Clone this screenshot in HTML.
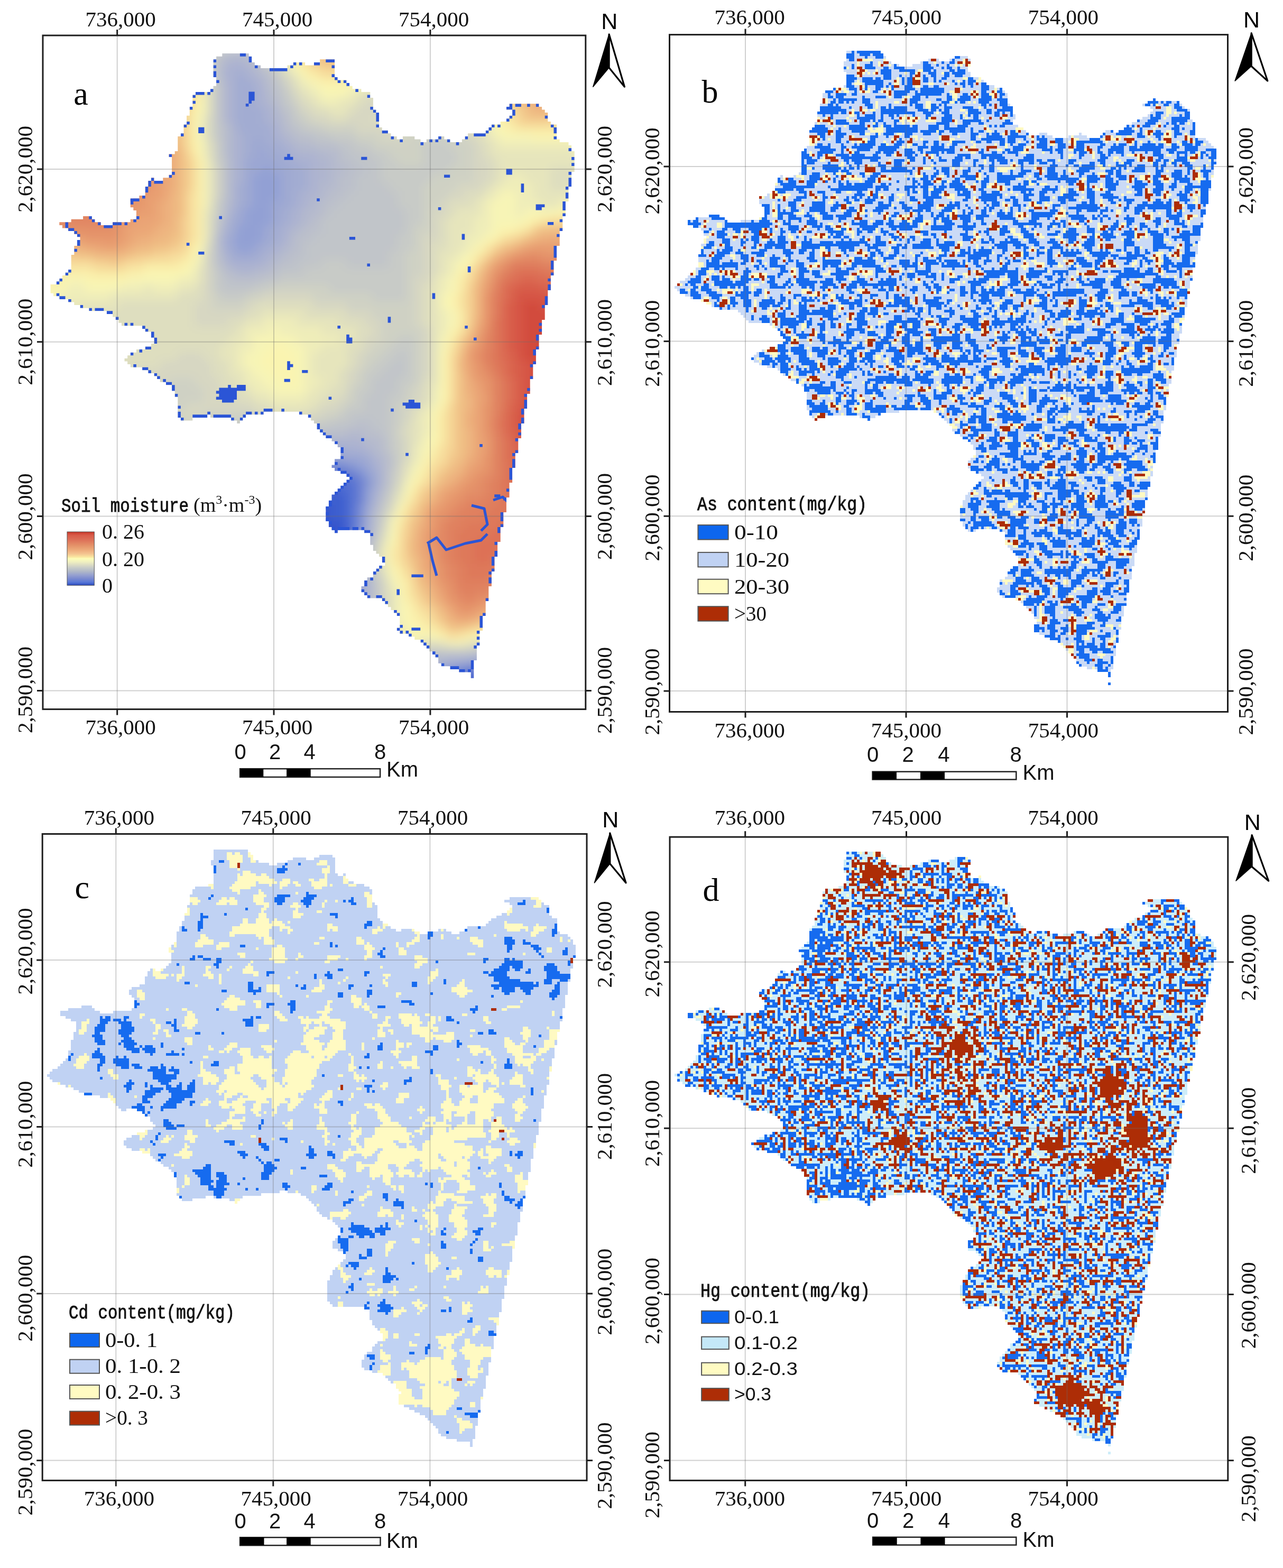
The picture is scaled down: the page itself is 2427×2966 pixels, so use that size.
<!DOCTYPE html>
<html><head><meta charset="utf-8"><title>Soil moisture and heavy metal content maps</title>
<style>
html,body{margin:0;padding:0;background:#fff;}
svg{display:block;}
.g{stroke:#6e6e6e;stroke-opacity:0.32;stroke-width:2;}
.f{fill:none;stroke:#1e1e1e;stroke-width:3;}
.t{stroke:#1e1e1e;stroke-width:3;}
.tl{font-family:'Liberation Serif','Times New Roman',serif;font-size:41px;text-anchor:middle;fill:#111;}
.n{font-family:'Liberation Sans',Arial,sans-serif;font-size:43px;text-anchor:middle;fill:#000;}
.pl{font-family:'Liberation Serif','Times New Roman',serif;font-size:62px;text-anchor:middle;fill:#000;}
.sl{font-family:'Liberation Sans',Arial,sans-serif;font-size:40px;text-anchor:middle;fill:#111;}
.km{font-family:'Liberation Sans',Arial,sans-serif;font-size:40px;fill:#111;}
.lt{font-family:'Liberation Mono','Courier New',monospace;fill:#111;stroke:#111;stroke-width:0.9;}
.ll{font-family:'Liberation Serif','Times New Roman',serif;fill:#111;}
.ls{font-family:'Liberation Sans',Arial,sans-serif;fill:#111;}
</style></head>
<body>
<svg xmlns="http://www.w3.org/2000/svg" width="2427" height="2966" viewBox="0 0 2427 2966">
<defs>
<clipPath id="clipA"><path d="M420.3 101.1h50.4v5.6h-50.4zM409.1 106.7h67.2v5.6h-67.2zM403.5 112.3h72.8v5.6h-72.8zM605.1 112.3h28.0v5.6h-28.0zM403.5 117.9h78.4v5.6h-78.4zM554.7 117.9h22.4v5.6h-22.4zM593.9 117.9h39.2v5.6h-39.2zM403.5 123.5h89.6v5.6h-89.6zM543.5 123.5h89.6v5.6h-89.6zM403.5 129.1h229.6v5.6h-229.6zM403.5 134.7h229.6v5.6h-229.6zM403.5 140.3h229.6v5.6h-229.6zM409.1 145.9h229.6v5.6h-229.6zM409.1 151.5h246.4v5.6h-246.4zM409.1 157.1h252.0v5.6h-252.0zM403.5 162.7h263.2v5.6h-263.2zM397.9 168.3h285.6v5.6h-285.6zM369.9 173.9h330.4v5.6h-330.4zM364.3 179.5h336.0v5.6h-336.0zM364.3 185.1h341.6v5.6h-341.6zM364.3 190.7h341.6v5.6h-341.6zM364.3 196.3h341.6v5.6h-341.6zM963.5 196.3h56.0v5.6h-56.0zM358.7 201.9h347.2v5.6h-347.2zM957.9 201.9h67.2v5.6h-67.2zM358.7 207.5h352.8v5.6h-352.8zM969.1 207.5h61.6v5.6h-61.6zM358.7 213.1h358.4v5.6h-358.4zM969.1 213.1h67.2v5.6h-67.2zM353.1 218.7h364.0v5.6h-364.0zM963.5 218.7h72.8v5.6h-72.8zM353.1 224.3h364.0v5.6h-364.0zM957.9 224.3h78.4v5.6h-78.4zM353.1 229.9h364.0v5.6h-364.0zM946.7 229.9h95.2v5.6h-95.2zM347.5 235.5h369.6v5.6h-369.6zM929.9 235.5h123.2v5.6h-123.2zM347.5 241.1h375.2v5.6h-375.2zM924.3 241.1h128.8v5.6h-128.8zM347.5 246.7h386.4v5.6h-386.4zM918.7 246.7h134.4v5.6h-134.4zM341.9 252.3h397.6v5.6h-397.6zM885.1 252.3h168.0v5.6h-168.0zM336.3 257.9h414.4v5.6h-414.4zM761.9 257.9h22.4v5.6h-22.4zM829.1 257.9h11.2v5.6h-11.2zM879.5 257.9h173.6v5.6h-173.6zM336.3 263.5h459.2v5.6h-459.2zM806.7 263.5h44.8v5.6h-44.8zM873.9 263.5h184.8v5.6h-184.8zM336.3 269.1h739.2v5.6h-739.2zM336.3 274.7h744.8v5.6h-744.8zM336.3 280.3h744.8v5.6h-744.8zM330.7 285.9h756.0v5.6h-756.0zM319.5 291.5h767.2v5.6h-767.2zM325.1 297.1h761.6v5.6h-761.6zM325.1 302.7h761.6v5.6h-761.6zM325.1 308.3h761.6v5.6h-761.6zM325.1 313.9h761.6v5.6h-761.6zM325.1 319.5h761.6v5.6h-761.6zM325.1 325.1h756.0v5.6h-756.0zM319.5 330.7h761.6v5.6h-761.6zM285.9 336.3h5.6v5.6h-5.6zM308.3 336.3h772.8v5.6h-772.8zM280.3 341.9h800.8v5.6h-800.8zM280.3 347.5h800.8v5.6h-800.8zM274.7 353.1h800.8v5.6h-800.8zM274.7 358.7h800.8v5.6h-800.8zM274.7 364.3h800.8v5.6h-800.8zM263.5 369.9h812.0v5.6h-812.0zM246.7 375.5h828.8v5.6h-828.8zM246.7 381.1h823.2v5.6h-823.2zM246.7 386.7h823.2v5.6h-823.2zM252.3 392.3h817.6v5.6h-817.6zM257.9 397.9h812.0v5.6h-812.0zM257.9 403.5h812.0v5.6h-812.0zM157.1 409.1h16.8v5.6h-16.8zM257.9 409.1h806.4v5.6h-806.4zM134.7 414.7h44.8v5.6h-44.8zM246.7 414.7h817.6v5.6h-817.6zM112.3 420.3h78.4v5.6h-78.4zM213.1 420.3h851.2v5.6h-851.2zM117.9 425.9h946.4v5.6h-946.4zM129.1 431.5h935.2v5.6h-935.2zM140.3 437.1h918.4v5.6h-918.4zM145.9 442.7h912.8v5.6h-912.8zM151.5 448.3h907.2v5.6h-907.2zM145.9 453.9h912.8v5.6h-912.8zM145.9 459.5h912.8v5.6h-912.8zM140.3 465.1h912.8v5.6h-912.8zM140.3 470.7h912.8v5.6h-912.8zM140.3 476.3h912.8v5.6h-912.8zM134.7 481.9h918.4v5.6h-918.4zM134.7 487.5h918.4v5.6h-918.4zM134.7 493.1h912.8v5.6h-912.8zM134.7 498.7h912.8v5.6h-912.8zM134.7 504.3h912.8v5.6h-912.8zM129.1 509.9h918.4v5.6h-918.4zM123.5 515.5h924.0v5.6h-924.0zM117.9 521.1h924.0v5.6h-924.0zM112.3 526.7h929.6v5.6h-929.6zM106.7 532.3h935.2v5.6h-935.2zM95.5 537.9h946.4v5.6h-946.4zM95.5 543.5h946.4v5.6h-946.4zM95.5 549.1h940.8v5.6h-940.8zM101.1 554.7h935.2v5.6h-935.2zM112.3 560.3h924.0v5.6h-924.0zM129.1 565.9h907.2v5.6h-907.2zM140.3 571.5h896.0v5.6h-896.0zM151.5 577.1h879.2v5.6h-879.2zM168.3 582.7h862.4v5.6h-862.4zM201.9 588.3h828.8v5.6h-828.8zM213.1 593.9h817.6v5.6h-817.6zM218.7 599.5h812.0v5.6h-812.0zM224.3 605.1h800.8v5.6h-800.8zM229.9 610.7h795.2v5.6h-795.2zM269.1 616.3h756.0v5.6h-756.0zM274.7 621.9h750.4v5.6h-750.4zM285.9 627.5h739.2v5.6h-739.2zM285.9 633.1h733.6v5.6h-733.6zM291.5 638.7h728.0v5.6h-728.0zM291.5 644.3h728.0v5.6h-728.0zM285.9 649.9h733.6v5.6h-733.6zM274.7 655.5h744.8v5.6h-744.8zM257.9 661.1h756.0v5.6h-756.0zM246.7 666.7h767.2v5.6h-767.2zM241.1 672.3h772.8v5.6h-772.8zM235.5 677.9h778.4v5.6h-778.4zM241.1 683.5h772.8v5.6h-772.8zM246.7 689.1h761.6v5.6h-761.6zM269.1 694.7h739.2v5.6h-739.2zM280.3 700.3h728.0v5.6h-728.0zM291.5 705.9h716.8v5.6h-716.8zM297.1 711.5h711.2v5.6h-711.2zM302.7 717.1h700.0v5.6h-700.0zM313.9 722.7h688.8v5.6h-688.8zM325.1 728.3h677.6v5.6h-677.6zM325.1 733.9h677.6v5.6h-677.6zM330.7 739.5h672.0v5.6h-672.0zM330.7 745.1h666.4v5.6h-666.4zM336.3 750.7h660.8v5.6h-660.8zM336.3 756.3h660.8v5.6h-660.8zM336.3 761.9h660.8v5.6h-660.8zM336.3 767.5h660.8v5.6h-660.8zM336.3 773.1h655.2v5.6h-655.2zM336.3 778.7h162.4v5.6h-162.4zM565.9 778.7h425.6v5.6h-425.6zM336.3 784.3h56.0v5.6h-56.0zM397.9 784.3h67.2v5.6h-67.2zM582.7 784.3h408.8v5.6h-408.8zM341.9 789.9h22.4v5.6h-22.4zM437.1 789.9h22.4v5.6h-22.4zM588.3 789.9h403.2v5.6h-403.2zM448.3 795.5h5.6v5.6h-5.6zM593.9 795.5h397.6v5.6h-397.6zM599.5 801.1h386.4v5.6h-386.4zM599.5 806.7h386.4v5.6h-386.4zM605.1 812.3h380.8v5.6h-380.8zM610.7 817.9h375.2v5.6h-375.2zM616.3 823.5h369.6v5.6h-369.6zM627.5 829.1h352.8v5.6h-352.8zM633.1 834.7h347.2v5.6h-347.2zM638.7 840.3h341.6v5.6h-341.6zM644.3 845.9h336.0v5.6h-336.0zM644.3 851.5h336.0v5.6h-336.0zM644.3 857.1h330.4v5.6h-330.4zM644.3 862.7h330.4v5.6h-330.4zM633.1 868.3h341.6v5.6h-341.6zM633.1 873.9h341.6v5.6h-341.6zM627.5 879.5h347.2v5.6h-347.2zM633.1 885.1h336.0v5.6h-336.0zM644.3 890.7h324.8v5.6h-324.8zM655.5 896.3h313.6v5.6h-313.6zM661.1 901.9h308.0v5.6h-308.0zM655.5 907.5h313.6v5.6h-313.6zM649.9 913.1h313.6v5.6h-313.6zM644.3 918.7h319.2v5.6h-319.2zM638.7 924.3h324.8v5.6h-324.8zM633.1 929.9h330.4v5.6h-330.4zM627.5 935.5h336.0v5.6h-336.0zM627.5 941.1h330.4v5.6h-330.4zM621.9 946.7h336.0v5.6h-336.0zM621.9 952.3h336.0v5.6h-336.0zM616.3 957.9h341.6v5.6h-341.6zM616.3 963.5h341.6v5.6h-341.6zM616.3 969.1h336.0v5.6h-336.0zM616.3 974.7h336.0v5.6h-336.0zM616.3 980.3h336.0v5.6h-336.0zM621.9 985.9h330.4v5.6h-330.4zM621.9 991.5h330.4v5.6h-330.4zM627.5 997.1h319.2v5.6h-319.2zM633.1 1002.7h5.6v5.6h-5.6zM689.1 1002.7h257.6v5.6h-257.6zM700.3 1008.3h246.4v5.6h-246.4zM700.3 1013.9h246.4v5.6h-246.4zM700.3 1019.5h246.4v5.6h-246.4zM700.3 1025.1h240.8v5.6h-240.8zM705.9 1030.7h235.2v5.6h-235.2zM705.9 1036.3h235.2v5.6h-235.2zM711.5 1041.9h229.6v5.6h-229.6zM717.1 1047.5h224.0v5.6h-224.0zM722.7 1053.1h212.8v5.6h-212.8zM722.7 1058.7h212.8v5.6h-212.8zM728.3 1064.3h207.2v5.6h-207.2zM717.1 1069.9h218.4v5.6h-218.4zM711.5 1075.5h224.0v5.6h-224.0zM705.9 1081.1h224.0v5.6h-224.0zM705.9 1086.7h224.0v5.6h-224.0zM694.7 1092.3h235.2v5.6h-235.2zM689.1 1097.9h240.8v5.6h-240.8zM689.1 1103.5h240.8v5.6h-240.8zM683.5 1109.1h240.8v5.6h-240.8zM683.5 1114.7h240.8v5.6h-240.8zM689.1 1120.3h235.2v5.6h-235.2zM694.7 1125.9h229.6v5.6h-229.6zM722.7 1131.5h201.6v5.6h-201.6zM728.3 1137.1h190.4v5.6h-190.4zM733.9 1142.7h184.8v5.6h-184.8zM739.5 1148.3h179.2v5.6h-179.2zM745.1 1153.9h173.6v5.6h-173.6zM750.7 1159.5h168.0v5.6h-168.0zM756.3 1165.1h156.8v5.6h-156.8zM756.3 1170.7h156.8v5.6h-156.8zM756.3 1176.3h156.8v5.6h-156.8zM756.3 1181.9h156.8v5.6h-156.8zM750.7 1187.5h162.4v5.6h-162.4zM756.3 1193.1h151.2v5.6h-151.2zM773.1 1198.7h134.4v5.6h-134.4zM784.3 1204.3h123.2v5.6h-123.2zM795.5 1209.9h112.0v5.6h-112.0zM801.1 1215.5h106.4v5.6h-106.4zM806.7 1221.1h95.2v5.6h-95.2zM812.3 1226.7h89.6v5.6h-89.6zM817.9 1232.3h84.0v5.6h-84.0zM823.5 1237.9h78.4v5.6h-78.4zM829.1 1243.5h72.8v5.6h-72.8zM829.1 1249.1h67.2v5.6h-67.2zM834.7 1254.7h61.6v5.6h-61.6zM851.5 1260.3h44.8v5.6h-44.8zM868.3 1265.9h28.0v5.6h-28.0zM890.7 1271.5h5.6v5.6h-5.6zM890.7 1277.1h5.6v5.6h-5.6z"/></clipPath>
<filter id="blurA" filterUnits="userSpaceOnUse" x="60" y="70" width="1070" height="1280"><feGaussianBlur stdDeviation="9"/></filter>
<clipPath id="clipB"><path d="M1601.0 96.0h65.0v5h-65.0zM1601.0 101.0h70.0v5h-70.0zM1601.0 106.0h75.0v5h-75.0zM1806.0 106.0h25.0v5h-25.0zM1601.0 111.0h75.0v5h-75.0zM1756.0 111.0h20.0v5h-20.0zM1796.0 111.0h40.0v5h-40.0zM1596.0 116.0h90.0v5h-90.0zM1741.0 116.0h95.0v5h-95.0zM1596.0 121.0h105.0v5h-105.0zM1726.0 121.0h110.0v5h-110.0zM1596.0 126.0h235.0v5h-235.0zM1596.0 131.0h235.0v5h-235.0zM1601.0 136.0h235.0v5h-235.0zM1601.0 141.0h235.0v5h-235.0zM1601.0 146.0h255.0v5h-255.0zM1601.0 151.0h260.0v5h-260.0zM1601.0 156.0h265.0v5h-265.0zM1596.0 161.0h285.0v5h-285.0zM1576.0 166.0h320.0v5h-320.0zM1561.0 171.0h340.0v5h-340.0zM1556.0 176.0h350.0v5h-350.0zM1556.0 181.0h350.0v5h-350.0zM1556.0 186.0h350.0v5h-350.0zM2181.0 186.0h5.0v5h-5.0zM1556.0 191.0h350.0v5h-350.0zM2171.0 191.0h60.0v5h-60.0zM1551.0 196.0h360.0v5h-360.0zM2161.0 196.0h75.0v5h-75.0zM1551.0 201.0h365.0v5h-365.0zM2176.0 201.0h65.0v5h-65.0zM1551.0 206.0h365.0v5h-365.0zM2181.0 206.0h70.0v5h-70.0zM1546.0 211.0h370.0v5h-370.0zM2176.0 211.0h75.0v5h-75.0zM1546.0 216.0h375.0v5h-375.0zM2171.0 216.0h80.0v5h-80.0zM1546.0 221.0h375.0v5h-375.0zM2161.0 221.0h90.0v5h-90.0zM1546.0 226.0h370.0v5h-370.0zM2151.0 226.0h105.0v5h-105.0zM1541.0 231.0h375.0v5h-375.0zM2141.0 231.0h120.0v5h-120.0zM1541.0 236.0h385.0v5h-385.0zM2131.0 236.0h130.0v5h-130.0zM1536.0 241.0h400.0v5h-400.0zM2126.0 241.0h135.0v5h-135.0zM1531.0 246.0h410.0v5h-410.0zM2091.0 246.0h15.0v5h-15.0zM2116.0 246.0h145.0v5h-145.0zM1531.0 251.0h415.0v5h-415.0zM1966.0 251.0h15.0v5h-15.0zM2041.0 251.0h5.0v5h-5.0zM2086.0 251.0h175.0v5h-175.0zM1531.0 256.0h460.0v5h-460.0zM2021.0 256.0h35.0v5h-35.0zM2081.0 256.0h180.0v5h-180.0zM1531.0 261.0h750.0v5h-750.0zM1531.0 266.0h755.0v5h-755.0zM1531.0 271.0h760.0v5h-760.0zM1526.0 276.0h770.0v5h-770.0zM1521.0 281.0h780.0v5h-780.0zM1516.0 286.0h785.0v5h-785.0zM1516.0 291.0h785.0v5h-785.0zM1516.0 296.0h785.0v5h-785.0zM1516.0 301.0h785.0v5h-785.0zM1516.0 306.0h785.0v5h-785.0zM1516.0 311.0h780.0v5h-780.0zM1516.0 316.0h780.0v5h-780.0zM1516.0 321.0h780.0v5h-780.0zM1511.0 326.0h785.0v5h-785.0zM1476.0 331.0h5.0v5h-5.0zM1501.0 331.0h795.0v5h-795.0zM1471.0 336.0h820.0v5h-820.0zM1471.0 341.0h820.0v5h-820.0zM1466.0 346.0h825.0v5h-825.0zM1466.0 351.0h825.0v5h-825.0zM1466.0 356.0h825.0v5h-825.0zM1461.0 361.0h825.0v5h-825.0zM1451.0 366.0h835.0v5h-835.0zM1436.0 371.0h850.0v5h-850.0zM1436.0 376.0h850.0v5h-850.0zM1436.0 381.0h850.0v5h-850.0zM1441.0 386.0h840.0v5h-840.0zM1446.0 391.0h835.0v5h-835.0zM1446.0 396.0h835.0v5h-835.0zM1446.0 401.0h835.0v5h-835.0zM1341.0 406.0h20.0v5h-20.0zM1446.0 406.0h830.0v5h-830.0zM1316.0 411.0h55.0v5h-55.0zM1436.0 411.0h840.0v5h-840.0zM1301.0 416.0h75.0v5h-75.0zM1401.0 416.0h875.0v5h-875.0zM1301.0 421.0h975.0v5h-975.0zM1311.0 426.0h965.0v5h-965.0zM1326.0 431.0h945.0v5h-945.0zM1331.0 436.0h940.0v5h-940.0zM1331.0 441.0h940.0v5h-940.0zM1336.0 446.0h935.0v5h-935.0zM1331.0 451.0h940.0v5h-940.0zM1331.0 456.0h935.0v5h-935.0zM1326.0 461.0h940.0v5h-940.0zM1326.0 466.0h940.0v5h-940.0zM1326.0 471.0h940.0v5h-940.0zM1326.0 476.0h940.0v5h-940.0zM1321.0 481.0h940.0v5h-940.0zM1321.0 486.0h940.0v5h-940.0zM1321.0 491.0h940.0v5h-940.0zM1321.0 496.0h940.0v5h-940.0zM1321.0 501.0h940.0v5h-940.0zM1316.0 506.0h940.0v5h-940.0zM1311.0 511.0h945.0v5h-945.0zM1306.0 516.0h950.0v5h-950.0zM1301.0 521.0h955.0v5h-955.0zM1296.0 526.0h960.0v5h-960.0zM1286.0 531.0h965.0v5h-965.0zM1281.0 536.0h970.0v5h-970.0zM1276.0 541.0h975.0v5h-975.0zM1281.0 546.0h970.0v5h-970.0zM1286.0 551.0h965.0v5h-965.0zM1296.0 556.0h950.0v5h-950.0zM1306.0 561.0h940.0v5h-940.0zM1326.0 566.0h920.0v5h-920.0zM1336.0 571.0h910.0v5h-910.0zM1346.0 576.0h900.0v5h-900.0zM1361.0 581.0h880.0v5h-880.0zM1396.0 586.0h845.0v5h-845.0zM1401.0 591.0h840.0v5h-840.0zM1406.0 596.0h835.0v5h-835.0zM1411.0 601.0h830.0v5h-830.0zM1416.0 606.0h820.0v5h-820.0zM1456.0 611.0h780.0v5h-780.0zM1461.0 616.0h775.0v5h-775.0zM1471.0 621.0h765.0v5h-765.0zM1476.0 626.0h760.0v5h-760.0zM1476.0 631.0h755.0v5h-755.0zM1481.0 636.0h750.0v5h-750.0zM1486.0 641.0h745.0v5h-745.0zM1481.0 646.0h750.0v5h-750.0zM1471.0 651.0h755.0v5h-755.0zM1456.0 656.0h770.0v5h-770.0zM1441.0 661.0h785.0v5h-785.0zM1431.0 666.0h795.0v5h-795.0zM1426.0 671.0h800.0v5h-800.0zM1421.0 676.0h800.0v5h-800.0zM1426.0 681.0h795.0v5h-795.0zM1436.0 686.0h785.0v5h-785.0zM1451.0 691.0h770.0v5h-770.0zM1471.0 696.0h750.0v5h-750.0zM1476.0 701.0h740.0v5h-740.0zM1481.0 706.0h735.0v5h-735.0zM1491.0 711.0h725.0v5h-725.0zM1496.0 716.0h720.0v5h-720.0zM1506.0 721.0h710.0v5h-710.0zM1516.0 726.0h695.0v5h-695.0zM1521.0 731.0h690.0v5h-690.0zM1521.0 736.0h690.0v5h-690.0zM1526.0 741.0h685.0v5h-685.0zM1526.0 746.0h685.0v5h-685.0zM1526.0 751.0h680.0v5h-680.0zM1526.0 756.0h680.0v5h-680.0zM1526.0 761.0h680.0v5h-680.0zM1526.0 766.0h680.0v5h-680.0zM1526.0 771.0h680.0v5h-680.0zM1531.0 776.0h170.0v5h-170.0zM1766.0 776.0h435.0v5h-435.0zM1531.0 781.0h135.0v5h-135.0zM1776.0 781.0h425.0v5h-425.0zM1536.0 786.0h25.0v5h-25.0zM1626.0 786.0h30.0v5h-30.0zM1781.0 786.0h420.0v5h-420.0zM1541.0 791.0h5.0v5h-5.0zM1641.0 791.0h5.0v5h-5.0zM1786.0 791.0h415.0v5h-415.0zM1791.0 796.0h410.0v5h-410.0zM1796.0 801.0h400.0v5h-400.0zM1801.0 806.0h395.0v5h-395.0zM1801.0 811.0h395.0v5h-395.0zM1806.0 816.0h390.0v5h-390.0zM1816.0 821.0h380.0v5h-380.0zM1821.0 826.0h370.0v5h-370.0zM1831.0 831.0h360.0v5h-360.0zM1836.0 836.0h355.0v5h-355.0zM1841.0 841.0h350.0v5h-350.0zM1841.0 846.0h350.0v5h-350.0zM1846.0 851.0h340.0v5h-340.0zM1846.0 856.0h340.0v5h-340.0zM1841.0 861.0h345.0v5h-345.0zM1836.0 866.0h350.0v5h-350.0zM1831.0 871.0h355.0v5h-355.0zM1831.0 876.0h350.0v5h-350.0zM1831.0 881.0h350.0v5h-350.0zM1836.0 886.0h345.0v5h-345.0zM1846.0 891.0h335.0v5h-335.0zM1856.0 896.0h325.0v5h-325.0zM1861.0 901.0h315.0v5h-315.0zM1856.0 906.0h320.0v5h-320.0zM1851.0 911.0h325.0v5h-325.0zM1846.0 916.0h330.0v5h-330.0zM1841.0 921.0h330.0v5h-330.0zM1836.0 926.0h335.0v5h-335.0zM1831.0 931.0h340.0v5h-340.0zM1826.0 936.0h345.0v5h-345.0zM1826.0 941.0h345.0v5h-345.0zM1821.0 946.0h345.0v5h-345.0zM1821.0 951.0h345.0v5h-345.0zM1816.0 956.0h350.0v5h-350.0zM1816.0 961.0h350.0v5h-350.0zM1816.0 966.0h350.0v5h-350.0zM1816.0 971.0h345.0v5h-345.0zM1816.0 976.0h345.0v5h-345.0zM1816.0 981.0h345.0v5h-345.0zM1821.0 986.0h340.0v5h-340.0zM1821.0 991.0h340.0v5h-340.0zM1826.0 996.0h330.0v5h-330.0zM1831.0 1001.0h15.0v5h-15.0zM1891.0 1001.0h265.0v5h-265.0zM1901.0 1006.0h255.0v5h-255.0zM1901.0 1011.0h255.0v5h-255.0zM1901.0 1016.0h255.0v5h-255.0zM1901.0 1021.0h250.0v5h-250.0zM1901.0 1026.0h250.0v5h-250.0zM1906.0 1031.0h245.0v5h-245.0zM1911.0 1036.0h240.0v5h-240.0zM1916.0 1041.0h235.0v5h-235.0zM1921.0 1046.0h225.0v5h-225.0zM1926.0 1051.0h220.0v5h-220.0zM1926.0 1056.0h220.0v5h-220.0zM1926.0 1061.0h220.0v5h-220.0zM1926.0 1066.0h220.0v5h-220.0zM1916.0 1071.0h225.0v5h-225.0zM1911.0 1076.0h230.0v5h-230.0zM1906.0 1081.0h235.0v5h-235.0zM1906.0 1086.0h235.0v5h-235.0zM1901.0 1091.0h240.0v5h-240.0zM1891.0 1096.0h245.0v5h-245.0zM1891.0 1101.0h245.0v5h-245.0zM1891.0 1106.0h245.0v5h-245.0zM1886.0 1111.0h250.0v5h-250.0zM1886.0 1116.0h250.0v5h-250.0zM1891.0 1121.0h240.0v5h-240.0zM1896.0 1126.0h235.0v5h-235.0zM1921.0 1131.0h210.0v5h-210.0zM1931.0 1136.0h200.0v5h-200.0zM1936.0 1141.0h195.0v5h-195.0zM1941.0 1146.0h185.0v5h-185.0zM1946.0 1151.0h180.0v5h-180.0zM1951.0 1156.0h175.0v5h-175.0zM1956.0 1161.0h170.0v5h-170.0zM1956.0 1166.0h165.0v5h-165.0zM1961.0 1171.0h160.0v5h-160.0zM1961.0 1176.0h160.0v5h-160.0zM1956.0 1181.0h165.0v5h-165.0zM1956.0 1186.0h165.0v5h-165.0zM1956.0 1191.0h160.0v5h-160.0zM1966.0 1196.0h150.0v5h-150.0zM1976.0 1201.0h140.0v5h-140.0zM1986.0 1206.0h130.0v5h-130.0zM2001.0 1211.0h115.0v5h-115.0zM2006.0 1216.0h105.0v5h-105.0zM2011.0 1221.0h100.0v5h-100.0zM2016.0 1226.0h95.0v5h-95.0zM2021.0 1231.0h90.0v5h-90.0zM2026.0 1236.0h85.0v5h-85.0zM2031.0 1241.0h75.0v5h-75.0zM2036.0 1246.0h70.0v5h-70.0zM2036.0 1251.0h70.0v5h-70.0zM2041.0 1256.0h65.0v5h-65.0zM2056.0 1261.0h50.0v5h-50.0zM2076.0 1266.0h25.0v5h-25.0zM2096.0 1271.0h5.0v5h-5.0zM2096.0 1276.0h5.0v5h-5.0zM2096.0 1291.0h5.0v5h-5.0z"/></clipPath>
<filter id="texB" filterUnits="userSpaceOnUse" primitiveUnits="userSpaceOnUse" x="1268" y="88" width="1042" height="1230" color-interpolation-filters="sRGB">
<feTurbulence type="fractalNoise" baseFrequency="0.055" numOctaves="3" seed="11" result="t"/>
<feColorMatrix in="t" type="matrix" values="1 0 0 0 0 1 0 0 0 0 1 0 0 0 0 0 0 0 0 1" result="n"/>
<feFlood x="1268" y="88" width="1" height="1" flood-color="#fff" result="d"/>
<feComposite in="d" in2="d" operator="over" x="1268" y="88" width="5" height="5" result="d2"/>
<feTile in="d2" result="dots"/>
<feComposite in="n" in2="dots" operator="in" result="smp"/>
<feMorphology in="smp" operator="dilate" radius="2 2" result="blk"/>
<feComponentTransfer in="blk">
<feFuncR type="discrete" tableValues="0.09 0.09 0.09 0.09 0.09 0.09 0.09 0.09 0.09 0.09 0.09 0.09 0.09 0.09 0.09 0.09 0.09 0.09 0.09 0.09 0.09 0.09 0.09 0.09 0.09 0.09 0.09 0.09 0.09 0.09 0.09 0.09 0.09 0.09 0.09 0.09 0.09 0.09 0.09 0.09 0.09 0.09 0.09 0.09 0.09 0.09 0.09 0.09 0.09 0.09 0.09 0.09 0.09 0.09 0.09 0.09 0.09 0.09 0.09 0.09 0.09 0.09 0.09 0.09 0.09 0.09 0.09 0.09 0.09 0.09 0.09 0.09 0.09 0.09 0.09 0.09 0.09 0.09 0.09 0.09 0.09 0.09 0.09 0.09 0.09 0.09 0.09 0.09 0.09 0.09 0.09 0.09 0.09 0.09 0.09 0.09 0.09 0.09 0.09 0.09 0.09 0.09 0.09 0.09 0.09 0.09 0.09 0.09 0.09 0.09 0.09 0.09 0.09 0.09 0.09 0.09 0.09 0.09 0.09 0.09 0.796 0.796 0.796 0.796 0.796 0.796 0.796 0.796 0.796 0.796 0.796 0.796 0.796 0.796 0.796 0.796 0.796 0.796 0.796 0.796 0.796 0.796 0.796 0.796 0.796 0.796 0.796 0.796 0.796 0.796 0.796 0.796 0.796 0.796 0.796 0.796 0.796 0.796 0.796 0.796 0.796 0.796 1 1 1 1 1 1 1 1 1 1 1 1 1 1 1 1 1 1 1 0.678 0.678 0.678 0.678 0.678 0.678 0.678 0.678 0.678 0.678 0.678 0.678 0.678 0.678 0.678 0.678 0.678 0.678 0.678 0.678 0.678 0.678 0.678 0.678 0.678 0.678 0.678 0.678 0.678 0.678 0.678 0.678 0.678 0.678 0.678 0.678 0.678 0.678 0.678 0.678 0.678 0.678 0.678 0.678 0.678 0.678 0.678 0.678 0.678 0.678 0.678 0.678 0.678 0.678 0.678 0.678 0.678 0.678 0.678 0.678 0.678 0.678 0.678 0.678 0.678 0.678 0.678 0.678 0.678 0.678 0.678 0.678 0.678 0.678 0.678"/>
<feFuncG type="discrete" tableValues="0.42 0.42 0.42 0.42 0.42 0.42 0.42 0.42 0.42 0.42 0.42 0.42 0.42 0.42 0.42 0.42 0.42 0.42 0.42 0.42 0.42 0.42 0.42 0.42 0.42 0.42 0.42 0.42 0.42 0.42 0.42 0.42 0.42 0.42 0.42 0.42 0.42 0.42 0.42 0.42 0.42 0.42 0.42 0.42 0.42 0.42 0.42 0.42 0.42 0.42 0.42 0.42 0.42 0.42 0.42 0.42 0.42 0.42 0.42 0.42 0.42 0.42 0.42 0.42 0.42 0.42 0.42 0.42 0.42 0.42 0.42 0.42 0.42 0.42 0.42 0.42 0.42 0.42 0.42 0.42 0.42 0.42 0.42 0.42 0.42 0.42 0.42 0.42 0.42 0.42 0.42 0.42 0.42 0.42 0.42 0.42 0.42 0.42 0.42 0.42 0.42 0.42 0.42 0.42 0.42 0.42 0.42 0.42 0.42 0.42 0.42 0.42 0.42 0.42 0.42 0.42 0.42 0.42 0.42 0.42 0.855 0.855 0.855 0.855 0.855 0.855 0.855 0.855 0.855 0.855 0.855 0.855 0.855 0.855 0.855 0.855 0.855 0.855 0.855 0.855 0.855 0.855 0.855 0.855 0.855 0.855 0.855 0.855 0.855 0.855 0.855 0.855 0.855 0.855 0.855 0.855 0.855 0.855 0.855 0.855 0.855 0.855 0.984 0.984 0.984 0.984 0.984 0.984 0.984 0.984 0.984 0.984 0.984 0.984 0.984 0.984 0.984 0.984 0.984 0.984 0.984 0.176 0.176 0.176 0.176 0.176 0.176 0.176 0.176 0.176 0.176 0.176 0.176 0.176 0.176 0.176 0.176 0.176 0.176 0.176 0.176 0.176 0.176 0.176 0.176 0.176 0.176 0.176 0.176 0.176 0.176 0.176 0.176 0.176 0.176 0.176 0.176 0.176 0.176 0.176 0.176 0.176 0.176 0.176 0.176 0.176 0.176 0.176 0.176 0.176 0.176 0.176 0.176 0.176 0.176 0.176 0.176 0.176 0.176 0.176 0.176 0.176 0.176 0.176 0.176 0.176 0.176 0.176 0.176 0.176 0.176 0.176 0.176 0.176 0.176 0.176"/>
<feFuncB type="discrete" tableValues="0.941 0.941 0.941 0.941 0.941 0.941 0.941 0.941 0.941 0.941 0.941 0.941 0.941 0.941 0.941 0.941 0.941 0.941 0.941 0.941 0.941 0.941 0.941 0.941 0.941 0.941 0.941 0.941 0.941 0.941 0.941 0.941 0.941 0.941 0.941 0.941 0.941 0.941 0.941 0.941 0.941 0.941 0.941 0.941 0.941 0.941 0.941 0.941 0.941 0.941 0.941 0.941 0.941 0.941 0.941 0.941 0.941 0.941 0.941 0.941 0.941 0.941 0.941 0.941 0.941 0.941 0.941 0.941 0.941 0.941 0.941 0.941 0.941 0.941 0.941 0.941 0.941 0.941 0.941 0.941 0.941 0.941 0.941 0.941 0.941 0.941 0.941 0.941 0.941 0.941 0.941 0.941 0.941 0.941 0.941 0.941 0.941 0.941 0.941 0.941 0.941 0.941 0.941 0.941 0.941 0.941 0.941 0.941 0.941 0.941 0.941 0.941 0.941 0.941 0.941 0.941 0.941 0.941 0.941 0.941 0.965 0.965 0.965 0.965 0.965 0.965 0.965 0.965 0.965 0.965 0.965 0.965 0.965 0.965 0.965 0.965 0.965 0.965 0.965 0.965 0.965 0.965 0.965 0.965 0.965 0.965 0.965 0.965 0.965 0.965 0.965 0.965 0.965 0.965 0.965 0.965 0.965 0.965 0.965 0.965 0.965 0.965 0.761 0.761 0.761 0.761 0.761 0.761 0.761 0.761 0.761 0.761 0.761 0.761 0.761 0.761 0.761 0.761 0.761 0.761 0.761 0.024 0.024 0.024 0.024 0.024 0.024 0.024 0.024 0.024 0.024 0.024 0.024 0.024 0.024 0.024 0.024 0.024 0.024 0.024 0.024 0.024 0.024 0.024 0.024 0.024 0.024 0.024 0.024 0.024 0.024 0.024 0.024 0.024 0.024 0.024 0.024 0.024 0.024 0.024 0.024 0.024 0.024 0.024 0.024 0.024 0.024 0.024 0.024 0.024 0.024 0.024 0.024 0.024 0.024 0.024 0.024 0.024 0.024 0.024 0.024 0.024 0.024 0.024 0.024 0.024 0.024 0.024 0.024 0.024 0.024 0.024 0.024 0.024 0.024 0.024"/>
<feFuncA type="linear" slope="0" intercept="1"/>
</feComponentTransfer>
</filter>
<clipPath id="clipC"><path d="M404.0 1607.0h65.0v5h-65.0zM404.0 1612.0h70.0v5h-70.0zM404.0 1617.0h75.0v5h-75.0zM604.0 1617.0h25.0v5h-25.0zM404.0 1622.0h75.0v5h-75.0zM554.0 1622.0h25.0v5h-25.0zM594.0 1622.0h40.0v5h-40.0zM399.0 1627.0h90.0v5h-90.0zM544.0 1627.0h90.0v5h-90.0zM399.0 1632.0h110.0v5h-110.0zM524.0 1632.0h110.0v5h-110.0zM404.0 1637.0h230.0v5h-230.0zM404.0 1642.0h230.0v5h-230.0zM404.0 1647.0h230.0v5h-230.0zM404.0 1652.0h235.0v5h-235.0zM649.0 1652.0h5.0v5h-5.0zM404.0 1657.0h250.0v5h-250.0zM404.0 1662.0h255.0v5h-255.0zM404.0 1667.0h265.0v5h-265.0zM394.0 1672.0h295.0v5h-295.0zM369.0 1677.0h330.0v5h-330.0zM364.0 1682.0h340.0v5h-340.0zM364.0 1687.0h340.0v5h-340.0zM359.0 1692.0h345.0v5h-345.0zM359.0 1697.0h345.0v5h-345.0zM964.0 1697.0h55.0v5h-55.0zM359.0 1702.0h345.0v5h-345.0zM954.0 1702.0h70.0v5h-70.0zM359.0 1707.0h350.0v5h-350.0zM964.0 1707.0h65.0v5h-65.0zM354.0 1712.0h360.0v5h-360.0zM969.0 1712.0h70.0v5h-70.0zM354.0 1717.0h360.0v5h-360.0zM964.0 1717.0h75.0v5h-75.0zM354.0 1722.0h360.0v5h-360.0zM959.0 1722.0h80.0v5h-80.0zM349.0 1727.0h365.0v5h-365.0zM949.0 1727.0h90.0v5h-90.0zM349.0 1732.0h365.0v5h-365.0zM939.0 1732.0h105.0v5h-105.0zM349.0 1737.0h370.0v5h-370.0zM929.0 1737.0h125.0v5h-125.0zM344.0 1742.0h380.0v5h-380.0zM924.0 1742.0h130.0v5h-130.0zM344.0 1747.0h390.0v5h-390.0zM919.0 1747.0h135.0v5h-135.0zM339.0 1752.0h400.0v5h-400.0zM884.0 1752.0h170.0v5h-170.0zM339.0 1757.0h410.0v5h-410.0zM759.0 1757.0h25.0v5h-25.0zM829.0 1757.0h15.0v5h-15.0zM879.0 1757.0h175.0v5h-175.0zM334.0 1762.0h460.0v5h-460.0zM809.0 1762.0h45.0v5h-45.0zM869.0 1762.0h190.0v5h-190.0zM334.0 1767.0h740.0v5h-740.0zM334.0 1772.0h745.0v5h-745.0zM334.0 1777.0h750.0v5h-750.0zM329.0 1782.0h755.0v5h-755.0zM324.0 1787.0h765.0v5h-765.0zM319.0 1792.0h770.0v5h-770.0zM319.0 1797.0h770.0v5h-770.0zM324.0 1802.0h765.0v5h-765.0zM324.0 1807.0h765.0v5h-765.0zM324.0 1812.0h760.0v5h-760.0zM324.0 1817.0h760.0v5h-760.0zM319.0 1822.0h765.0v5h-765.0zM314.0 1827.0h770.0v5h-770.0zM284.0 1832.0h10.0v5h-10.0zM304.0 1832.0h775.0v5h-775.0zM279.0 1837.0h800.0v5h-800.0zM279.0 1842.0h800.0v5h-800.0zM274.0 1847.0h805.0v5h-805.0zM274.0 1852.0h805.0v5h-805.0zM274.0 1857.0h800.0v5h-800.0zM264.0 1862.0h810.0v5h-810.0zM249.0 1867.0h825.0v5h-825.0zM244.0 1872.0h830.0v5h-830.0zM244.0 1877.0h830.0v5h-830.0zM249.0 1882.0h820.0v5h-820.0zM254.0 1887.0h815.0v5h-815.0zM254.0 1892.0h815.0v5h-815.0zM254.0 1897.0h815.0v5h-815.0zM154.0 1902.0h20.0v5h-20.0zM254.0 1902.0h815.0v5h-815.0zM129.0 1907.0h50.0v5h-50.0zM249.0 1907.0h815.0v5h-815.0zM114.0 1912.0h75.0v5h-75.0zM214.0 1912.0h850.0v5h-850.0zM114.0 1917.0h950.0v5h-950.0zM124.0 1922.0h940.0v5h-940.0zM134.0 1927.0h930.0v5h-930.0zM144.0 1932.0h915.0v5h-915.0zM144.0 1937.0h915.0v5h-915.0zM144.0 1942.0h915.0v5h-915.0zM144.0 1947.0h915.0v5h-915.0zM139.0 1952.0h915.0v5h-915.0zM139.0 1957.0h915.0v5h-915.0zM139.0 1962.0h915.0v5h-915.0zM134.0 1967.0h920.0v5h-920.0zM134.0 1972.0h920.0v5h-920.0zM134.0 1977.0h915.0v5h-915.0zM134.0 1982.0h915.0v5h-915.0zM129.0 1987.0h920.0v5h-920.0zM129.0 1992.0h920.0v5h-920.0zM129.0 1997.0h920.0v5h-920.0zM124.0 2002.0h920.0v5h-920.0zM119.0 2007.0h925.0v5h-925.0zM114.0 2012.0h930.0v5h-930.0zM109.0 2017.0h935.0v5h-935.0zM99.0 2022.0h945.0v5h-945.0zM94.0 2027.0h945.0v5h-945.0zM89.0 2032.0h950.0v5h-950.0zM94.0 2037.0h945.0v5h-945.0zM99.0 2042.0h940.0v5h-940.0zM109.0 2047.0h930.0v5h-930.0zM124.0 2052.0h910.0v5h-910.0zM139.0 2057.0h895.0v5h-895.0zM149.0 2062.0h885.0v5h-885.0zM159.0 2067.0h875.0v5h-875.0zM189.0 2072.0h840.0v5h-840.0zM209.0 2077.0h820.0v5h-820.0zM214.0 2082.0h815.0v5h-815.0zM219.0 2087.0h810.0v5h-810.0zM224.0 2092.0h805.0v5h-805.0zM229.0 2097.0h10.0v5h-10.0zM259.0 2097.0h765.0v5h-765.0zM269.0 2102.0h755.0v5h-755.0zM274.0 2107.0h750.0v5h-750.0zM284.0 2112.0h740.0v5h-740.0zM284.0 2117.0h740.0v5h-740.0zM289.0 2122.0h730.0v5h-730.0zM294.0 2127.0h725.0v5h-725.0zM289.0 2132.0h730.0v5h-730.0zM274.0 2137.0h745.0v5h-745.0zM259.0 2142.0h760.0v5h-760.0zM249.0 2147.0h765.0v5h-765.0zM239.0 2152.0h775.0v5h-775.0zM234.0 2157.0h780.0v5h-780.0zM234.0 2162.0h780.0v5h-780.0zM239.0 2167.0h775.0v5h-775.0zM249.0 2172.0h760.0v5h-760.0zM269.0 2177.0h740.0v5h-740.0zM284.0 2182.0h725.0v5h-725.0zM289.0 2187.0h720.0v5h-720.0zM294.0 2192.0h710.0v5h-710.0zM304.0 2197.0h700.0v5h-700.0zM309.0 2202.0h695.0v5h-695.0zM319.0 2207.0h685.0v5h-685.0zM324.0 2212.0h680.0v5h-680.0zM329.0 2217.0h670.0v5h-670.0zM329.0 2222.0h670.0v5h-670.0zM334.0 2227.0h665.0v5h-665.0zM334.0 2232.0h665.0v5h-665.0zM334.0 2237.0h665.0v5h-665.0zM334.0 2242.0h660.0v5h-660.0zM334.0 2247.0h660.0v5h-660.0zM334.0 2252.0h195.0v5h-195.0zM544.0 2252.0h450.0v5h-450.0zM334.0 2257.0h160.0v5h-160.0zM569.0 2257.0h425.0v5h-425.0zM339.0 2262.0h50.0v5h-50.0zM404.0 2262.0h55.0v5h-55.0zM579.0 2262.0h415.0v5h-415.0zM344.0 2267.0h20.0v5h-20.0zM434.0 2267.0h20.0v5h-20.0zM584.0 2267.0h405.0v5h-405.0zM444.0 2272.0h5.0v5h-5.0zM589.0 2272.0h400.0v5h-400.0zM594.0 2277.0h395.0v5h-395.0zM599.0 2282.0h390.0v5h-390.0zM599.0 2287.0h390.0v5h-390.0zM604.0 2292.0h380.0v5h-380.0zM609.0 2297.0h375.0v5h-375.0zM619.0 2302.0h365.0v5h-365.0zM629.0 2307.0h355.0v5h-355.0zM634.0 2312.0h345.0v5h-345.0zM639.0 2317.0h340.0v5h-340.0zM644.0 2322.0h335.0v5h-335.0zM644.0 2327.0h335.0v5h-335.0zM644.0 2332.0h335.0v5h-335.0zM639.0 2337.0h335.0v5h-335.0zM634.0 2342.0h340.0v5h-340.0zM629.0 2347.0h345.0v5h-345.0zM629.0 2352.0h345.0v5h-345.0zM629.0 2357.0h345.0v5h-345.0zM639.0 2362.0h330.0v5h-330.0zM649.0 2367.0h320.0v5h-320.0zM654.0 2372.0h315.0v5h-315.0zM654.0 2377.0h315.0v5h-315.0zM649.0 2382.0h320.0v5h-320.0zM644.0 2387.0h320.0v5h-320.0zM639.0 2392.0h325.0v5h-325.0zM634.0 2397.0h330.0v5h-330.0zM629.0 2402.0h335.0v5h-335.0zM629.0 2407.0h335.0v5h-335.0zM624.0 2412.0h335.0v5h-335.0zM624.0 2417.0h335.0v5h-335.0zM619.0 2422.0h340.0v5h-340.0zM619.0 2427.0h340.0v5h-340.0zM619.0 2432.0h335.0v5h-335.0zM619.0 2437.0h335.0v5h-335.0zM619.0 2442.0h335.0v5h-335.0zM619.0 2447.0h335.0v5h-335.0zM619.0 2452.0h335.0v5h-335.0zM619.0 2457.0h330.0v5h-330.0zM624.0 2462.0h325.0v5h-325.0zM629.0 2467.0h320.0v5h-320.0zM689.0 2472.0h260.0v5h-260.0zM699.0 2477.0h250.0v5h-250.0zM699.0 2482.0h245.0v5h-245.0zM699.0 2487.0h245.0v5h-245.0zM699.0 2492.0h245.0v5h-245.0zM704.0 2497.0h240.0v5h-240.0zM704.0 2502.0h240.0v5h-240.0zM709.0 2507.0h230.0v5h-230.0zM714.0 2512.0h225.0v5h-225.0zM719.0 2517.0h220.0v5h-220.0zM724.0 2522.0h215.0v5h-215.0zM724.0 2527.0h210.0v5h-210.0zM724.0 2532.0h210.0v5h-210.0zM714.0 2537.0h220.0v5h-220.0zM709.0 2542.0h225.0v5h-225.0zM704.0 2547.0h230.0v5h-230.0zM704.0 2552.0h225.0v5h-225.0zM694.0 2557.0h235.0v5h-235.0zM689.0 2562.0h240.0v5h-240.0zM689.0 2567.0h240.0v5h-240.0zM684.0 2572.0h245.0v5h-245.0zM684.0 2577.0h240.0v5h-240.0zM684.0 2582.0h240.0v5h-240.0zM689.0 2587.0h235.0v5h-235.0zM704.0 2592.0h220.0v5h-220.0zM724.0 2597.0h200.0v5h-200.0zM729.0 2602.0h190.0v5h-190.0zM734.0 2607.0h185.0v5h-185.0zM739.0 2612.0h180.0v5h-180.0zM749.0 2617.0h170.0v5h-170.0zM749.0 2622.0h170.0v5h-170.0zM754.0 2627.0h160.0v5h-160.0zM759.0 2632.0h155.0v5h-155.0zM754.0 2637.0h160.0v5h-160.0zM754.0 2642.0h160.0v5h-160.0zM754.0 2647.0h155.0v5h-155.0zM754.0 2652.0h155.0v5h-155.0zM764.0 2657.0h145.0v5h-145.0zM774.0 2662.0h135.0v5h-135.0zM784.0 2667.0h125.0v5h-125.0zM794.0 2672.0h110.0v5h-110.0zM804.0 2677.0h100.0v5h-100.0zM809.0 2682.0h95.0v5h-95.0zM814.0 2687.0h90.0v5h-90.0zM819.0 2692.0h85.0v5h-85.0zM824.0 2697.0h75.0v5h-75.0zM829.0 2702.0h70.0v5h-70.0zM829.0 2707.0h70.0v5h-70.0zM834.0 2712.0h65.0v5h-65.0zM844.0 2717.0h55.0v5h-55.0zM864.0 2722.0h30.0v5h-30.0zM889.0 2727.0h5.0v5h-5.0zM889.0 2732.0h5.0v5h-5.0z"/></clipPath>
<filter id="texC" filterUnits="userSpaceOnUse" primitiveUnits="userSpaceOnUse" x="81" y="1599" width="1017" height="1175" color-interpolation-filters="sRGB">
<feTurbulence type="fractalNoise" baseFrequency="0.035" numOctaves="3" seed="5" result="t"/>
<feColorMatrix in="t" type="matrix" values="1 0 0 0 0 1 0 0 0 0 1 0 0 0 0 0 0 0 0 1" result="n"/>
<feGaussianBlur in="SourceGraphic" stdDeviation="18" result="bb"/>
<feComposite in="n" in2="bb" operator="arithmetic" k1="0" k2="1" k3="0.8" k4="-0.4" result="n2"/>
<feFlood x="81" y="1599" width="1" height="1" flood-color="#fff" result="d"/>
<feComposite in="d" in2="d" operator="over" x="81" y="1599" width="5" height="5" result="d2"/>
<feTile in="d2" result="dots"/>
<feComposite in="n2" in2="dots" operator="in" result="smp"/>
<feMorphology in="smp" operator="dilate" radius="2 2" result="blk"/>
<feComponentTransfer in="blk">
<feFuncR type="discrete" tableValues="0.09 0.09 0.09 0.09 0.09 0.09 0.09 0.09 0.09 0.09 0.09 0.09 0.09 0.09 0.09 0.09 0.09 0.09 0.09 0.09 0.09 0.09 0.09 0.09 0.09 0.09 0.09 0.09 0.09 0.09 0.09 0.09 0.09 0.09 0.09 0.09 0.09 0.09 0.09 0.09 0.09 0.09 0.09 0.09 0.09 0.09 0.09 0.09 0.09 0.09 0.09 0.09 0.09 0.09 0.09 0.09 0.09 0.09 0.09 0.09 0.09 0.09 0.09 0.09 0.09 0.09 0.09 0.09 0.09 0.09 0.09 0.09 0.09 0.09 0.753 0.753 0.753 0.753 0.753 0.753 0.753 0.753 0.753 0.753 0.753 0.753 0.753 0.753 0.753 0.753 0.753 0.753 0.753 0.753 0.753 0.753 0.753 0.753 0.753 0.753 0.753 0.753 0.753 0.753 0.753 0.753 0.753 0.753 0.753 0.753 0.753 0.753 0.753 0.753 0.753 0.753 0.753 0.753 0.753 0.753 0.753 0.753 0.753 0.753 0.753 0.753 0.753 0.753 0.753 0.753 0.753 0.753 0.753 0.753 0.753 0.753 0.753 0.753 0.753 0.753 0.753 0.753 0.753 0.753 0.753 0.753 0.753 0.753 0.753 0.753 0.753 0.753 0.753 0.753 0.753 0.753 0.753 0.753 0.753 0.753 0.753 0.753 0.753 0.753 0.753 0.753 0.753 0.753 1 1 1 1 1 1 1 1 1 1 1 1 1 1 1 1 1 1 1 1 1 1 1 1 1 1 1 1 1 1 1 1 1 1 1 1 1 1 1 1 1 1 1 1 1 1 1 1 1 1 1 1 1 1 1 1 1 1 1 1 1 1 1 1 1 1 1 1 1 1 1 1 1 1 1 1 1 1 1 1 1 1 1 1 1 1 1 1"/>
<feFuncG type="discrete" tableValues="0.42 0.42 0.42 0.42 0.42 0.42 0.42 0.42 0.42 0.42 0.42 0.42 0.42 0.42 0.42 0.42 0.42 0.42 0.42 0.42 0.42 0.42 0.42 0.42 0.42 0.42 0.42 0.42 0.42 0.42 0.42 0.42 0.42 0.42 0.42 0.42 0.42 0.42 0.42 0.42 0.42 0.42 0.42 0.42 0.42 0.42 0.42 0.42 0.42 0.42 0.42 0.42 0.42 0.42 0.42 0.42 0.42 0.42 0.42 0.42 0.42 0.42 0.42 0.42 0.42 0.42 0.42 0.42 0.42 0.42 0.42 0.42 0.42 0.42 0.824 0.824 0.824 0.824 0.824 0.824 0.824 0.824 0.824 0.824 0.824 0.824 0.824 0.824 0.824 0.824 0.824 0.824 0.824 0.824 0.824 0.824 0.824 0.824 0.824 0.824 0.824 0.824 0.824 0.824 0.824 0.824 0.824 0.824 0.824 0.824 0.824 0.824 0.824 0.824 0.824 0.824 0.824 0.824 0.824 0.824 0.824 0.824 0.824 0.824 0.824 0.824 0.824 0.824 0.824 0.824 0.824 0.824 0.824 0.824 0.824 0.824 0.824 0.824 0.824 0.824 0.824 0.824 0.824 0.824 0.824 0.824 0.824 0.824 0.824 0.824 0.824 0.824 0.824 0.824 0.824 0.824 0.824 0.824 0.824 0.824 0.824 0.824 0.824 0.824 0.824 0.824 0.824 0.824 0.984 0.984 0.984 0.984 0.984 0.984 0.984 0.984 0.984 0.984 0.984 0.984 0.984 0.984 0.984 0.984 0.984 0.984 0.984 0.984 0.984 0.984 0.984 0.984 0.984 0.984 0.984 0.984 0.984 0.984 0.984 0.984 0.984 0.984 0.984 0.984 0.984 0.984 0.984 0.984 0.984 0.984 0.984 0.984 0.984 0.984 0.984 0.984 0.984 0.984 0.984 0.984 0.984 0.984 0.984 0.984 0.984 0.984 0.984 0.984 0.984 0.984 0.984 0.984 0.984 0.984 0.984 0.984 0.984 0.984 0.984 0.984 0.984 0.984 0.984 0.984 0.984 0.984 0.984 0.984 0.984 0.984 0.984 0.984 0.984 0.984 0.984 0.984"/>
<feFuncB type="discrete" tableValues="0.941 0.941 0.941 0.941 0.941 0.941 0.941 0.941 0.941 0.941 0.941 0.941 0.941 0.941 0.941 0.941 0.941 0.941 0.941 0.941 0.941 0.941 0.941 0.941 0.941 0.941 0.941 0.941 0.941 0.941 0.941 0.941 0.941 0.941 0.941 0.941 0.941 0.941 0.941 0.941 0.941 0.941 0.941 0.941 0.941 0.941 0.941 0.941 0.941 0.941 0.941 0.941 0.941 0.941 0.941 0.941 0.941 0.941 0.941 0.941 0.941 0.941 0.941 0.941 0.941 0.941 0.941 0.941 0.941 0.941 0.941 0.941 0.941 0.941 0.953 0.953 0.953 0.953 0.953 0.953 0.953 0.953 0.953 0.953 0.953 0.953 0.953 0.953 0.953 0.953 0.953 0.953 0.953 0.953 0.953 0.953 0.953 0.953 0.953 0.953 0.953 0.953 0.953 0.953 0.953 0.953 0.953 0.953 0.953 0.953 0.953 0.953 0.953 0.953 0.953 0.953 0.953 0.953 0.953 0.953 0.953 0.953 0.953 0.953 0.953 0.953 0.953 0.953 0.953 0.953 0.953 0.953 0.953 0.953 0.953 0.953 0.953 0.953 0.953 0.953 0.953 0.953 0.953 0.953 0.953 0.953 0.953 0.953 0.953 0.953 0.953 0.953 0.953 0.953 0.953 0.953 0.953 0.953 0.953 0.953 0.953 0.953 0.953 0.953 0.953 0.953 0.953 0.953 0.761 0.761 0.761 0.761 0.761 0.761 0.761 0.761 0.761 0.761 0.761 0.761 0.761 0.761 0.761 0.761 0.761 0.761 0.761 0.761 0.761 0.761 0.761 0.761 0.761 0.761 0.761 0.761 0.761 0.761 0.761 0.761 0.761 0.761 0.761 0.761 0.761 0.761 0.761 0.761 0.761 0.761 0.761 0.761 0.761 0.761 0.761 0.761 0.761 0.761 0.761 0.761 0.761 0.761 0.761 0.761 0.761 0.761 0.761 0.761 0.761 0.761 0.761 0.761 0.761 0.761 0.761 0.761 0.761 0.761 0.761 0.761 0.761 0.761 0.761 0.761 0.761 0.761 0.761 0.761 0.761 0.761 0.761 0.761 0.761 0.761 0.761 0.761"/>
<feFuncA type="linear" slope="0" intercept="1"/>
</feComponentTransfer>
</filter>
<clipPath id="clipD"><path d="M1601.0 1611.0h65.0v5h-65.0zM1601.0 1616.0h70.0v5h-70.0zM1601.0 1621.0h75.0v5h-75.0zM1806.0 1621.0h25.0v5h-25.0zM1596.0 1626.0h80.0v5h-80.0zM1756.0 1626.0h20.0v5h-20.0zM1796.0 1626.0h40.0v5h-40.0zM1596.0 1631.0h90.0v5h-90.0zM1741.0 1631.0h95.0v5h-95.0zM1596.0 1636.0h110.0v5h-110.0zM1721.0 1636.0h110.0v5h-110.0zM1596.0 1641.0h235.0v5h-235.0zM1596.0 1646.0h235.0v5h-235.0zM1601.0 1651.0h235.0v5h-235.0zM1601.0 1656.0h235.0v5h-235.0zM1851.0 1656.0h5.0v5h-5.0zM1601.0 1661.0h255.0v5h-255.0zM1601.0 1666.0h260.0v5h-260.0zM1596.0 1671.0h275.0v5h-275.0zM1586.0 1676.0h305.0v5h-305.0zM1561.0 1681.0h340.0v5h-340.0zM1556.0 1686.0h350.0v5h-350.0zM1556.0 1691.0h350.0v5h-350.0zM1556.0 1696.0h350.0v5h-350.0zM1556.0 1701.0h350.0v5h-350.0zM2171.0 1701.0h60.0v5h-60.0zM1551.0 1706.0h360.0v5h-360.0zM2161.0 1706.0h75.0v5h-75.0zM1551.0 1711.0h360.0v5h-360.0zM2171.0 1711.0h70.0v5h-70.0zM1551.0 1716.0h365.0v5h-365.0zM2181.0 1716.0h65.0v5h-65.0zM1546.0 1721.0h370.0v5h-370.0zM2176.0 1721.0h75.0v5h-75.0zM1546.0 1726.0h375.0v5h-375.0zM2166.0 1726.0h85.0v5h-85.0zM1546.0 1731.0h375.0v5h-375.0zM2161.0 1731.0h90.0v5h-90.0zM1541.0 1736.0h375.0v5h-375.0zM2146.0 1736.0h110.0v5h-110.0zM1541.0 1741.0h380.0v5h-380.0zM2136.0 1741.0h125.0v5h-125.0zM1541.0 1746.0h390.0v5h-390.0zM2131.0 1746.0h130.0v5h-130.0zM1536.0 1751.0h400.0v5h-400.0zM2126.0 1751.0h135.0v5h-135.0zM1531.0 1756.0h410.0v5h-410.0zM2091.0 1756.0h170.0v5h-170.0zM1531.0 1761.0h420.0v5h-420.0zM1961.0 1761.0h25.0v5h-25.0zM2031.0 1761.0h20.0v5h-20.0zM2086.0 1761.0h175.0v5h-175.0zM1531.0 1766.0h470.0v5h-470.0zM2011.0 1766.0h50.0v5h-50.0zM2076.0 1766.0h195.0v5h-195.0zM1531.0 1771.0h755.0v5h-755.0zM1531.0 1776.0h760.0v5h-760.0zM1526.0 1781.0h770.0v5h-770.0zM1521.0 1786.0h775.0v5h-775.0zM1516.0 1791.0h785.0v5h-785.0zM1511.0 1796.0h790.0v5h-790.0zM1516.0 1801.0h785.0v5h-785.0zM1516.0 1806.0h785.0v5h-785.0zM1516.0 1811.0h785.0v5h-785.0zM1516.0 1816.0h780.0v5h-780.0zM1516.0 1821.0h780.0v5h-780.0zM1511.0 1826.0h785.0v5h-785.0zM1506.0 1831.0h790.0v5h-790.0zM1476.0 1836.0h10.0v5h-10.0zM1496.0 1836.0h795.0v5h-795.0zM1471.0 1841.0h820.0v5h-820.0zM1471.0 1846.0h820.0v5h-820.0zM1466.0 1851.0h825.0v5h-825.0zM1466.0 1856.0h825.0v5h-825.0zM1461.0 1861.0h825.0v5h-825.0zM1456.0 1866.0h830.0v5h-830.0zM1441.0 1871.0h845.0v5h-845.0zM1436.0 1876.0h850.0v5h-850.0zM1436.0 1881.0h850.0v5h-850.0zM1441.0 1886.0h840.0v5h-840.0zM1446.0 1891.0h835.0v5h-835.0zM1446.0 1896.0h835.0v5h-835.0zM1446.0 1901.0h835.0v5h-835.0zM1341.0 1906.0h20.0v5h-20.0zM1446.0 1906.0h830.0v5h-830.0zM1316.0 1911.0h55.0v5h-55.0zM1436.0 1911.0h840.0v5h-840.0zM1301.0 1916.0h75.0v5h-75.0zM1401.0 1916.0h875.0v5h-875.0zM1301.0 1921.0h975.0v5h-975.0zM1316.0 1926.0h960.0v5h-960.0zM1326.0 1931.0h945.0v5h-945.0zM1331.0 1936.0h940.0v5h-940.0zM1336.0 1941.0h935.0v5h-935.0zM1331.0 1946.0h940.0v5h-940.0zM1331.0 1951.0h940.0v5h-940.0zM1326.0 1956.0h940.0v5h-940.0zM1326.0 1961.0h940.0v5h-940.0zM1326.0 1966.0h940.0v5h-940.0zM1326.0 1971.0h940.0v5h-940.0zM1321.0 1976.0h940.0v5h-940.0zM1321.0 1981.0h940.0v5h-940.0zM1321.0 1986.0h940.0v5h-940.0zM1321.0 1991.0h940.0v5h-940.0zM1316.0 1996.0h945.0v5h-945.0zM1316.0 2001.0h940.0v5h-940.0zM1311.0 2006.0h945.0v5h-945.0zM1306.0 2011.0h950.0v5h-950.0zM1301.0 2016.0h955.0v5h-955.0zM1296.0 2021.0h960.0v5h-960.0zM1286.0 2026.0h965.0v5h-965.0zM1276.0 2031.0h975.0v5h-975.0zM1281.0 2036.0h970.0v5h-970.0zM1281.0 2041.0h970.0v5h-970.0zM1291.0 2046.0h955.0v5h-955.0zM1296.0 2051.0h950.0v5h-950.0zM1316.0 2056.0h930.0v5h-930.0zM1331.0 2061.0h915.0v5h-915.0zM1341.0 2066.0h905.0v5h-905.0zM1356.0 2071.0h885.0v5h-885.0zM1386.0 2076.0h855.0v5h-855.0zM1401.0 2081.0h840.0v5h-840.0zM1406.0 2086.0h835.0v5h-835.0zM1411.0 2091.0h825.0v5h-825.0zM1416.0 2096.0h820.0v5h-820.0zM1451.0 2101.0h785.0v5h-785.0zM1461.0 2106.0h775.0v5h-775.0zM1471.0 2111.0h765.0v5h-765.0zM1476.0 2116.0h755.0v5h-755.0zM1481.0 2121.0h750.0v5h-750.0zM1481.0 2126.0h750.0v5h-750.0zM1481.0 2131.0h750.0v5h-750.0zM1476.0 2136.0h755.0v5h-755.0zM1461.0 2141.0h765.0v5h-765.0zM1446.0 2146.0h780.0v5h-780.0zM1436.0 2151.0h790.0v5h-790.0zM1431.0 2156.0h795.0v5h-795.0zM1421.0 2161.0h800.0v5h-800.0zM1426.0 2166.0h795.0v5h-795.0zM1431.0 2171.0h790.0v5h-790.0zM1451.0 2176.0h770.0v5h-770.0zM1471.0 2181.0h750.0v5h-750.0zM1476.0 2186.0h740.0v5h-740.0zM1481.0 2191.0h735.0v5h-735.0zM1491.0 2196.0h725.0v5h-725.0zM1496.0 2201.0h720.0v5h-720.0zM1506.0 2206.0h710.0v5h-710.0zM1516.0 2211.0h695.0v5h-695.0zM1521.0 2216.0h690.0v5h-690.0zM1521.0 2221.0h690.0v5h-690.0zM1526.0 2226.0h685.0v5h-685.0zM1526.0 2231.0h680.0v5h-680.0zM1526.0 2236.0h680.0v5h-680.0zM1526.0 2241.0h680.0v5h-680.0zM1526.0 2246.0h680.0v5h-680.0zM1526.0 2251.0h680.0v5h-680.0zM1526.0 2256.0h185.0v5h-185.0zM1761.0 2256.0h440.0v5h-440.0zM1531.0 2261.0h145.0v5h-145.0zM1771.0 2261.0h430.0v5h-430.0zM1531.0 2266.0h40.0v5h-40.0zM1621.0 2266.0h35.0v5h-35.0zM1781.0 2266.0h420.0v5h-420.0zM1536.0 2271.0h15.0v5h-15.0zM1636.0 2271.0h15.0v5h-15.0zM1786.0 2271.0h415.0v5h-415.0zM1641.0 2276.0h5.0v5h-5.0zM1791.0 2276.0h410.0v5h-410.0zM1796.0 2281.0h400.0v5h-400.0zM1801.0 2286.0h395.0v5h-395.0zM1801.0 2291.0h395.0v5h-395.0zM1806.0 2296.0h390.0v5h-390.0zM1816.0 2301.0h375.0v5h-375.0zM1826.0 2306.0h365.0v5h-365.0zM1831.0 2311.0h360.0v5h-360.0zM1836.0 2316.0h355.0v5h-355.0zM1841.0 2321.0h350.0v5h-350.0zM1841.0 2326.0h345.0v5h-345.0zM1846.0 2331.0h340.0v5h-340.0zM1846.0 2336.0h340.0v5h-340.0zM1841.0 2341.0h345.0v5h-345.0zM1831.0 2346.0h355.0v5h-355.0zM1831.0 2351.0h350.0v5h-350.0zM1831.0 2356.0h350.0v5h-350.0zM1831.0 2361.0h350.0v5h-350.0zM1846.0 2366.0h335.0v5h-335.0zM1851.0 2371.0h325.0v5h-325.0zM1861.0 2376.0h315.0v5h-315.0zM1856.0 2381.0h320.0v5h-320.0zM1851.0 2386.0h325.0v5h-325.0zM1846.0 2391.0h330.0v5h-330.0zM1836.0 2396.0h335.0v5h-335.0zM1831.0 2401.0h340.0v5h-340.0zM1831.0 2406.0h340.0v5h-340.0zM1826.0 2411.0h345.0v5h-345.0zM1826.0 2416.0h345.0v5h-345.0zM1821.0 2421.0h345.0v5h-345.0zM1821.0 2426.0h345.0v5h-345.0zM1816.0 2431.0h350.0v5h-350.0zM1816.0 2436.0h350.0v5h-350.0zM1816.0 2441.0h345.0v5h-345.0zM1816.0 2446.0h345.0v5h-345.0zM1816.0 2451.0h345.0v5h-345.0zM1821.0 2456.0h340.0v5h-340.0zM1821.0 2461.0h340.0v5h-340.0zM1826.0 2466.0h330.0v5h-330.0zM1831.0 2471.0h25.0v5h-25.0zM1891.0 2471.0h265.0v5h-265.0zM1896.0 2476.0h260.0v5h-260.0zM1901.0 2481.0h255.0v5h-255.0zM1901.0 2486.0h255.0v5h-255.0zM1901.0 2491.0h250.0v5h-250.0zM1901.0 2496.0h250.0v5h-250.0zM1906.0 2501.0h245.0v5h-245.0zM1911.0 2506.0h240.0v5h-240.0zM1916.0 2511.0h230.0v5h-230.0zM1921.0 2516.0h225.0v5h-225.0zM1926.0 2521.0h220.0v5h-220.0zM1926.0 2526.0h220.0v5h-220.0zM1926.0 2531.0h220.0v5h-220.0zM1921.0 2536.0h220.0v5h-220.0zM1911.0 2541.0h230.0v5h-230.0zM1911.0 2546.0h230.0v5h-230.0zM1906.0 2551.0h235.0v5h-235.0zM1901.0 2556.0h240.0v5h-240.0zM1896.0 2561.0h240.0v5h-240.0zM1891.0 2566.0h245.0v5h-245.0zM1891.0 2571.0h245.0v5h-245.0zM1886.0 2576.0h250.0v5h-250.0zM1886.0 2581.0h245.0v5h-245.0zM1891.0 2586.0h240.0v5h-240.0zM1896.0 2591.0h235.0v5h-235.0zM1926.0 2596.0h205.0v5h-205.0zM1931.0 2601.0h200.0v5h-200.0zM1936.0 2606.0h190.0v5h-190.0zM1941.0 2611.0h185.0v5h-185.0zM1946.0 2616.0h180.0v5h-180.0zM1951.0 2621.0h175.0v5h-175.0zM1956.0 2626.0h170.0v5h-170.0zM1961.0 2631.0h160.0v5h-160.0zM1961.0 2636.0h160.0v5h-160.0zM1961.0 2641.0h160.0v5h-160.0zM1956.0 2646.0h165.0v5h-165.0zM1956.0 2651.0h160.0v5h-160.0zM1966.0 2656.0h150.0v5h-150.0zM1976.0 2661.0h140.0v5h-140.0zM1986.0 2666.0h130.0v5h-130.0zM1996.0 2671.0h120.0v5h-120.0zM2006.0 2676.0h105.0v5h-105.0zM2011.0 2681.0h100.0v5h-100.0zM2016.0 2686.0h95.0v5h-95.0zM2021.0 2691.0h90.0v5h-90.0zM2026.0 2696.0h85.0v5h-85.0zM2031.0 2701.0h75.0v5h-75.0zM2036.0 2706.0h70.0v5h-70.0zM2036.0 2711.0h70.0v5h-70.0zM2046.0 2716.0h60.0v5h-60.0zM2066.0 2721.0h35.0v5h-35.0zM2091.0 2726.0h10.0v5h-10.0zM2096.0 2731.0h5.0v5h-5.0zM2096.0 2746.0h5.0v5h-5.0z"/></clipPath>
<filter id="texD" filterUnits="userSpaceOnUse" primitiveUnits="userSpaceOnUse" x="1268" y="1603" width="1042" height="1171" color-interpolation-filters="sRGB">
<feTurbulence type="fractalNoise" baseFrequency="0.1" numOctaves="2" seed="23" result="t"/>
<feColorMatrix in="t" type="matrix" values="1 0 0 0 0 1 0 0 0 0 1 0 0 0 0 0 0 0 0 1" result="n"/>
<feGaussianBlur in="SourceGraphic" stdDeviation="18" result="bb"/>
<feComposite in="n" in2="bb" operator="arithmetic" k1="0" k2="1" k3="0.6" k4="-0.3" result="n2"/>
<feFlood x="1268" y="1603" width="1" height="1" flood-color="#fff" result="d"/>
<feComposite in="d" in2="d" operator="over" x="1268" y="1603" width="5" height="5" result="d2"/>
<feTile in="d2" result="dots"/>
<feComposite in="n2" in2="dots" operator="in" result="smp"/>
<feMorphology in="smp" operator="dilate" radius="2 2" result="blk"/>
<feComponentTransfer in="blk">
<feFuncR type="discrete" tableValues="0.09 0.09 0.09 0.09 0.09 0.09 0.09 0.09 0.09 0.09 0.09 0.09 0.09 0.09 0.09 0.09 0.09 0.09 0.09 0.09 0.09 0.09 0.09 0.09 0.09 0.09 0.09 0.09 0.09 0.09 0.09 0.09 0.09 0.09 0.09 0.09 0.09 0.09 0.09 0.09 0.09 0.09 0.09 0.09 0.09 0.09 0.09 0.09 0.09 0.09 0.09 0.09 0.09 0.09 0.09 0.09 0.09 0.09 0.09 0.09 0.09 0.09 0.09 0.09 0.09 0.09 0.09 0.09 0.09 0.09 0.09 0.09 0.09 0.09 0.09 0.09 0.09 0.09 0.09 0.09 0.09 0.09 0.09 0.09 0.09 0.09 0.09 0.09 0.09 0.09 0.09 0.09 0.09 0.09 0.09 0.09 0.09 0.09 0.09 0.09 0.09 0.09 0.09 0.09 0.09 0.09 0.09 0.09 0.09 0.09 0.09 0.09 0.09 0.09 0.09 0.804 0.804 0.804 0.804 0.804 0.804 0.804 0.804 0.804 0.804 0.804 0.804 0.804 0.804 0.804 0.804 0.804 0.804 0.804 0.804 0.804 0.804 0.804 0.804 0.804 0.804 0.804 0.804 0.804 0.804 0.804 0.804 0.804 0.804 0.804 1 1 1 1 1 1 0.678 0.678 0.678 0.678 0.678 0.678 0.678 0.678 0.678 0.678 0.678 0.678 0.678 0.678 0.678 0.678 0.678 0.678 0.678 0.678 0.678 0.678 0.678 0.678 0.678 0.678 0.678 0.678 0.678 0.678 0.678 0.678 0.678 0.678 0.678 0.678 0.678 0.678 0.678 0.678 0.678 0.678 0.678 0.678 0.678 0.678 0.678 0.678 0.678 0.678 0.678 0.678 0.678 0.678 0.678 0.678 0.678 0.678 0.678 0.678 0.678 0.678 0.678 0.678 0.678 0.678 0.678 0.678 0.678 0.678 0.678 0.678 0.678 0.678 0.678 0.678 0.678 0.678 0.678 0.678 0.678 0.678 0.678 0.678 0.678 0.678 0.678 0.678 0.678 0.678 0.678 0.678 0.678 0.678 0.678 0.678 0.678 0.678 0.678 0.678"/>
<feFuncG type="discrete" tableValues="0.42 0.42 0.42 0.42 0.42 0.42 0.42 0.42 0.42 0.42 0.42 0.42 0.42 0.42 0.42 0.42 0.42 0.42 0.42 0.42 0.42 0.42 0.42 0.42 0.42 0.42 0.42 0.42 0.42 0.42 0.42 0.42 0.42 0.42 0.42 0.42 0.42 0.42 0.42 0.42 0.42 0.42 0.42 0.42 0.42 0.42 0.42 0.42 0.42 0.42 0.42 0.42 0.42 0.42 0.42 0.42 0.42 0.42 0.42 0.42 0.42 0.42 0.42 0.42 0.42 0.42 0.42 0.42 0.42 0.42 0.42 0.42 0.42 0.42 0.42 0.42 0.42 0.42 0.42 0.42 0.42 0.42 0.42 0.42 0.42 0.42 0.42 0.42 0.42 0.42 0.42 0.42 0.42 0.42 0.42 0.42 0.42 0.42 0.42 0.42 0.42 0.42 0.42 0.42 0.42 0.42 0.42 0.42 0.42 0.42 0.42 0.42 0.42 0.42 0.42 0.933 0.933 0.933 0.933 0.933 0.933 0.933 0.933 0.933 0.933 0.933 0.933 0.933 0.933 0.933 0.933 0.933 0.933 0.933 0.933 0.933 0.933 0.933 0.933 0.933 0.933 0.933 0.933 0.933 0.933 0.933 0.933 0.933 0.933 0.933 0.984 0.984 0.984 0.984 0.984 0.984 0.176 0.176 0.176 0.176 0.176 0.176 0.176 0.176 0.176 0.176 0.176 0.176 0.176 0.176 0.176 0.176 0.176 0.176 0.176 0.176 0.176 0.176 0.176 0.176 0.176 0.176 0.176 0.176 0.176 0.176 0.176 0.176 0.176 0.176 0.176 0.176 0.176 0.176 0.176 0.176 0.176 0.176 0.176 0.176 0.176 0.176 0.176 0.176 0.176 0.176 0.176 0.176 0.176 0.176 0.176 0.176 0.176 0.176 0.176 0.176 0.176 0.176 0.176 0.176 0.176 0.176 0.176 0.176 0.176 0.176 0.176 0.176 0.176 0.176 0.176 0.176 0.176 0.176 0.176 0.176 0.176 0.176 0.176 0.176 0.176 0.176 0.176 0.176 0.176 0.176 0.176 0.176 0.176 0.176 0.176 0.176 0.176 0.176 0.176 0.176"/>
<feFuncB type="discrete" tableValues="0.941 0.941 0.941 0.941 0.941 0.941 0.941 0.941 0.941 0.941 0.941 0.941 0.941 0.941 0.941 0.941 0.941 0.941 0.941 0.941 0.941 0.941 0.941 0.941 0.941 0.941 0.941 0.941 0.941 0.941 0.941 0.941 0.941 0.941 0.941 0.941 0.941 0.941 0.941 0.941 0.941 0.941 0.941 0.941 0.941 0.941 0.941 0.941 0.941 0.941 0.941 0.941 0.941 0.941 0.941 0.941 0.941 0.941 0.941 0.941 0.941 0.941 0.941 0.941 0.941 0.941 0.941 0.941 0.941 0.941 0.941 0.941 0.941 0.941 0.941 0.941 0.941 0.941 0.941 0.941 0.941 0.941 0.941 0.941 0.941 0.941 0.941 0.941 0.941 0.941 0.941 0.941 0.941 0.941 0.941 0.941 0.941 0.941 0.941 0.941 0.941 0.941 0.941 0.941 0.941 0.941 0.941 0.941 0.941 0.941 0.941 0.941 0.941 0.941 0.941 0.98 0.98 0.98 0.98 0.98 0.98 0.98 0.98 0.98 0.98 0.98 0.98 0.98 0.98 0.98 0.98 0.98 0.98 0.98 0.98 0.98 0.98 0.98 0.98 0.98 0.98 0.98 0.98 0.98 0.98 0.98 0.98 0.98 0.98 0.98 0.761 0.761 0.761 0.761 0.761 0.761 0.024 0.024 0.024 0.024 0.024 0.024 0.024 0.024 0.024 0.024 0.024 0.024 0.024 0.024 0.024 0.024 0.024 0.024 0.024 0.024 0.024 0.024 0.024 0.024 0.024 0.024 0.024 0.024 0.024 0.024 0.024 0.024 0.024 0.024 0.024 0.024 0.024 0.024 0.024 0.024 0.024 0.024 0.024 0.024 0.024 0.024 0.024 0.024 0.024 0.024 0.024 0.024 0.024 0.024 0.024 0.024 0.024 0.024 0.024 0.024 0.024 0.024 0.024 0.024 0.024 0.024 0.024 0.024 0.024 0.024 0.024 0.024 0.024 0.024 0.024 0.024 0.024 0.024 0.024 0.024 0.024 0.024 0.024 0.024 0.024 0.024 0.024 0.024 0.024 0.024 0.024 0.024 0.024 0.024 0.024 0.024 0.024 0.024 0.024 0.024"/>
<feFuncA type="linear" slope="0" intercept="1"/>
</feComponentTransfer>
</filter>
<linearGradient id="lgA" x1="0" y1="0" x2="0" y2="1">
<stop offset="0" stop-color="#c83224"/><stop offset="0.06" stop-color="#d85a48"/><stop offset="0.15" stop-color="#dd7058"/>
<stop offset="0.25" stop-color="#e49068"/><stop offset="0.33" stop-color="#eca878"/><stop offset="0.41" stop-color="#f4c490"/>
<stop offset="0.47" stop-color="#fae6a0"/><stop offset="0.50" stop-color="#fdfdb8"/><stop offset="0.56" stop-color="#f0f0c0"/>
<stop offset="0.62" stop-color="#dcdcc4"/><stop offset="0.67" stop-color="#c8ccc8"/><stop offset="0.74" stop-color="#b0b8c8"/>
<stop offset="0.81" stop-color="#95a0d0"/><stop offset="0.88" stop-color="#7888d0"/><stop offset="0.94" stop-color="#5878d8"/>
<stop offset="1" stop-color="#2848c0"/></linearGradient>
</defs>
<rect width="2427" height="2966" fill="#fff"/>
<g clip-path="url(#clipA)"><g filter="url(#blurA)"><path fill="#2a4cc8" d="M528 986h80v16h-80zM496 1002h128v16h-128zM464 1018h160v16h-160zM416 1034h208v16h-208zM368 1050h240v16h-240zM304 1066h304v16h-304zM80 1082h528v16h-528zM80 1098h512v16h-512zM80 1114h512v16h-512zM80 1130h512v16h-512zM80 1146h512v16h-512zM80 1162h512v16h-512zM80 1178h512v16h-512zM80 1194h512v16h-512zM80 1210h512v16h-512zM80 1226h512v16h-512zM80 1242h528v16h-528zM80 1258h528v16h-528zM80 1274h544v16h-544zM80 1290h560v16h-560zM80 1306h576v16h-576zM880 1306h176v16h-176z"/>
<path fill="#3455cc" d="M576 954h48v16h-48zM528 970h96v16h-96zM496 986h32v16h-32zM608 986h48v16h-48zM464 1002h32v16h-32zM624 1002h16v16h-16zM416 1018h48v16h-48zM624 1018h16v16h-16zM368 1034h48v16h-48zM304 1050h64v16h-64zM608 1050h16v16h-16zM80 1066h224v16h-224zM608 1066h16v16h-16zM592 1098h16v16h-16zM592 1114h16v16h-16zM592 1130h16v16h-16zM592 1146h16v16h-16zM592 1210h16v16h-16zM592 1226h16v16h-16zM608 1258h16v16h-16zM624 1274h16v16h-16zM640 1290h16v16h-16zM896 1290h80v16h-80zM656 1306h16v16h-16zM848 1306h32v16h-32zM1056 1306h48v16h-48z"/>
<path fill="#3e5ecf" d="M608 922h32v16h-32zM560 938h96v16h-96zM528 954h48v16h-48zM624 954h32v16h-32zM496 970h32v16h-32zM624 970h32v16h-32zM464 986h32v16h-32zM416 1002h48v16h-48zM640 1002h16v16h-16zM368 1018h48v16h-48zM304 1034h64v16h-64zM624 1034h16v16h-16zM80 1050h224v16h-224zM624 1050h16v16h-16zM608 1082h16v16h-16zM608 1098h16v16h-16zM608 1114h16v16h-16zM592 1162h16v16h-16zM592 1178h16v16h-16zM592 1194h16v16h-16zM608 1226h16v16h-16zM608 1242h16v16h-16zM624 1258h16v16h-16zM656 1290h16v16h-16zM880 1290h16v16h-16zM976 1290h48v16h-48zM672 1306h16v16h-16zM832 1306h16v16h-16z"/>
<path fill="#4867d2" d="M624 906h16v16h-16zM576 922h32v16h-32zM640 922h16v16h-16zM528 938h32v16h-32zM496 954h32v16h-32zM464 970h32v16h-32zM416 986h48v16h-48zM368 1002h48v16h-48zM304 1018h64v16h-64zM640 1018h16v16h-16zM80 1034h224v16h-224zM640 1034h16v16h-16zM624 1066h16v16h-16zM624 1082h16v16h-16zM624 1098h16v16h-16zM608 1130h16v16h-16zM608 1146h16v16h-16zM608 1162h16v16h-16zM608 1178h16v16h-16zM608 1194h16v16h-16zM608 1210h16v16h-16zM624 1242h16v16h-16zM640 1274h16v16h-16zM880 1274h64v16h-64zM672 1290h16v16h-16zM848 1290h32v16h-32zM1024 1290h80v16h-80zM688 1306h32v16h-32zM800 1306h32v16h-32z"/>
<path fill="#536fd2" d="M576 906h48v16h-48zM640 906h32v16h-32zM544 922h32v16h-32zM656 922h16v16h-16zM496 938h32v16h-32zM656 938h16v16h-16zM464 954h32v16h-32zM656 954h16v16h-16zM432 970h32v16h-32zM656 970h16v16h-16zM384 986h32v16h-32zM656 986h16v16h-16zM320 1002h48v16h-48zM656 1002h16v16h-16zM80 1018h224v16h-224zM640 1050h16v16h-16zM624 1114h16v16h-16zM624 1130h16v16h-16zM624 1226h16v16h-16zM640 1258h16v16h-16zM656 1274h16v16h-16zM944 1274h48v16h-48zM688 1290h16v16h-16zM832 1290h16v16h-16zM720 1306h80v16h-80z"/>
<path fill="#5e77d2" d="M608 890h48v16h-48zM560 906h16v16h-16zM512 922h32v16h-32zM480 938h16v16h-16zM432 954h32v16h-32zM384 970h48v16h-48zM320 986h64v16h-64zM80 1002h240v16h-240zM656 1018h16v16h-16zM640 1066h16v16h-16zM640 1082h16v16h-16zM640 1098h16v16h-16zM624 1146h16v16h-16zM624 1162h16v16h-16zM624 1178h16v16h-16zM624 1194h16v16h-16zM624 1210h16v16h-16zM640 1242h16v16h-16zM656 1258h16v16h-16zM672 1274h16v16h-16zM864 1274h16v16h-16zM992 1274h80v16h-80zM704 1290h16v16h-16zM800 1290h32v16h-32z"/>
<path fill="#697fd2" d="M576 890h32v16h-32zM656 890h16v16h-16zM528 906h32v16h-32zM672 906h16v16h-16zM480 922h32v16h-32zM672 922h16v16h-16zM448 938h32v16h-32zM672 938h16v16h-16zM400 954h32v16h-32zM336 970h48v16h-48zM80 986h240v16h-240zM656 1034h16v16h-16zM640 1114h16v16h-16zM640 1130h16v16h-16zM640 1210h16v16h-16zM640 1226h16v16h-16zM656 1242h16v16h-16zM880 1258h64v16h-64zM688 1274h16v16h-16zM832 1274h32v16h-32zM1072 1274h32v16h-32zM720 1290h32v16h-32zM768 1290h32v16h-32z"/>
<path fill="#768ad3" d="M592 874h64v16h-64zM544 890h32v16h-32zM672 890h16v16h-16zM496 906h32v16h-32zM448 922h32v16h-32zM400 938h48v16h-48zM352 954h48v16h-48zM672 954h16v16h-16zM80 970h256v16h-256zM672 970h16v16h-16zM672 986h16v16h-16zM656 1050h16v16h-16zM656 1066h16v16h-16zM656 1082h16v16h-16zM640 1146h16v16h-16zM640 1162h16v16h-16zM640 1178h16v16h-16zM640 1194h16v16h-16zM656 1226h16v16h-16zM672 1258h16v16h-16zM864 1258h16v16h-16zM944 1258h80v16h-80zM704 1274h16v16h-16zM816 1274h16v16h-16zM752 1290h16v16h-16z"/>
<path fill="#8495d3" d="M560 874h32v16h-32zM656 874h16v16h-16zM512 890h32v16h-32zM464 906h32v16h-32zM688 906h16v16h-16zM416 922h32v16h-32zM352 938h48v16h-48zM80 954h272v16h-272zM672 1002h16v16h-16zM656 1098h16v16h-16zM656 1114h16v16h-16zM656 1130h16v16h-16zM656 1210h16v16h-16zM672 1242h16v16h-16zM688 1258h16v16h-16zM848 1258h16v16h-16zM1024 1258h80v16h-80zM720 1274h16v16h-16zM800 1274h16v16h-16z"/>
<path fill="#92a0d4" d="M496 314h16v16h-16zM480 330h48v16h-48zM480 346h48v16h-48zM480 362h48v16h-48zM480 378h32v16h-32zM464 394h48v16h-48zM464 410h48v16h-48zM448 426h48v16h-48zM448 442h48v16h-48zM448 458h32v16h-32zM608 858h32v16h-32zM528 874h32v16h-32zM672 874h16v16h-16zM480 890h32v16h-32zM688 890h16v16h-16zM432 906h32v16h-32zM80 922h32v16h-32zM368 922h48v16h-48zM688 922h16v16h-16zM80 938h272v16h-272zM688 938h16v16h-16zM672 1018h16v16h-16zM656 1146h16v16h-16zM656 1162h16v16h-16zM656 1178h16v16h-16zM656 1194h16v16h-16zM672 1226h16v16h-16zM704 1258h16v16h-16zM832 1258h16v16h-16zM736 1274h64v16h-64z"/>
<path fill="#9ca7d3" d="M480 266h16v16h-16zM480 282h32v16h-32zM464 298h64v16h-64zM464 314h32v16h-32zM512 314h32v16h-32zM464 330h16v16h-16zM528 330h16v16h-16zM464 346h16v16h-16zM528 346h16v16h-16zM464 362h16v16h-16zM528 362h16v16h-16zM464 378h16v16h-16zM512 378h32v16h-32zM448 394h16v16h-16zM512 394h16v16h-16zM448 410h16v16h-16zM512 410h16v16h-16zM496 426h16v16h-16zM432 442h16v16h-16zM496 442h16v16h-16zM432 458h16v16h-16zM480 458h16v16h-16zM448 474h32v16h-32zM560 858h48v16h-48zM640 858h48v16h-48zM496 874h32v16h-32zM688 874h16v16h-16zM448 890h32v16h-32zM80 906h48v16h-48zM384 906h48v16h-48zM112 922h256v16h-256zM688 954h16v16h-16zM672 1034h16v16h-16zM672 1050h16v16h-16zM672 1066h16v16h-16zM672 1082h16v16h-16zM672 1098h16v16h-16zM672 1114h16v16h-16zM672 1210h16v16h-16zM688 1242h16v16h-16zM896 1242h208v16h-208zM720 1258h16v16h-16zM816 1258h16v16h-16z"/>
<path fill="#a2acd2" d="M448 138h16v16h-16zM448 154h32v16h-32zM448 170h32v16h-32zM448 186h32v16h-32zM448 202h48v16h-48zM448 218h48v16h-48zM448 234h64v16h-64zM464 250h48v16h-48zM464 266h16v16h-16zM496 266h32v16h-32zM464 282h16v16h-16zM512 282h32v16h-32zM528 298h32v16h-32zM544 314h32v16h-32zM544 330h32v16h-32zM448 346h16v16h-16zM544 346h32v16h-32zM448 362h16v16h-16zM544 362h16v16h-16zM448 378h16v16h-16zM544 378h16v16h-16zM528 394h16v16h-16zM432 410h16v16h-16zM528 410h16v16h-16zM432 426h16v16h-16zM512 426h16v16h-16zM512 442h16v16h-16zM496 458h16v16h-16zM432 474h16v16h-16zM480 474h16v16h-16zM608 842h48v16h-48zM512 858h48v16h-48zM688 858h16v16h-16zM448 874h48v16h-48zM80 890h64v16h-64zM400 890h48v16h-48zM704 890h16v16h-16zM128 906h256v16h-256zM704 906h16v16h-16zM688 970h16v16h-16zM688 986h16v16h-16zM672 1130h16v16h-16zM672 1146h16v16h-16zM672 1162h16v16h-16zM672 1178h16v16h-16zM672 1194h16v16h-16zM688 1226h16v16h-16zM704 1242h16v16h-16zM880 1242h16v16h-16zM736 1258h16v16h-16zM784 1258h32v16h-32z"/>
<path fill="#a9b0d1" d="M432 122h32v16h-32zM432 138h16v16h-16zM464 138h16v16h-16zM432 154h16v16h-16zM480 154h16v16h-16zM432 170h16v16h-16zM480 170h16v16h-16zM432 186h16v16h-16zM480 186h16v16h-16zM432 202h16v16h-16zM496 202h16v16h-16zM432 218h16v16h-16zM496 218h16v16h-16zM512 234h16v16h-16zM448 250h16v16h-16zM512 250h16v16h-16zM448 266h16v16h-16zM528 266h16v16h-16zM448 282h16v16h-16zM544 282h16v16h-16zM448 298h16v16h-16zM560 298h32v16h-32zM448 314h16v16h-16zM576 314h16v16h-16zM448 330h16v16h-16zM576 330h16v16h-16zM576 346h16v16h-16zM560 362h16v16h-16zM560 378h16v16h-16zM432 394h16v16h-16zM544 394h16v16h-16zM544 410h16v16h-16zM528 426h16v16h-16zM416 442h16v16h-16zM528 442h16v16h-16zM416 458h16v16h-16zM512 458h16v16h-16zM496 474h16v16h-16zM432 490h64v16h-64zM560 842h48v16h-48zM656 842h32v16h-32zM464 858h48v16h-48zM80 874h80v16h-80zM416 874h32v16h-32zM704 874h16v16h-16zM144 890h128v16h-128zM336 890h64v16h-64zM704 922h16v16h-16zM688 1002h16v16h-16zM688 1210h16v16h-16zM848 1242h32v16h-32zM752 1258h32v16h-32z"/>
<path fill="#afb5cf" d="M432 106h32v16h-32zM416 122h16v16h-16zM464 122h16v16h-16zM416 138h16v16h-16zM480 138h16v16h-16zM496 170h16v16h-16zM496 186h16v16h-16zM512 202h16v16h-16zM512 218h16v16h-16zM432 234h16v16h-16zM432 250h16v16h-16zM528 250h16v16h-16zM432 266h16v16h-16zM544 266h16v16h-16zM432 282h16v16h-16zM560 282h48v16h-48zM432 298h16v16h-16zM592 298h32v16h-32zM432 314h16v16h-16zM592 314h32v16h-32zM432 330h16v16h-16zM592 330h32v16h-32zM432 346h16v16h-16zM592 346h16v16h-16zM432 362h16v16h-16zM576 362h32v16h-32zM432 378h16v16h-16zM576 378h16v16h-16zM560 394h16v16h-16zM560 410h16v16h-16zM416 426h16v16h-16zM544 426h16v16h-16zM528 458h16v16h-16zM416 474h16v16h-16zM512 474h16v16h-16zM496 490h16v16h-16zM448 506h32v16h-32zM608 826h80v16h-80zM80 842h32v16h-32zM496 842h64v16h-64zM688 842h16v16h-16zM80 858h96v16h-96zM432 858h32v16h-32zM704 858h16v16h-16zM160 874h112v16h-112zM352 874h64v16h-64zM272 890h64v16h-64zM704 938h16v16h-16zM688 1018h16v16h-16zM688 1082h16v16h-16zM688 1098h16v16h-16zM688 1114h16v16h-16zM688 1130h16v16h-16zM688 1194h16v16h-16zM704 1226h16v16h-16zM976 1226h128v16h-128zM720 1242h16v16h-16zM816 1242h32v16h-32z"/>
<path fill="#b5bacd" d="M416 106h16v16h-16zM464 106h16v16h-16zM480 122h16v16h-16zM496 138h16v16h-16zM416 154h16v16h-16zM496 154h16v16h-16zM416 170h16v16h-16zM416 186h16v16h-16zM512 186h16v16h-16zM416 202h16v16h-16zM416 218h16v16h-16zM528 218h16v16h-16zM528 234h16v16h-16zM544 250h16v16h-16zM560 266h32v16h-32zM608 282h32v16h-32zM624 298h16v16h-16zM624 314h32v16h-32zM624 330h16v16h-16zM608 346h32v16h-32zM608 362h16v16h-16zM592 378h16v16h-16zM576 394h32v16h-32zM416 410h16v16h-16zM576 410h16v16h-16zM560 426h16v16h-16zM544 442h16v16h-16zM544 458h16v16h-16zM528 474h16v16h-16zM416 490h16v16h-16zM512 490h16v16h-16zM432 506h16v16h-16zM480 506h32v16h-32zM656 810h32v16h-32zM80 826h64v16h-64zM544 826h64v16h-64zM688 826h32v16h-32zM112 842h96v16h-96zM432 842h64v16h-64zM704 842h16v16h-16zM176 858h112v16h-112zM368 858h64v16h-64zM720 858h16v16h-16zM272 874h80v16h-80zM720 874h16v16h-16zM720 890h16v16h-16zM720 906h16v16h-16zM704 954h16v16h-16zM688 1034h16v16h-16zM688 1050h16v16h-16zM688 1066h16v16h-16zM688 1146h16v16h-16zM688 1162h16v16h-16zM688 1178h16v16h-16zM704 1210h16v16h-16zM912 1226h64v16h-64zM736 1242h32v16h-32zM784 1242h32v16h-32z"/>
<path fill="#bbc0cb" d="M432 90h48v16h-48zM480 106h16v16h-16zM512 154h16v16h-16zM512 170h16v16h-16zM528 202h16v16h-16zM416 234h16v16h-16zM544 234h16v16h-16zM416 250h16v16h-16zM560 250h32v16h-32zM416 266h16v16h-16zM592 266h48v16h-48zM416 282h16v16h-16zM640 282h16v16h-16zM640 298h32v16h-32zM656 314h32v16h-32zM640 330h32v16h-32zM640 346h32v16h-32zM624 362h32v16h-32zM416 378h16v16h-16zM608 378h32v16h-32zM416 394h16v16h-16zM608 394h16v16h-16zM592 410h16v16h-16zM576 426h32v16h-32zM560 442h32v16h-32zM560 458h16v16h-16zM544 474h32v16h-32zM528 490h32v16h-32zM416 506h16v16h-16zM512 506h16v16h-16zM432 522h64v16h-64zM80 794h48v16h-48zM672 794h32v16h-32zM80 810h96v16h-96zM592 810h64v16h-64zM688 810h32v16h-32zM144 826h80v16h-80zM448 826h96v16h-96zM720 826h16v16h-16zM208 842h80v16h-80zM384 842h48v16h-48zM720 842h16v16h-16zM288 858h80v16h-80zM720 922h16v16h-16zM704 970h16v16h-16zM704 986h16v16h-16zM704 1194h16v16h-16zM1072 1210h32v16h-32zM720 1226h16v16h-16zM896 1226h16v16h-16zM768 1242h16v16h-16z"/>
<path fill="#c1c5c9" d="M416 90h16v16h-16zM400 106h16v16h-16zM400 122h16v16h-16zM496 122h16v16h-16zM400 138h16v16h-16zM512 138h16v16h-16zM528 170h16v16h-16zM528 186h16v16h-16zM544 202h16v16h-16zM544 218h16v16h-16zM560 234h16v16h-16zM592 250h32v16h-32zM640 266h32v16h-32zM656 282h48v16h-48zM416 298h16v16h-16zM672 298h48v16h-48zM416 314h16v16h-16zM688 314h32v16h-32zM416 330h16v16h-16zM672 330h48v16h-48zM416 346h16v16h-16zM672 346h64v16h-64zM416 362h16v16h-16zM656 362h96v16h-96zM640 378h112v16h-112zM624 394h144v16h-144zM608 410h160v16h-160zM608 426h160v16h-160zM400 442h16v16h-16zM592 442h160v16h-160zM400 458h16v16h-16zM576 458h176v16h-176zM400 474h16v16h-16zM576 474h160v16h-160zM400 490h16v16h-16zM560 490h48v16h-48zM656 490h80v16h-80zM528 506h48v16h-48zM416 522h16v16h-16zM496 522h32v16h-32zM416 538h64v16h-64zM752 666h16v16h-16zM736 682h32v16h-32zM720 698h48v16h-48zM704 714h48v16h-48zM704 730h48v16h-48zM688 746h48v16h-48zM80 762h32v16h-32zM688 762h48v16h-48zM80 778h80v16h-80zM656 778h80v16h-80zM128 794h80v16h-80zM624 794h48v16h-48zM704 794h32v16h-32zM176 810h80v16h-80zM448 810h64v16h-64zM528 810h64v16h-64zM720 810h16v16h-16zM224 826h80v16h-80zM384 826h64v16h-64zM288 842h96v16h-96zM736 858h16v16h-16zM736 874h16v16h-16zM720 938h16v16h-16zM704 1002h16v16h-16zM704 1098h16v16h-16zM704 1114h16v16h-16zM704 1130h16v16h-16zM704 1146h16v16h-16zM704 1162h16v16h-16zM704 1178h16v16h-16zM720 1210h16v16h-16zM992 1210h80v16h-80zM736 1226h16v16h-16zM816 1226h80v16h-80z"/>
<path fill="#c8cbc7" d="M400 90h16v16h-16zM480 90h16v16h-16zM496 106h16v16h-16zM512 122h16v16h-16zM400 154h16v16h-16zM528 154h16v16h-16zM400 170h16v16h-16zM400 186h16v16h-16zM544 186h16v16h-16zM400 202h16v16h-16zM400 218h16v16h-16zM560 218h16v16h-16zM400 234h16v16h-16zM576 234h32v16h-32zM400 250h16v16h-16zM624 250h48v16h-48zM672 266h32v16h-32zM800 266h48v16h-48zM704 282h32v16h-32zM800 282h64v16h-64zM720 298h32v16h-32zM800 298h64v16h-64zM720 314h128v16h-128zM720 330h96v16h-96zM736 346h64v16h-64zM752 362h48v16h-48zM752 378h48v16h-48zM768 394h32v16h-32zM400 410h16v16h-16zM768 410h32v16h-32zM400 426h16v16h-16zM768 426h16v16h-16zM752 442h32v16h-32zM752 458h32v16h-32zM736 474h32v16h-32zM608 490h48v16h-48zM736 490h32v16h-32zM400 506h16v16h-16zM576 506h192v16h-192zM400 522h16v16h-16zM528 522h240v16h-240zM400 538h16v16h-16zM480 538h32v16h-32zM624 538h144v16h-144zM416 554h48v16h-48zM704 554h64v16h-64zM752 634h32v16h-32zM736 650h48v16h-48zM720 666h32v16h-32zM768 666h16v16h-16zM704 682h32v16h-32zM768 682h16v16h-16zM688 698h32v16h-32zM768 698h16v16h-16zM688 714h16v16h-16zM752 714h32v16h-32zM80 730h32v16h-32zM672 730h32v16h-32zM752 730h16v16h-16zM80 746h80v16h-80zM672 746h16v16h-16zM736 746h32v16h-32zM112 762h96v16h-96zM656 762h32v16h-32zM736 762h16v16h-16zM160 778h80v16h-80zM640 778h16v16h-16zM736 778h16v16h-16zM208 794h80v16h-80zM432 794h32v16h-32zM592 794h32v16h-32zM736 794h16v16h-16zM256 810h80v16h-80zM384 810h64v16h-64zM512 810h16v16h-16zM736 810h16v16h-16zM304 826h80v16h-80zM736 826h16v16h-16zM736 842h16v16h-16zM736 890h16v16h-16zM736 906h16v16h-16zM720 954h16v16h-16zM704 1018h16v16h-16zM704 1082h16v16h-16zM944 1210h48v16h-48zM752 1226h16v16h-16zM800 1226h16v16h-16z"/>
<path fill="#cfd1c4" d="M496 90h16v16h-16zM528 138h16v16h-16zM544 170h16v16h-16zM560 202h16v16h-16zM576 218h16v16h-16zM608 234h64v16h-64zM784 234h64v16h-64zM672 250h48v16h-48zM768 250h112v16h-112zM400 266h16v16h-16zM704 266h96v16h-96zM848 266h48v16h-48zM400 282h16v16h-16zM736 282h64v16h-64zM864 282h32v16h-32zM400 298h16v16h-16zM752 298h48v16h-48zM864 298h32v16h-32zM848 314h48v16h-48zM816 330h80v16h-80zM800 346h64v16h-64zM800 362h48v16h-48zM400 378h16v16h-16zM800 378h32v16h-32zM400 394h16v16h-16zM800 394h16v16h-16zM800 410h16v16h-16zM784 426h32v16h-32zM784 442h16v16h-16zM784 458h16v16h-16zM768 474h32v16h-32zM768 490h32v16h-32zM768 506h32v16h-32zM768 522h16v16h-16zM512 538h112v16h-112zM768 538h16v16h-16zM400 554h16v16h-16zM464 554h32v16h-32zM592 554h112v16h-112zM768 554h16v16h-16zM400 570h64v16h-64zM656 570h128v16h-128zM704 586h80v16h-80zM720 602h64v16h-64zM720 618h80v16h-80zM720 634h32v16h-32zM784 634h16v16h-16zM704 650h32v16h-32zM784 650h16v16h-16zM688 666h32v16h-32zM784 666h16v16h-16zM688 682h16v16h-16zM784 682h16v16h-16zM80 698h80v16h-80zM672 698h16v16h-16zM784 698h16v16h-16zM80 714h112v16h-112zM320 714h48v16h-48zM672 714h16v16h-16zM784 714h16v16h-16zM112 730h112v16h-112zM304 730h80v16h-80zM656 730h16v16h-16zM768 730h16v16h-16zM160 746h224v16h-224zM656 746h16v16h-16zM768 746h16v16h-16zM208 762h144v16h-144zM640 762h16v16h-16zM752 762h16v16h-16zM240 778h96v16h-96zM384 778h96v16h-96zM608 778h32v16h-32zM752 778h16v16h-16zM288 794h144v16h-144zM464 794h128v16h-128zM752 794h16v16h-16zM336 810h48v16h-48zM752 826h16v16h-16zM752 842h16v16h-16zM752 858h16v16h-16zM736 922h16v16h-16zM720 970h16v16h-16zM704 1034h16v16h-16zM704 1050h16v16h-16zM704 1066h16v16h-16zM720 1178h16v16h-16zM720 1194h16v16h-16zM1040 1194h64v16h-64zM736 1210h16v16h-16zM928 1210h16v16h-16zM768 1226h32v16h-32z"/>
<path fill="#d7d7c2" d="M384 106h16v16h-16zM512 106h16v16h-16zM384 122h16v16h-16zM384 138h16v16h-16zM544 154h16v16h-16zM560 186h16v16h-16zM688 186h32v16h-32zM576 202h16v16h-16zM672 202h64v16h-64zM592 218h32v16h-32zM656 218h48v16h-48zM736 218h128v16h-128zM672 234h112v16h-112zM848 234h32v16h-32zM720 250h48v16h-48zM880 250h16v16h-16zM896 266h16v16h-16zM896 282h16v16h-16zM896 298h32v16h-32zM400 314h16v16h-16zM896 314h32v16h-32zM400 330h16v16h-16zM896 330h32v16h-32zM400 346h16v16h-16zM864 346h48v16h-48zM400 362h16v16h-16zM848 362h32v16h-32zM832 378h16v16h-16zM816 394h32v16h-32zM816 410h16v16h-16zM816 426h16v16h-16zM800 442h32v16h-32zM800 458h16v16h-16zM384 474h16v16h-16zM800 474h16v16h-16zM384 490h16v16h-16zM800 490h16v16h-16zM384 506h16v16h-16zM800 506h16v16h-16zM384 522h16v16h-16zM784 522h32v16h-32zM384 538h16v16h-16zM784 538h16v16h-16zM384 554h16v16h-16zM496 554h96v16h-96zM784 554h16v16h-16zM368 570h32v16h-32zM464 570h16v16h-16zM592 570h64v16h-64zM784 570h16v16h-16zM368 586h96v16h-96zM656 586h48v16h-48zM784 586h16v16h-16zM368 602h64v16h-64zM688 602h32v16h-32zM784 602h16v16h-16zM704 618h16v16h-16zM800 618h16v16h-16zM160 634h16v16h-16zM688 634h32v16h-32zM800 634h16v16h-16zM96 650h112v16h-112zM688 650h16v16h-16zM800 650h16v16h-16zM80 666h144v16h-144zM336 666h48v16h-48zM672 666h16v16h-16zM800 666h16v16h-16zM80 682h144v16h-144zM304 682h96v16h-96zM672 682h16v16h-16zM800 682h16v16h-16zM160 698h240v16h-240zM656 698h16v16h-16zM800 698h16v16h-16zM192 714h128v16h-128zM368 714h48v16h-48zM656 714h16v16h-16zM224 730h80v16h-80zM384 730h32v16h-32zM784 730h16v16h-16zM384 746h64v16h-64zM640 746h16v16h-16zM784 746h16v16h-16zM352 762h128v16h-128zM608 762h32v16h-32zM768 762h16v16h-16zM336 778h48v16h-48zM480 778h48v16h-48zM576 778h32v16h-32zM768 778h16v16h-16zM752 810h16v16h-16zM752 874h16v16h-16zM752 890h16v16h-16zM736 938h16v16h-16zM720 986h16v16h-16zM720 1098h16v16h-16zM720 1114h16v16h-16zM720 1130h16v16h-16zM720 1146h16v16h-16zM720 1162h16v16h-16zM992 1194h48v16h-48zM912 1210h16v16h-16z"/>
<path fill="#dedebf" d="M384 90h16v16h-16zM512 90h16v16h-16zM528 122h16v16h-16zM544 138h16v16h-16zM384 154h16v16h-16zM560 170h16v16h-16zM688 170h48v16h-48zM576 186h16v16h-16zM672 186h16v16h-16zM720 186h80v16h-80zM592 202h32v16h-32zM656 202h16v16h-16zM736 202h128v16h-128zM384 218h16v16h-16zM624 218h32v16h-32zM704 218h32v16h-32zM864 218h16v16h-16zM384 234h16v16h-16zM880 234h32v16h-32zM384 250h16v16h-16zM896 250h16v16h-16zM912 266h16v16h-16zM912 282h16v16h-16zM928 298h16v16h-16zM928 314h16v16h-16zM1040 314h48v16h-48zM928 330h16v16h-16zM1040 330h48v16h-48zM912 346h16v16h-16zM1040 346h32v16h-32zM880 362h32v16h-32zM848 378h48v16h-48zM848 394h16v16h-16zM832 410h16v16h-16zM832 426h16v16h-16zM832 442h16v16h-16zM384 458h16v16h-16zM816 458h32v16h-32zM816 474h16v16h-16zM816 490h16v16h-16zM816 506h16v16h-16zM368 538h16v16h-16zM800 538h16v16h-16zM336 554h48v16h-48zM800 554h16v16h-16zM224 570h144v16h-144zM480 570h112v16h-112zM800 570h16v16h-16zM160 586h208v16h-208zM464 586h32v16h-32zM576 586h80v16h-80zM800 586h16v16h-16zM128 602h240v16h-240zM432 602h32v16h-32zM640 602h48v16h-48zM800 602h16v16h-16zM96 618h352v16h-352zM672 618h32v16h-32zM80 634h80v16h-80zM176 634h256v16h-256zM672 634h16v16h-16zM80 650h16v16h-16zM208 650h208v16h-208zM656 650h32v16h-32zM224 666h112v16h-112zM384 666h32v16h-32zM656 666h16v16h-16zM224 682h80v16h-80zM400 682h32v16h-32zM656 682h16v16h-16zM400 698h32v16h-32zM640 698h16v16h-16zM416 714h32v16h-32zM640 714h16v16h-16zM800 714h16v16h-16zM416 730h48v16h-48zM624 730h32v16h-32zM800 730h16v16h-16zM448 746h32v16h-32zM608 746h32v16h-32zM800 746h16v16h-16zM480 762h32v16h-32zM592 762h16v16h-16zM784 762h16v16h-16zM528 778h48v16h-48zM768 794h16v16h-16zM768 810h16v16h-16zM768 826h16v16h-16zM768 842h16v16h-16zM768 858h16v16h-16zM752 906h16v16h-16zM736 954h16v16h-16zM720 1002h16v16h-16zM720 1082h16v16h-16zM1072 1178h32v16h-32zM736 1194h16v16h-16zM976 1194h16v16h-16zM752 1210h16v16h-16zM800 1210h32v16h-32zM896 1210h16v16h-16z"/>
<path fill="#e6e5bc" d="M528 106h16v16h-16zM560 154h16v16h-16zM384 170h16v16h-16zM576 170h16v16h-16zM672 170h16v16h-16zM736 170h64v16h-64zM384 186h16v16h-16zM592 186h16v16h-16zM640 186h32v16h-32zM800 186h48v16h-48zM384 202h16v16h-16zM624 202h32v16h-32zM864 202h16v16h-16zM880 218h32v16h-32zM912 234h16v16h-16zM912 250h16v16h-16zM384 266h16v16h-16zM928 266h16v16h-16zM384 282h16v16h-16zM928 282h160v16h-160zM944 298h160v16h-160zM944 314h96v16h-96zM1088 314h16v16h-16zM944 330h16v16h-16zM992 330h48v16h-48zM1088 330h16v16h-16zM928 346h16v16h-16zM1008 346h32v16h-32zM1072 346h32v16h-32zM912 362h16v16h-16zM1008 362h80v16h-80zM896 378h16v16h-16zM1024 378h32v16h-32zM384 394h16v16h-16zM864 394h48v16h-48zM384 410h16v16h-16zM848 410h48v16h-48zM384 426h16v16h-16zM848 426h48v16h-48zM384 442h16v16h-16zM848 442h32v16h-32zM848 458h32v16h-32zM832 474h32v16h-32zM832 490h16v16h-16zM368 506h16v16h-16zM832 506h16v16h-16zM368 522h16v16h-16zM816 522h16v16h-16zM272 538h16v16h-16zM336 538h32v16h-32zM816 538h16v16h-16zM208 554h128v16h-128zM816 554h16v16h-16zM128 570h96v16h-96zM816 570h16v16h-16zM96 586h64v16h-64zM496 586h80v16h-80zM816 586h16v16h-16zM80 602h48v16h-48zM464 602h32v16h-32zM560 602h80v16h-80zM816 602h16v16h-16zM80 618h16v16h-16zM448 618h16v16h-16zM608 618h64v16h-64zM816 618h16v16h-16zM432 634h32v16h-32zM640 634h32v16h-32zM816 634h16v16h-16zM416 650h32v16h-32zM608 650h48v16h-48zM816 650h16v16h-16zM416 666h32v16h-32zM592 666h64v16h-64zM816 666h16v16h-16zM432 682h16v16h-16zM592 682h64v16h-64zM816 682h16v16h-16zM432 698h32v16h-32zM592 698h48v16h-48zM816 698h16v16h-16zM448 714h16v16h-16zM608 714h32v16h-32zM816 714h16v16h-16zM464 730h16v16h-16zM592 730h32v16h-32zM480 746h32v16h-32zM576 746h32v16h-32zM512 762h80v16h-80zM800 762h16v16h-16zM784 778h16v16h-16zM784 794h16v16h-16zM784 810h16v16h-16zM784 826h16v16h-16zM768 874h16v16h-16zM752 922h16v16h-16zM720 1018h16v16h-16zM720 1066h16v16h-16zM736 1114h16v16h-16zM736 1130h16v16h-16zM736 1146h16v16h-16zM736 1162h16v16h-16zM736 1178h16v16h-16zM1024 1178h48v16h-48zM752 1194h16v16h-16zM944 1194h32v16h-32zM768 1210h32v16h-32zM832 1210h16v16h-16zM880 1210h16v16h-16z"/>
<path fill="#efedb9" d="M368 90h16v16h-16zM528 90h16v16h-16zM368 106h16v16h-16zM368 122h16v16h-16zM544 122h16v16h-16zM560 138h16v16h-16zM576 154h16v16h-16zM688 154h112v16h-112zM592 170h16v16h-16zM656 170h16v16h-16zM800 170h48v16h-48zM608 186h32v16h-32zM848 186h32v16h-32zM880 202h32v16h-32zM912 218h16v16h-16zM928 250h16v16h-16zM944 266h144v16h-144zM1088 282h16v16h-16zM384 298h16v16h-16zM384 314h16v16h-16zM384 330h16v16h-16zM960 330h32v16h-32zM384 346h16v16h-16zM944 346h64v16h-64zM384 362h16v16h-16zM928 362h16v16h-16zM976 362h32v16h-32zM1088 362h16v16h-16zM384 378h16v16h-16zM912 378h16v16h-16zM976 378h48v16h-48zM1056 378h16v16h-16zM912 394h16v16h-16zM976 394h16v16h-16zM896 410h32v16h-32zM896 426h32v16h-32zM880 442h32v16h-32zM880 458h16v16h-16zM864 474h16v16h-16zM368 490h16v16h-16zM848 490h16v16h-16zM848 506h16v16h-16zM336 522h32v16h-32zM832 522h16v16h-16zM128 538h32v16h-32zM224 538h48v16h-48zM288 538h48v16h-48zM832 538h16v16h-16zM112 554h96v16h-96zM80 570h48v16h-48zM80 586h16v16h-16zM832 586h16v16h-16zM496 602h64v16h-64zM832 602h16v16h-16zM464 618h48v16h-48zM528 618h80v16h-80zM832 618h16v16h-16zM464 634h16v16h-16zM560 634h80v16h-80zM448 650h32v16h-32zM576 650h32v16h-32zM448 666h16v16h-16zM576 666h16v16h-16zM448 682h16v16h-16zM576 682h16v16h-16zM464 698h16v16h-16zM576 698h16v16h-16zM464 714h32v16h-32zM576 714h32v16h-32zM480 730h32v16h-32zM576 730h16v16h-16zM816 730h16v16h-16zM512 746h64v16h-64zM816 746h16v16h-16zM800 778h16v16h-16zM800 794h16v16h-16zM800 810h16v16h-16zM784 842h16v16h-16zM784 858h16v16h-16zM768 890h16v16h-16zM752 938h16v16h-16zM736 970h16v16h-16zM720 1034h16v16h-16zM720 1050h16v16h-16zM736 1098h16v16h-16zM1088 1162h16v16h-16zM752 1178h16v16h-16zM992 1178h32v16h-32zM928 1194h16v16h-16zM848 1210h32v16h-32z"/>
<path fill="#f7f4b6" d="M544 106h16v16h-16zM368 138h16v16h-16zM704 138h64v16h-64zM592 154h16v16h-16zM656 154h32v16h-32zM800 154h32v16h-32zM608 170h48v16h-48zM848 170h32v16h-32zM880 186h16v16h-16zM912 202h16v16h-16zM368 218h16v16h-16zM368 234h16v16h-16zM928 234h16v16h-16zM368 250h16v16h-16zM944 250h64v16h-64zM1088 266h16v16h-16zM944 362h32v16h-32zM928 378h48v16h-48zM1072 378h32v16h-32zM928 394h48v16h-48zM992 394h64v16h-64zM928 410h64v16h-64zM928 426h16v16h-16zM912 442h16v16h-16zM896 458h16v16h-16zM368 474h16v16h-16zM880 474h16v16h-16zM864 490h16v16h-16zM352 506h16v16h-16zM128 522h32v16h-32zM240 522h96v16h-96zM848 522h16v16h-16zM112 538h16v16h-16zM160 538h64v16h-64zM848 538h16v16h-16zM80 554h32v16h-32zM832 554h16v16h-16zM832 570h16v16h-16zM848 586h16v16h-16zM848 602h16v16h-16zM512 618h16v16h-16zM480 634h80v16h-80zM832 634h16v16h-16zM480 650h32v16h-32zM544 650h32v16h-32zM832 650h16v16h-16zM464 666h32v16h-32zM560 666h16v16h-16zM464 682h32v16h-32zM560 682h16v16h-16zM480 698h32v16h-32zM560 698h16v16h-16zM496 714h32v16h-32zM560 714h16v16h-16zM512 730h64v16h-64zM816 762h16v16h-16zM800 826h16v16h-16zM800 842h16v16h-16zM784 874h16v16h-16zM768 906h16v16h-16zM736 986h16v16h-16zM736 1002h16v16h-16zM736 1082h16v16h-16zM752 1130h16v16h-16zM752 1146h16v16h-16zM752 1162h16v16h-16zM1040 1162h48v16h-48zM976 1178h16v16h-16zM768 1194h16v16h-16zM800 1194h16v16h-16zM912 1194h16v16h-16z"/>
<path fill="#faf4b0" d="M352 90h16v16h-16zM352 106h16v16h-16zM560 122h16v16h-16zM576 138h16v16h-16zM672 138h32v16h-32zM768 138h64v16h-64zM368 154h16v16h-16zM608 154h48v16h-48zM832 154h32v16h-32zM880 170h16v16h-16zM368 186h16v16h-16zM896 186h16v16h-16zM368 202h16v16h-16zM928 218h16v16h-16zM944 234h16v16h-16zM1008 250h96v16h-96zM368 266h16v16h-16zM368 282h16v16h-16zM1056 394h32v16h-32zM992 410h16v16h-16zM944 426h32v16h-32zM928 442h16v16h-16zM368 458h16v16h-16zM352 490h16v16h-16zM880 490h16v16h-16zM272 506h80v16h-80zM864 506h16v16h-16zM112 522h16v16h-16zM160 522h80v16h-80zM80 538h32v16h-32zM848 554h16v16h-16zM848 570h16v16h-16zM848 618h16v16h-16zM512 650h32v16h-32zM496 666h64v16h-64zM832 666h16v16h-16zM496 682h64v16h-64zM832 682h16v16h-16zM512 698h48v16h-48zM832 698h16v16h-16zM528 714h32v16h-32zM832 714h16v16h-16zM832 730h16v16h-16zM832 746h16v16h-16zM816 778h16v16h-16zM816 794h16v16h-16zM816 810h16v16h-16zM816 826h16v16h-16zM800 858h16v16h-16zM784 890h16v16h-16zM768 922h16v16h-16zM752 954h16v16h-16zM736 1018h16v16h-16zM736 1066h16v16h-16zM752 1098h16v16h-16zM752 1114h16v16h-16zM768 1146h16v16h-16zM1088 1146h16v16h-16zM768 1162h16v16h-16zM1024 1162h16v16h-16zM768 1178h32v16h-32zM960 1178h16v16h-16zM784 1194h16v16h-16zM816 1194h16v16h-16zM896 1194h16v16h-16z"/>
<path fill="#f9eca9" d="M544 90h16v16h-16zM560 106h16v16h-16zM352 122h16v16h-16zM704 122h112v16h-112zM592 138h16v16h-16zM656 138h16v16h-16zM832 138h32v16h-32zM864 154h32v16h-32zM368 170h16v16h-16zM896 170h16v16h-16zM912 186h16v16h-16zM928 202h16v16h-16zM944 218h16v16h-16zM960 234h16v16h-16zM368 298h16v16h-16zM368 314h16v16h-16zM368 330h16v16h-16zM368 346h16v16h-16zM368 362h16v16h-16zM368 378h16v16h-16zM368 394h16v16h-16zM1088 394h16v16h-16zM368 410h16v16h-16zM1008 410h16v16h-16zM368 426h16v16h-16zM976 426h16v16h-16zM368 442h16v16h-16zM912 458h16v16h-16zM352 474h16v16h-16zM896 474h16v16h-16zM336 490h16v16h-16zM112 506h64v16h-64zM240 506h32v16h-32zM80 522h32v16h-32zM864 522h16v16h-16zM864 538h16v16h-16zM864 586h16v16h-16zM864 602h16v16h-16zM848 634h16v16h-16zM832 762h16v16h-16zM816 842h16v16h-16zM800 874h16v16h-16zM784 906h16v16h-16zM768 938h16v16h-16zM752 970h16v16h-16zM736 1034h16v16h-16zM736 1050h16v16h-16zM752 1082h16v16h-16zM768 1130h16v16h-16zM1056 1146h32v16h-32zM784 1162h16v16h-16zM992 1162h32v16h-32zM800 1178h16v16h-16zM944 1178h16v16h-16zM832 1194h16v16h-16zM880 1194h16v16h-16z"/>
<path fill="#f8e4a2" d="M736 106h32v16h-32zM576 122h16v16h-16zM672 122h32v16h-32zM816 122h32v16h-32zM352 138h16v16h-16zM608 138h48v16h-48zM864 138h16v16h-16zM352 154h16v16h-16zM896 154h16v16h-16zM912 170h16v16h-16zM928 186h16v16h-16zM352 202h16v16h-16zM944 202h16v16h-16zM352 218h16v16h-16zM960 218h16v16h-16zM352 234h16v16h-16zM976 234h128v16h-128zM352 250h16v16h-16zM352 266h16v16h-16zM1024 410h16v16h-16zM992 426h16v16h-16zM944 442h16v16h-16zM352 458h16v16h-16zM272 490h64v16h-64zM96 506h16v16h-16zM176 506h64v16h-64zM880 506h16v16h-16zM864 554h16v16h-16zM864 570h16v16h-16zM864 618h16v16h-16zM848 650h16v16h-16zM832 778h16v16h-16zM832 794h16v16h-16zM832 810h16v16h-16zM832 826h16v16h-16zM816 858h16v16h-16zM800 890h16v16h-16zM752 986h16v16h-16zM752 1066h16v16h-16zM768 1098h16v16h-16zM768 1114h16v16h-16zM1088 1130h16v16h-16zM784 1146h16v16h-16zM1024 1146h32v16h-32zM800 1162h16v16h-16zM976 1162h16v16h-16zM816 1178h16v16h-16zM928 1178h16v16h-16zM864 1194h16v16h-16z"/>
<path fill="#f7db9b" d="M336 90h16v16h-16zM560 90h16v16h-16zM336 106h16v16h-16zM576 106h16v16h-16zM688 106h48v16h-48zM768 106h64v16h-64zM336 122h16v16h-16zM592 122h16v16h-16zM656 122h16v16h-16zM848 122h16v16h-16zM880 138h16v16h-16zM912 154h16v16h-16zM352 170h16v16h-16zM928 170h16v16h-16zM352 186h16v16h-16zM944 186h16v16h-16zM960 202h16v16h-16zM352 282h16v16h-16zM352 362h16v16h-16zM352 378h16v16h-16zM352 394h16v16h-16zM352 410h16v16h-16zM1040 410h64v16h-64zM352 426h16v16h-16zM352 442h16v16h-16zM960 442h16v16h-16zM928 458h16v16h-16zM320 474h32v16h-32zM912 474h16v16h-16zM112 490h64v16h-64zM240 490h32v16h-32zM896 490h16v16h-16zM80 506h16v16h-16zM880 522h16v16h-16zM848 666h16v16h-16zM848 682h16v16h-16zM848 698h16v16h-16zM848 714h16v16h-16zM848 730h16v16h-16zM848 746h16v16h-16zM832 842h16v16h-16zM832 858h16v16h-16zM816 874h16v16h-16zM800 906h16v16h-16zM784 922h16v16h-16zM768 954h16v16h-16zM752 1002h16v16h-16zM752 1018h16v16h-16zM752 1034h16v16h-16zM752 1050h16v16h-16zM768 1082h16v16h-16zM784 1130h16v16h-16zM1056 1130h32v16h-32zM800 1146h16v16h-16zM1008 1146h16v16h-16zM960 1162h16v16h-16zM912 1178h16v16h-16zM848 1194h16v16h-16z"/>
<path fill="#f4d193" d="M720 90h80v16h-80zM672 106h16v16h-16zM832 106h32v16h-32zM608 122h48v16h-48zM864 122h32v16h-32zM336 138h16v16h-16zM896 138h16v16h-16zM928 154h16v16h-16zM944 170h16v16h-16zM960 186h16v16h-16zM976 202h16v16h-16zM976 218h16v16h-16zM1040 218h64v16h-64zM336 234h16v16h-16zM352 298h16v16h-16zM352 314h16v16h-16zM352 330h16v16h-16zM352 346h16v16h-16zM976 442h16v16h-16zM336 458h16v16h-16zM288 474h32v16h-32zM80 490h32v16h-32zM176 490h32v16h-32zM224 490h16v16h-16zM880 538h16v16h-16zM880 554h16v16h-16zM880 570h16v16h-16zM880 586h16v16h-16zM880 602h16v16h-16zM864 634h16v16h-16zM848 762h16v16h-16zM848 778h16v16h-16zM848 794h16v16h-16zM848 810h16v16h-16zM848 826h16v16h-16zM848 842h16v16h-16zM832 874h16v16h-16zM816 890h16v16h-16zM784 938h16v16h-16zM768 970h16v16h-16zM768 1066h16v16h-16zM784 1114h16v16h-16zM1088 1114h16v16h-16zM1040 1130h16v16h-16zM992 1146h16v16h-16zM816 1162h16v16h-16zM944 1162h16v16h-16zM832 1178h16v16h-16zM896 1178h16v16h-16z"/>
<path fill="#f2c78b" d="M320 90h16v16h-16zM576 90h16v16h-16zM688 90h32v16h-32zM800 90h48v16h-48zM320 106h16v16h-16zM592 106h16v16h-16zM640 106h32v16h-32zM864 106h16v16h-16zM320 122h16v16h-16zM896 122h16v16h-16zM912 138h16v16h-16zM336 154h16v16h-16zM336 170h16v16h-16zM960 170h16v16h-16zM336 186h16v16h-16zM336 202h16v16h-16zM336 218h16v16h-16zM992 218h48v16h-48zM336 250h16v16h-16zM336 266h16v16h-16zM336 410h16v16h-16zM336 426h16v16h-16zM1008 426h16v16h-16zM1072 426h32v16h-32zM336 442h16v16h-16zM320 458h16v16h-16zM944 458h16v16h-16zM112 474h32v16h-32zM256 474h32v16h-32zM208 490h16v16h-16zM896 506h16v16h-16zM880 618h16v16h-16zM864 650h16v16h-16zM848 858h16v16h-16zM816 906h16v16h-16zM800 922h16v16h-16zM784 954h16v16h-16zM768 986h16v16h-16zM768 1002h16v16h-16zM768 1050h16v16h-16zM784 1098h16v16h-16zM1056 1114h32v16h-32zM800 1130h16v16h-16zM1008 1130h32v16h-32zM816 1146h16v16h-16zM976 1146h16v16h-16zM928 1162h16v16h-16zM880 1178h16v16h-16z"/>
<path fill="#f0bf85" d="M592 90h16v16h-16zM656 90h32v16h-32zM848 90h32v16h-32zM608 106h32v16h-32zM880 106h32v16h-32zM912 122h16v16h-16zM320 138h16v16h-16zM928 138h16v16h-16zM320 154h16v16h-16zM944 154h16v16h-16zM976 186h16v16h-16zM992 202h16v16h-16zM1056 202h48v16h-48zM336 282h16v16h-16zM336 298h16v16h-16zM336 314h16v16h-16zM336 330h16v16h-16zM336 346h16v16h-16zM336 362h16v16h-16zM336 378h16v16h-16zM336 394h16v16h-16zM1024 426h48v16h-48zM320 442h16v16h-16zM992 442h16v16h-16zM288 458h32v16h-32zM960 458h16v16h-16zM80 474h32v16h-32zM144 474h32v16h-32zM240 474h16v16h-16zM928 474h16v16h-16zM912 490h16v16h-16zM896 522h16v16h-16zM864 666h16v16h-16zM864 698h16v16h-16zM864 714h16v16h-16zM864 730h16v16h-16zM864 746h16v16h-16zM864 762h16v16h-16zM864 778h16v16h-16zM864 794h16v16h-16zM864 810h16v16h-16zM864 826h16v16h-16zM864 842h16v16h-16zM864 858h16v16h-16zM848 874h16v16h-16zM832 890h16v16h-16zM800 938h16v16h-16zM784 970h16v16h-16zM768 1018h16v16h-16zM768 1034h16v16h-16zM784 1082h16v16h-16zM1088 1098h16v16h-16zM800 1114h16v16h-16zM1040 1114h16v16h-16zM992 1130h16v16h-16zM960 1146h16v16h-16zM832 1162h16v16h-16zM912 1162h16v16h-16zM848 1178h32v16h-32z"/>
<path fill="#eeb680" d="M304 90h16v16h-16zM608 90h48v16h-48zM880 90h16v16h-16zM304 106h16v16h-16zM912 106h16v16h-16zM304 122h16v16h-16zM928 122h16v16h-16zM944 138h16v16h-16zM960 154h16v16h-16zM320 170h16v16h-16zM976 170h16v16h-16zM320 186h16v16h-16zM992 186h16v16h-16zM1088 186h16v16h-16zM320 202h16v16h-16zM1008 202h48v16h-48zM320 218h16v16h-16zM320 234h16v16h-16zM320 250h16v16h-16zM320 266h16v16h-16zM320 362h16v16h-16zM320 378h16v16h-16zM320 394h16v16h-16zM320 410h16v16h-16zM304 426h32v16h-32zM288 442h32v16h-32zM1008 442h16v16h-16zM1088 442h16v16h-16zM96 458h32v16h-32zM256 458h32v16h-32zM176 474h64v16h-64zM896 538h16v16h-16zM896 554h16v16h-16zM896 570h16v16h-16zM896 586h16v16h-16zM880 634h16v16h-16zM864 682h16v16h-16zM880 746h16v16h-16zM880 762h16v16h-16zM880 810h16v16h-16zM880 826h16v16h-16zM880 842h16v16h-16zM864 874h16v16h-16zM848 890h16v16h-16zM832 906h16v16h-16zM816 922h16v16h-16zM784 986h16v16h-16zM784 1050h16v16h-16zM784 1066h16v16h-16zM800 1098h16v16h-16zM1056 1098h32v16h-32zM1008 1114h32v16h-32zM816 1130h16v16h-16zM976 1130h16v16h-16zM832 1146h16v16h-16zM944 1146h16v16h-16z"/>
<path fill="#ecae7b" d="M288 90h16v16h-16zM896 90h16v16h-16zM928 106h16v16h-16zM944 122h16v16h-16zM304 138h16v16h-16zM960 138h16v16h-16zM304 154h16v16h-16zM976 154h16v16h-16zM992 170h16v16h-16zM1008 186h16v16h-16zM1040 186h48v16h-48zM320 282h16v16h-16zM320 298h16v16h-16zM320 314h16v16h-16zM320 330h16v16h-16zM320 346h16v16h-16zM304 378h16v16h-16zM304 394h16v16h-16zM304 410h16v16h-16zM288 426h16v16h-16zM256 442h32v16h-32zM1024 442h64v16h-64zM80 458h16v16h-16zM128 458h32v16h-32zM240 458h16v16h-16zM976 458h16v16h-16zM944 474h16v16h-16zM912 506h16v16h-16zM896 602h16v16h-16zM880 714h16v16h-16zM880 730h16v16h-16zM880 778h16v16h-16zM880 794h16v16h-16zM880 858h16v16h-16zM864 890h16v16h-16zM848 906h16v16h-16zM816 938h16v16h-16zM800 954h16v16h-16zM784 1002h16v16h-16zM784 1018h16v16h-16zM784 1034h16v16h-16zM800 1082h16v16h-16zM1072 1082h32v16h-32zM1040 1098h16v16h-16zM816 1114h16v16h-16zM992 1114h16v16h-16zM960 1130h16v16h-16zM928 1146h16v16h-16zM848 1162h16v16h-16zM896 1162h16v16h-16z"/>
<path fill="#eaa576" d="M912 90h16v16h-16zM288 106h16v16h-16zM944 106h16v16h-16zM288 122h16v16h-16zM960 122h16v16h-16zM288 138h16v16h-16zM976 138h16v16h-16zM992 154h16v16h-16zM304 170h16v16h-16zM1008 170h16v16h-16zM1056 170h48v16h-48zM304 186h16v16h-16zM1024 186h16v16h-16zM304 202h16v16h-16zM304 218h16v16h-16zM304 234h16v16h-16zM304 250h16v16h-16zM304 266h16v16h-16zM304 282h16v16h-16zM304 298h16v16h-16zM304 314h16v16h-16zM304 330h16v16h-16zM304 346h16v16h-16zM304 362h16v16h-16zM288 378h16v16h-16zM288 394h16v16h-16zM256 410h48v16h-48zM240 426h48v16h-48zM80 442h32v16h-32zM240 442h16v16h-16zM160 458h32v16h-32zM224 458h16v16h-16zM992 458h16v16h-16zM1072 458h32v16h-32zM928 490h16v16h-16zM912 522h16v16h-16zM896 618h16v16h-16zM880 650h16v16h-16zM880 682h16v16h-16zM880 698h16v16h-16zM896 730h16v16h-16zM896 746h16v16h-16zM896 762h16v16h-16zM896 778h16v16h-16zM896 794h16v16h-16zM896 810h16v16h-16zM896 826h16v16h-16zM896 842h16v16h-16zM896 858h16v16h-16zM880 874h16v16h-16zM832 922h16v16h-16zM800 970h16v16h-16zM800 986h16v16h-16zM800 1050h16v16h-16zM800 1066h16v16h-16zM1056 1082h16v16h-16zM816 1098h16v16h-16zM1008 1098h32v16h-32zM976 1114h16v16h-16zM832 1130h16v16h-16zM944 1130h16v16h-16zM848 1146h16v16h-16zM912 1146h16v16h-16zM864 1162h32v16h-32z"/>
<path fill="#e89e71" d="M272 90h16v16h-16zM928 90h32v16h-32zM272 106h16v16h-16zM960 106h16v16h-16zM976 122h16v16h-16zM992 138h16v16h-16zM288 154h16v16h-16zM1008 154h16v16h-16zM1088 154h16v16h-16zM288 170h16v16h-16zM1024 170h32v16h-32zM288 186h16v16h-16zM288 202h16v16h-16zM288 218h16v16h-16zM288 234h16v16h-16zM288 314h16v16h-16zM288 330h16v16h-16zM288 346h16v16h-16zM272 362h32v16h-32zM272 378h16v16h-16zM256 394h32v16h-32zM240 410h16v16h-16zM224 426h16v16h-16zM112 442h48v16h-48zM224 442h16v16h-16zM192 458h32v16h-32zM1008 458h64v16h-64zM960 474h16v16h-16zM912 538h16v16h-16zM896 634h16v16h-16zM880 666h16v16h-16zM896 714h16v16h-16zM912 746h16v16h-16zM912 826h16v16h-16zM912 842h16v16h-16zM896 874h16v16h-16zM880 890h16v16h-16zM864 906h16v16h-16zM848 922h16v16h-16zM832 938h16v16h-16zM816 954h16v16h-16zM800 1002h16v16h-16zM800 1018h16v16h-16zM800 1034h16v16h-16zM816 1066h16v16h-16zM1072 1066h32v16h-32zM816 1082h16v16h-16zM1024 1082h32v16h-32zM992 1098h16v16h-16zM832 1114h16v16h-16zM960 1114h16v16h-16zM928 1130h16v16h-16zM896 1146h16v16h-16z"/>
<path fill="#e6966c" d="M960 90h16v16h-16zM976 106h16v16h-16zM272 122h16v16h-16zM992 122h16v16h-16zM272 138h16v16h-16zM1008 138h16v16h-16zM272 154h16v16h-16zM1024 154h64v16h-64zM288 250h16v16h-16zM288 266h16v16h-16zM288 282h16v16h-16zM288 298h16v16h-16zM272 314h16v16h-16zM272 330h16v16h-16zM272 346h16v16h-16zM256 362h16v16h-16zM240 378h32v16h-32zM240 394h16v16h-16zM224 410h16v16h-16zM80 426h48v16h-48zM160 442h64v16h-64zM976 474h16v16h-16zM1024 474h80v16h-80zM944 490h16v16h-16zM928 506h16v16h-16zM912 554h16v16h-16zM912 570h16v16h-16zM912 586h16v16h-16zM912 602h16v16h-16zM896 650h16v16h-16zM896 682h16v16h-16zM896 698h16v16h-16zM912 714h16v16h-16zM912 730h16v16h-16zM912 762h16v16h-16zM912 778h16v16h-16zM912 794h16v16h-16zM912 810h16v16h-16zM912 858h16v16h-16zM912 874h16v16h-16zM896 890h16v16h-16zM880 906h16v16h-16zM864 922h16v16h-16zM848 938h16v16h-16zM832 954h16v16h-16zM816 970h16v16h-16zM816 986h16v16h-16zM816 1034h16v16h-16zM816 1050h16v16h-16zM1072 1050h32v16h-32zM1040 1066h32v16h-32zM992 1082h32v16h-32zM832 1098h16v16h-16zM960 1098h32v16h-32zM944 1114h16v16h-16zM848 1130h16v16h-16zM912 1130h16v16h-16zM864 1146h32v16h-32z"/>
<path fill="#e38f67" d="M256 90h16v16h-16zM976 90h16v16h-16zM256 106h16v16h-16zM992 106h16v16h-16zM256 122h16v16h-16zM1008 122h32v16h-32zM256 138h16v16h-16zM1024 138h80v16h-80zM272 170h16v16h-16zM272 186h16v16h-16zM272 202h16v16h-16zM272 218h16v16h-16zM272 234h16v16h-16zM272 250h16v16h-16zM272 266h16v16h-16zM272 282h16v16h-16zM272 298h16v16h-16zM256 314h16v16h-16zM256 330h16v16h-16zM240 346h32v16h-32zM240 362h16v16h-16zM224 378h16v16h-16zM208 394h32v16h-32zM80 410h16v16h-16zM208 410h16v16h-16zM128 426h96v16h-96zM992 474h32v16h-32zM1088 490h16v16h-16zM928 522h16v16h-16zM912 618h16v16h-16zM896 666h16v16h-16zM912 698h16v16h-16zM912 890h16v16h-16zM896 906h16v16h-16zM880 922h32v16h-32zM864 938h16v16h-16zM848 954h16v16h-16zM832 970h16v16h-16zM816 1002h16v16h-16zM816 1018h16v16h-16zM1088 1034h16v16h-16zM1040 1050h32v16h-32zM832 1066h16v16h-16zM1008 1066h32v16h-32zM832 1082h16v16h-16zM976 1082h16v16h-16zM848 1098h16v16h-16zM944 1098h16v16h-16zM848 1114h16v16h-16zM928 1114h16v16h-16zM864 1130h16v16h-16zM896 1130h16v16h-16z"/>
<path fill="#e18763" d="M240 90h16v16h-16zM992 90h16v16h-16zM240 106h16v16h-16zM1008 106h32v16h-32zM240 122h16v16h-16zM1040 122h64v16h-64zM256 154h16v16h-16zM256 170h16v16h-16zM256 186h16v16h-16zM256 202h16v16h-16zM256 218h16v16h-16zM256 234h16v16h-16zM256 250h16v16h-16zM256 266h16v16h-16zM256 282h16v16h-16zM240 298h32v16h-32zM240 314h16v16h-16zM240 330h16v16h-16zM224 346h16v16h-16zM224 362h16v16h-16zM208 378h16v16h-16zM192 394h16v16h-16zM96 410h112v16h-112zM960 490h16v16h-16zM1024 490h64v16h-64zM944 506h16v16h-16zM928 538h16v16h-16zM912 634h16v16h-16zM912 650h16v16h-16zM912 682h16v16h-16zM928 714h16v16h-16zM928 730h16v16h-16zM928 746h16v16h-16zM928 762h16v16h-16zM928 778h16v16h-16zM928 810h16v16h-16zM928 826h16v16h-16zM928 842h16v16h-16zM928 858h16v16h-16zM928 874h16v16h-16zM928 890h16v16h-16zM912 906h16v16h-16zM912 922h16v16h-16zM880 938h32v16h-32zM864 954h16v16h-16zM848 970h16v16h-16zM832 986h16v16h-16zM832 1002h16v16h-16zM832 1018h16v16h-16zM832 1034h16v16h-16zM1040 1034h48v16h-48zM832 1050h16v16h-16zM1008 1050h32v16h-32zM848 1066h16v16h-16zM976 1066h32v16h-32zM848 1082h16v16h-16zM944 1082h32v16h-32zM928 1098h16v16h-16zM864 1114h16v16h-16zM896 1114h32v16h-32zM880 1130h16v16h-16z"/>
<path fill="#e0805e" d="M224 90h16v16h-16zM1008 90h32v16h-32zM224 106h16v16h-16zM1040 106h64v16h-64zM240 138h16v16h-16zM240 154h16v16h-16zM240 170h16v16h-16zM240 186h16v16h-16zM240 202h16v16h-16zM240 218h16v16h-16zM240 234h16v16h-16zM240 250h16v16h-16zM240 266h16v16h-16zM240 282h16v16h-16zM224 298h16v16h-16zM224 314h16v16h-16zM208 330h32v16h-32zM208 346h16v16h-16zM192 362h32v16h-32zM176 378h32v16h-32zM80 394h112v16h-112zM976 490h48v16h-48zM1056 506h48v16h-48zM928 554h16v16h-16zM928 570h16v16h-16zM928 586h16v16h-16zM912 666h16v16h-16zM928 698h16v16h-16zM928 794h16v16h-16zM928 906h16v16h-16zM928 922h16v16h-16zM912 938h32v16h-32zM880 954h48v16h-48zM864 970h48v16h-48zM848 986h32v16h-32zM848 1002h16v16h-16zM848 1018h16v16h-16zM1040 1018h64v16h-64zM848 1034h16v16h-16zM992 1034h48v16h-48zM848 1050h16v16h-16zM976 1050h32v16h-32zM864 1066h16v16h-16zM944 1066h32v16h-32zM864 1082h16v16h-16zM928 1082h16v16h-16zM864 1098h64v16h-64zM880 1114h16v16h-16z"/>
<path fill="#de795a" d="M1040 90h64v16h-64zM224 122h16v16h-16zM224 138h16v16h-16zM224 154h16v16h-16zM224 170h16v16h-16zM224 186h16v16h-16zM224 202h16v16h-16zM224 218h16v16h-16zM224 234h16v16h-16zM224 250h16v16h-16zM224 266h16v16h-16zM224 282h16v16h-16zM208 298h16v16h-16zM208 314h16v16h-16zM192 330h16v16h-16zM176 346h32v16h-32zM160 362h32v16h-32zM80 378h96v16h-96zM960 506h16v16h-16zM1024 506h32v16h-32zM944 522h16v16h-16zM1088 522h16v16h-16zM928 602h16v16h-16zM928 618h16v16h-16zM928 634h16v16h-16zM928 650h16v16h-16zM928 666h16v16h-16zM928 682h16v16h-16zM944 714h16v16h-16zM944 730h16v16h-16zM944 746h16v16h-16zM944 762h16v16h-16zM944 826h16v16h-16zM944 842h16v16h-16zM944 858h16v16h-16zM944 874h16v16h-16zM944 890h16v16h-16zM944 906h16v16h-16zM944 922h16v16h-16zM944 938h16v16h-16zM928 954h32v16h-32zM912 970h48v16h-48zM880 986h64v16h-64zM864 1002h64v16h-64zM1040 1002h64v16h-64zM864 1018h32v16h-32zM960 1018h80v16h-80zM864 1034h32v16h-32zM944 1034h48v16h-48zM864 1050h32v16h-32zM928 1050h48v16h-48zM880 1066h64v16h-64zM880 1082h48v16h-48z"/>
<path fill="#dd7156" d="M208 90h16v16h-16zM208 106h16v16h-16zM208 122h16v16h-16zM208 138h16v16h-16zM208 154h16v16h-16zM208 170h16v16h-16zM208 186h16v16h-16zM208 202h16v16h-16zM208 218h16v16h-16zM208 234h16v16h-16zM208 250h16v16h-16zM208 266h16v16h-16zM192 282h32v16h-32zM192 298h16v16h-16zM176 314h32v16h-32zM160 330h32v16h-32zM144 346h32v16h-32zM80 362h80v16h-80zM976 506h48v16h-48zM960 522h16v16h-16zM1040 522h48v16h-48zM944 538h16v16h-16zM944 554h16v16h-16zM944 682h16v16h-16zM944 698h16v16h-16zM944 778h16v16h-16zM944 794h16v16h-16zM944 810h16v16h-16zM960 874h16v16h-16zM960 890h16v16h-16zM960 906h16v16h-16zM960 922h16v16h-16zM960 938h16v16h-16zM960 954h32v16h-32zM960 970h48v16h-48zM944 986h160v16h-160zM928 1002h112v16h-112zM896 1018h64v16h-64zM896 1034h48v16h-48zM896 1050h32v16h-32z"/>
<path fill="#db6a52" d="M192 90h16v16h-16zM192 106h16v16h-16zM192 122h16v16h-16zM192 138h16v16h-16zM192 154h16v16h-16zM192 170h16v16h-16zM192 186h16v16h-16zM192 202h16v16h-16zM192 218h16v16h-16zM192 234h16v16h-16zM192 250h16v16h-16zM176 266h32v16h-32zM176 282h16v16h-16zM160 298h32v16h-32zM144 314h32v16h-32zM112 330h48v16h-48zM80 346h64v16h-64zM976 522h16v16h-16zM1008 522h32v16h-32zM1056 538h48v16h-48zM944 570h16v16h-16zM944 586h16v16h-16zM944 602h16v16h-16zM944 618h16v16h-16zM944 634h16v16h-16zM944 650h16v16h-16zM944 666h16v16h-16zM960 714h16v16h-16zM960 730h16v16h-16zM960 746h16v16h-16zM960 826h16v16h-16zM960 842h16v16h-16zM960 858h16v16h-16zM976 890h16v16h-16zM976 906h16v16h-16zM976 922h16v16h-16zM976 938h32v16h-32zM992 954h48v16h-48zM1008 970h96v16h-96z"/>
<path fill="#d9634d" d="M176 90h16v16h-16zM176 106h16v16h-16zM176 122h16v16h-16zM176 138h16v16h-16zM176 154h16v16h-16zM176 170h16v16h-16zM176 186h16v16h-16zM176 202h16v16h-16zM160 218h32v16h-32zM160 234h32v16h-32zM160 250h32v16h-32zM144 266h32v16h-32zM144 282h32v16h-32zM112 298h48v16h-48zM80 314h64v16h-64zM80 330h32v16h-32zM992 522h16v16h-16zM960 538h16v16h-16zM1024 538h32v16h-32zM960 554h16v16h-16zM1072 554h32v16h-32zM960 666h16v16h-16zM960 682h16v16h-16zM960 698h16v16h-16zM960 762h16v16h-16zM960 778h16v16h-16zM960 794h16v16h-16zM960 810h16v16h-16zM976 842h16v16h-16zM976 858h16v16h-16zM976 874h16v16h-16zM992 890h16v16h-16zM992 906h16v16h-16zM992 922h32v16h-32zM1008 938h48v16h-48zM1040 954h64v16h-64z"/>
<path fill="#d85c49" d="M160 90h16v16h-16zM160 106h16v16h-16zM144 122h32v16h-32zM144 138h32v16h-32zM144 154h32v16h-32zM144 170h32v16h-32zM144 186h32v16h-32zM144 202h32v16h-32zM144 218h16v16h-16zM128 234h32v16h-32zM128 250h32v16h-32zM112 266h32v16h-32zM80 282h64v16h-64zM80 298h32v16h-32zM976 538h48v16h-48zM1040 554h32v16h-32zM960 570h16v16h-16zM1072 570h32v16h-32zM960 586h16v16h-16zM960 602h16v16h-16zM960 618h16v16h-16zM960 634h16v16h-16zM960 650h16v16h-16zM976 682h16v16h-16zM976 698h16v16h-16zM976 714h16v16h-16zM976 730h16v16h-16zM976 746h16v16h-16zM976 762h16v16h-16zM976 810h16v16h-16zM976 826h16v16h-16zM992 858h16v16h-16zM992 874h16v16h-16zM1008 890h16v16h-16zM1008 906h32v16h-32zM1024 922h80v16h-80zM1056 938h48v16h-48z"/>
<path fill="#d65545" d="M128 90h32v16h-32zM128 106h32v16h-32zM128 122h16v16h-16zM128 138h16v16h-16zM128 154h16v16h-16zM128 170h16v16h-16zM112 186h32v16h-32zM112 202h32v16h-32zM112 218h32v16h-32zM96 234h32v16h-32zM80 250h48v16h-48zM80 266h32v16h-32zM976 554h64v16h-64zM976 570h16v16h-16zM1024 570h48v16h-48zM976 586h16v16h-16zM1072 586h32v16h-32zM976 602h16v16h-16zM976 618h16v16h-16zM976 634h16v16h-16zM976 650h16v16h-16zM976 666h16v16h-16zM992 682h16v16h-16zM992 698h16v16h-16zM992 714h16v16h-16zM992 730h16v16h-16zM992 746h16v16h-16zM976 778h16v16h-16zM976 794h16v16h-16zM992 826h16v16h-16zM992 842h16v16h-16zM1008 858h16v16h-16zM1008 874h32v16h-32zM1024 890h32v16h-32zM1040 906h64v16h-64z"/>
<path fill="#d24c3c" d="M112 90h16v16h-16zM112 106h16v16h-16zM112 122h16v16h-16zM96 138h32v16h-32zM96 154h32v16h-32zM96 170h32v16h-32zM80 186h32v16h-32zM80 202h32v16h-32zM80 218h32v16h-32zM80 234h16v16h-16zM992 570h32v16h-32zM992 586h80v16h-80zM992 602h112v16h-112zM992 618h48v16h-48zM1088 618h16v16h-16zM992 634h32v16h-32zM992 650h32v16h-32zM992 666h32v16h-32zM1008 682h16v16h-16zM1008 698h16v16h-16zM1008 714h16v16h-16zM1008 730h16v16h-16zM992 762h16v16h-16zM992 778h16v16h-16zM992 794h16v16h-16zM992 810h16v16h-16zM1008 826h16v16h-16zM1008 842h32v16h-32zM1024 858h32v16h-32zM1040 874h64v16h-64zM1056 890h48v16h-48z"/>
<path fill="#cd4232" d="M80 90h32v16h-32zM80 106h32v16h-32zM80 122h32v16h-32zM80 138h16v16h-16zM80 154h16v16h-16zM80 170h16v16h-16zM1040 618h48v16h-48zM1024 634h80v16h-80zM1024 650h80v16h-80zM1024 666h32v16h-32zM1024 682h16v16h-16zM1024 698h16v16h-16zM1024 714h16v16h-16zM1024 730h16v16h-16zM1008 746h32v16h-32zM1008 762h16v16h-16zM1008 778h16v16h-16zM1008 794h32v16h-32zM1008 810h32v16h-32zM1024 826h32v16h-32zM1040 842h32v16h-32zM1056 858h48v16h-48z"/>
<path fill="#c83828" d="M1056 666h48v16h-48zM1040 682h64v16h-64zM1040 698h64v16h-64zM1040 714h64v16h-64zM1040 730h64v16h-64zM1040 746h64v16h-64zM1024 762h80v16h-80zM1024 778h80v16h-80zM1040 794h64v16h-64zM1040 810h64v16h-64zM1056 826h48v16h-48zM1072 842h32v16h-32z"/></g>
<path fill="#2b55d6" d="M470.4 173.6h11.2v5.6h-11.2zM470.4 179.2h11.2v5.6h-11.2zM470.4 184.8h11.2v5.6h-11.2zM470.4 190.4h5.6v5.6h-5.6zM464.8 196.0h5.6v5.6h-5.6zM543.2 291.2h5.6v5.6h-5.6zM537.6 296.8h16.8v5.6h-16.8zM375.2 240.8h11.2v5.6h-11.2zM375.2 246.4h11.2v5.6h-11.2zM252.0 369.6h11.2v5.6h-11.2zM246.4 375.2h16.8v5.6h-16.8zM683.2 296.8h11.2v5.6h-11.2zM840.0 330.4h11.2v5.6h-11.2zM957.6 319.2h11.2v5.6h-11.2zM957.6 324.8h11.2v5.6h-11.2zM985.6 347.2h5.6v5.6h-5.6zM985.6 352.8h5.6v5.6h-5.6zM985.6 358.4h5.6v5.6h-5.6zM1036.0 420.0h11.2v5.6h-11.2zM1013.6 386.4h16.8v5.6h-16.8zM1013.6 392.0h11.2v5.6h-11.2zM828.8 392.0h5.6v5.6h-5.6zM873.6 442.4h5.6v5.6h-5.6zM873.6 448.0h5.6v5.6h-5.6zM660.8 448.0h11.2v5.6h-11.2zM375.2 476.0h11.2v5.6h-11.2zM352.8 459.2h5.6v5.6h-5.6zM884.8 504.0h5.6v5.6h-5.6zM884.8 509.6h5.6v5.6h-5.6zM733.6 599.2h5.6v5.6h-5.6zM733.6 604.8h5.6v5.6h-5.6zM879.2 616.0h5.6v5.6h-5.6zM543.2 683.2h5.6v5.6h-5.6zM543.2 688.8h11.2v5.6h-11.2zM543.2 694.4h5.6v5.6h-5.6zM655.2 632.8h5.6v5.6h-5.6zM655.2 638.4h11.2v5.6h-11.2zM655.2 644.0h11.2v5.6h-11.2zM739.2 772.8h5.6v5.6h-5.6zM772.8 756.0h11.2v5.6h-11.2zM761.6 761.6h33.6v5.6h-33.6zM767.2 767.2h28.0v5.6h-28.0zM431.2 728.0h5.6v5.6h-5.6zM414.4 733.6h28.0v5.6h-28.0zM408.8 739.2h39.2v5.6h-39.2zM414.4 744.8h33.6v5.6h-33.6zM408.8 750.4h39.2v5.6h-39.2zM420.0 756.0h22.4v5.6h-22.4zM448.0 728.0h16.8v5.6h-16.8zM442.4 733.6h22.4v5.6h-22.4zM571.2 700.0h11.2v5.6h-11.2zM537.6 716.8h11.2v5.6h-11.2zM621.6 750.4h5.6v5.6h-5.6zM778.4 1086.4h22.4v5.6h-22.4zM750.4 1114.4h5.6v5.6h-5.6zM750.4 1120.0h5.6v5.6h-5.6zM935.2 935.2h11.2v5.6h-11.2zM907.2 840.0h5.6v5.6h-5.6zM778.4 1187.2h16.8v5.6h-16.8zM683.2 828.8h5.6v5.6h-5.6zM767.2 856.8h5.6v5.6h-5.6zM414.4 408.8h5.6v5.6h-5.6zM599.2 375.2h5.6v5.6h-5.6zM694.4 498.4h5.6v5.6h-5.6zM638.4 616.0h5.6v5.6h-5.6zM817.6 554.4h5.6v5.6h-5.6zM817.6 560.0h5.6v5.6h-5.6zM896.0 638.4h5.6v5.6h-5.6z"/>
<g fill="none" stroke="#2b55d6" stroke-width="5" stroke-linejoin="round">
<path d="M808 1028 L826 1017 L844 1040 L880 1028 L910 1022 L922 1010"/><path d="M811 1029 L818 1060 L826 1089"/>
<path d="M892 956 L916 962 L922 992 L910 1004"/><path d="M933 946 L951 940 L960 949"/>
</g>
<path fill="#2b55d6" d="M453.9 101.1h5.6v5.6h-5.6zM459.5 101.1h5.6v5.6h-5.6zM470.7 106.7h5.6v5.6h-5.6zM403.5 112.3h5.6v5.6h-5.6zM470.7 112.3h5.6v5.6h-5.6zM616.3 112.3h5.6v5.6h-5.6zM621.9 112.3h5.6v5.6h-5.6zM627.5 112.3h5.6v5.6h-5.6zM554.7 117.9h5.6v5.6h-5.6zM565.9 117.9h5.6v5.6h-5.6zM593.9 117.9h5.6v5.6h-5.6zM599.5 117.9h5.6v5.6h-5.6zM403.5 123.5h5.6v5.6h-5.6zM481.9 123.5h5.6v5.6h-5.6zM549.1 123.5h5.6v5.6h-5.6zM627.5 123.5h5.6v5.6h-5.6zM509.9 129.1h5.6v5.6h-5.6zM515.5 129.1h5.6v5.6h-5.6zM521.1 129.1h5.6v5.6h-5.6zM526.7 129.1h5.6v5.6h-5.6zM532.3 129.1h5.6v5.6h-5.6zM537.9 129.1h5.6v5.6h-5.6zM403.5 134.7h5.6v5.6h-5.6zM403.5 140.3h5.6v5.6h-5.6zM627.5 140.3h5.6v5.6h-5.6zM633.1 145.9h5.6v5.6h-5.6zM409.1 151.5h5.6v5.6h-5.6zM638.7 151.5h5.6v5.6h-5.6zM649.9 151.5h5.6v5.6h-5.6zM655.5 157.1h5.6v5.6h-5.6zM397.9 168.3h5.6v5.6h-5.6zM672.3 168.3h5.6v5.6h-5.6zM369.9 173.9h5.6v5.6h-5.6zM375.5 173.9h5.6v5.6h-5.6zM381.1 173.9h5.6v5.6h-5.6zM392.3 173.9h5.6v5.6h-5.6zM364.3 179.5h5.6v5.6h-5.6zM694.7 179.5h5.6v5.6h-5.6zM364.3 190.7h5.6v5.6h-5.6zM963.5 196.3h5.6v5.6h-5.6zM974.7 196.3h5.6v5.6h-5.6zM980.3 196.3h5.6v5.6h-5.6zM997.1 196.3h5.6v5.6h-5.6zM1013.9 196.3h5.6v5.6h-5.6zM358.7 201.9h5.6v5.6h-5.6zM700.3 201.9h5.6v5.6h-5.6zM957.9 201.9h5.6v5.6h-5.6zM963.5 201.9h5.6v5.6h-5.6zM705.9 207.5h5.6v5.6h-5.6zM969.1 207.5h5.6v5.6h-5.6zM711.5 213.1h5.6v5.6h-5.6zM969.1 213.1h5.6v5.6h-5.6zM711.5 218.7h5.6v5.6h-5.6zM963.5 218.7h5.6v5.6h-5.6zM1030.7 218.7h5.6v5.6h-5.6zM711.5 224.3h5.6v5.6h-5.6zM957.9 224.3h5.6v5.6h-5.6zM353.1 229.9h5.6v5.6h-5.6zM347.5 235.5h5.6v5.6h-5.6zM711.5 235.5h5.6v5.6h-5.6zM929.9 235.5h5.6v5.6h-5.6zM941.1 235.5h5.6v5.6h-5.6zM1041.9 235.5h5.6v5.6h-5.6zM924.3 241.1h5.6v5.6h-5.6zM1047.5 241.1h5.6v5.6h-5.6zM722.7 246.7h5.6v5.6h-5.6zM728.3 246.7h5.6v5.6h-5.6zM918.7 246.7h5.6v5.6h-5.6zM1047.5 246.7h5.6v5.6h-5.6zM341.9 252.3h5.6v5.6h-5.6zM896.3 252.3h5.6v5.6h-5.6zM901.9 252.3h5.6v5.6h-5.6zM907.5 252.3h5.6v5.6h-5.6zM913.1 252.3h5.6v5.6h-5.6zM739.5 257.9h5.6v5.6h-5.6zM829.1 257.9h5.6v5.6h-5.6zM879.5 257.9h5.6v5.6h-5.6zM1047.5 257.9h5.6v5.6h-5.6zM756.3 263.5h5.6v5.6h-5.6zM812.3 263.5h5.6v5.6h-5.6zM823.5 263.5h5.6v5.6h-5.6zM845.9 263.5h5.6v5.6h-5.6zM795.5 269.1h5.6v5.6h-5.6zM862.7 269.1h5.6v5.6h-5.6zM1075.5 280.3h5.6v5.6h-5.6zM319.5 291.5h5.6v5.6h-5.6zM1081.1 297.1h5.6v5.6h-5.6zM1081.1 308.3h5.6v5.6h-5.6zM325.1 325.1h5.6v5.6h-5.6zM1075.5 325.1h5.6v5.6h-5.6zM319.5 330.7h5.6v5.6h-5.6zM285.9 336.3h5.6v5.6h-5.6zM1075.5 336.3h5.6v5.6h-5.6zM280.3 341.9h5.6v5.6h-5.6zM291.5 341.9h5.6v5.6h-5.6zM297.1 341.9h5.6v5.6h-5.6zM302.7 341.9h5.6v5.6h-5.6zM1075.5 341.9h5.6v5.6h-5.6zM280.3 347.5h5.6v5.6h-5.6zM1075.5 347.5h5.6v5.6h-5.6zM274.7 353.1h5.6v5.6h-5.6zM1069.9 353.1h5.6v5.6h-5.6zM274.7 358.7h5.6v5.6h-5.6zM1069.9 364.3h5.6v5.6h-5.6zM269.1 369.9h5.6v5.6h-5.6zM1069.9 369.9h5.6v5.6h-5.6zM246.7 375.5h5.6v5.6h-5.6zM252.3 375.5h5.6v5.6h-5.6zM257.9 375.5h5.6v5.6h-5.6zM246.7 381.1h5.6v5.6h-5.6zM1064.3 381.1h5.6v5.6h-5.6zM1064.3 386.7h5.6v5.6h-5.6zM1064.3 392.3h5.6v5.6h-5.6zM1064.3 403.5h5.6v5.6h-5.6zM168.3 409.1h5.6v5.6h-5.6zM257.9 409.1h5.6v5.6h-5.6zM173.9 414.7h5.6v5.6h-5.6zM252.3 414.7h5.6v5.6h-5.6zM1058.7 414.7h5.6v5.6h-5.6zM123.5 420.3h5.6v5.6h-5.6zM185.1 420.3h5.6v5.6h-5.6zM213.1 420.3h5.6v5.6h-5.6zM218.7 420.3h5.6v5.6h-5.6zM224.3 420.3h5.6v5.6h-5.6zM235.5 420.3h5.6v5.6h-5.6zM123.5 425.9h5.6v5.6h-5.6zM196.3 425.9h5.6v5.6h-5.6zM201.9 425.9h5.6v5.6h-5.6zM207.5 425.9h5.6v5.6h-5.6zM129.1 431.5h5.6v5.6h-5.6zM134.7 431.5h5.6v5.6h-5.6zM1058.7 431.5h5.6v5.6h-5.6zM140.3 437.1h5.6v5.6h-5.6zM145.9 442.7h5.6v5.6h-5.6zM1053.1 442.7h5.6v5.6h-5.6zM145.9 453.9h5.6v5.6h-5.6zM145.9 459.5h5.6v5.6h-5.6zM1047.5 465.1h5.6v5.6h-5.6zM140.3 470.7h5.6v5.6h-5.6zM1047.5 470.7h5.6v5.6h-5.6zM1047.5 476.3h5.6v5.6h-5.6zM1047.5 481.9h5.6v5.6h-5.6zM1041.9 493.1h5.6v5.6h-5.6zM1041.9 498.7h5.6v5.6h-5.6zM1041.9 504.3h5.6v5.6h-5.6zM129.1 509.9h5.6v5.6h-5.6zM123.5 515.5h5.6v5.6h-5.6zM1041.9 515.5h5.6v5.6h-5.6zM112.3 526.7h5.6v5.6h-5.6zM1036.3 526.7h5.6v5.6h-5.6zM106.7 532.3h5.6v5.6h-5.6zM1036.3 537.9h5.6v5.6h-5.6zM1036.3 543.5h5.6v5.6h-5.6zM106.7 554.7h5.6v5.6h-5.6zM112.3 560.3h5.6v5.6h-5.6zM117.9 560.3h5.6v5.6h-5.6zM1030.7 560.3h5.6v5.6h-5.6zM129.1 565.9h5.6v5.6h-5.6zM1030.7 565.9h5.6v5.6h-5.6zM1030.7 571.5h5.6v5.6h-5.6zM151.5 577.1h5.6v5.6h-5.6zM1025.1 577.1h5.6v5.6h-5.6zM168.3 582.7h5.6v5.6h-5.6zM179.5 582.7h5.6v5.6h-5.6zM185.1 582.7h5.6v5.6h-5.6zM190.7 582.7h5.6v5.6h-5.6zM201.9 588.3h5.6v5.6h-5.6zM207.5 588.3h5.6v5.6h-5.6zM218.7 599.5h5.6v5.6h-5.6zM235.5 610.7h5.6v5.6h-5.6zM246.7 610.7h5.6v5.6h-5.6zM1019.5 610.7h5.6v5.6h-5.6zM269.1 616.3h5.6v5.6h-5.6zM274.7 621.9h5.6v5.6h-5.6zM1019.5 621.9h5.6v5.6h-5.6zM285.9 627.5h5.6v5.6h-5.6zM285.9 633.1h5.6v5.6h-5.6zM1013.9 633.1h5.6v5.6h-5.6zM291.5 638.7h5.6v5.6h-5.6zM1013.9 638.7h5.6v5.6h-5.6zM291.5 644.3h5.6v5.6h-5.6zM274.7 655.5h5.6v5.6h-5.6zM280.3 655.5h5.6v5.6h-5.6zM1013.9 655.5h5.6v5.6h-5.6zM263.5 661.1h5.6v5.6h-5.6zM1008.3 661.1h5.6v5.6h-5.6zM246.7 666.7h5.6v5.6h-5.6zM1008.3 666.7h5.6v5.6h-5.6zM1008.3 683.5h5.6v5.6h-5.6zM252.3 689.1h5.6v5.6h-5.6zM1002.7 689.1h5.6v5.6h-5.6zM269.1 694.7h5.6v5.6h-5.6zM274.7 694.7h5.6v5.6h-5.6zM280.3 700.3h5.6v5.6h-5.6zM291.5 705.9h5.6v5.6h-5.6zM297.1 711.5h5.6v5.6h-5.6zM1002.7 711.5h5.6v5.6h-5.6zM308.3 717.1h5.6v5.6h-5.6zM313.9 722.7h5.6v5.6h-5.6zM319.5 722.7h5.6v5.6h-5.6zM325.1 728.3h5.6v5.6h-5.6zM325.1 733.9h5.6v5.6h-5.6zM997.1 733.9h5.6v5.6h-5.6zM330.7 745.1h5.6v5.6h-5.6zM991.5 745.1h5.6v5.6h-5.6zM991.5 756.3h5.6v5.6h-5.6zM991.5 761.9h5.6v5.6h-5.6zM336.3 767.5h5.6v5.6h-5.6zM991.5 767.5h5.6v5.6h-5.6zM498.7 773.1h5.6v5.6h-5.6zM504.3 773.1h5.6v5.6h-5.6zM509.9 773.1h5.6v5.6h-5.6zM532.3 773.1h5.6v5.6h-5.6zM985.9 773.1h5.6v5.6h-5.6zM336.3 778.7h5.6v5.6h-5.6zM392.3 778.7h5.6v5.6h-5.6zM465.1 778.7h5.6v5.6h-5.6zM470.7 778.7h5.6v5.6h-5.6zM481.9 778.7h5.6v5.6h-5.6zM493.1 778.7h5.6v5.6h-5.6zM565.9 778.7h5.6v5.6h-5.6zM985.9 778.7h5.6v5.6h-5.6zM336.3 784.3h5.6v5.6h-5.6zM364.3 784.3h5.6v5.6h-5.6zM369.9 784.3h5.6v5.6h-5.6zM375.5 784.3h5.6v5.6h-5.6zM381.1 784.3h5.6v5.6h-5.6zM386.7 784.3h5.6v5.6h-5.6zM403.5 784.3h5.6v5.6h-5.6zM409.1 784.3h5.6v5.6h-5.6zM414.7 784.3h5.6v5.6h-5.6zM420.3 784.3h5.6v5.6h-5.6zM425.9 784.3h5.6v5.6h-5.6zM431.5 784.3h5.6v5.6h-5.6zM459.5 784.3h5.6v5.6h-5.6zM582.7 784.3h5.6v5.6h-5.6zM341.9 789.9h5.6v5.6h-5.6zM437.1 789.9h5.6v5.6h-5.6zM453.9 789.9h5.6v5.6h-5.6zM985.9 789.9h5.6v5.6h-5.6zM985.9 795.5h5.6v5.6h-5.6zM599.5 801.1h5.6v5.6h-5.6zM980.3 801.1h5.6v5.6h-5.6zM599.5 806.7h5.6v5.6h-5.6zM980.3 806.7h5.6v5.6h-5.6zM605.1 812.3h5.6v5.6h-5.6zM610.7 817.9h5.6v5.6h-5.6zM980.3 817.9h5.6v5.6h-5.6zM616.3 823.5h5.6v5.6h-5.6zM621.9 823.5h5.6v5.6h-5.6zM974.7 829.1h5.6v5.6h-5.6zM633.1 834.7h5.6v5.6h-5.6zM644.3 845.9h5.6v5.6h-5.6zM644.3 851.5h5.6v5.6h-5.6zM974.7 851.5h5.6v5.6h-5.6zM969.1 857.1h5.6v5.6h-5.6zM644.3 862.7h5.6v5.6h-5.6zM969.1 868.3h5.6v5.6h-5.6zM633.1 873.9h5.6v5.6h-5.6zM969.1 873.9h5.6v5.6h-5.6zM969.1 879.5h5.6v5.6h-5.6zM638.7 885.1h5.6v5.6h-5.6zM963.5 885.1h5.6v5.6h-5.6zM644.3 890.7h5.6v5.6h-5.6zM649.9 890.7h5.6v5.6h-5.6zM963.5 890.7h5.6v5.6h-5.6zM655.5 896.3h5.6v5.6h-5.6zM963.5 896.3h5.6v5.6h-5.6zM661.1 901.9h5.6v5.6h-5.6zM963.5 901.9h5.6v5.6h-5.6zM655.5 907.5h5.6v5.6h-5.6zM649.9 913.1h5.6v5.6h-5.6zM644.3 918.7h5.6v5.6h-5.6zM638.7 924.3h5.6v5.6h-5.6zM957.9 924.3h5.6v5.6h-5.6zM633.1 929.9h5.6v5.6h-5.6zM952.3 941.1h5.6v5.6h-5.6zM621.9 946.7h5.6v5.6h-5.6zM621.9 952.3h5.6v5.6h-5.6zM616.3 957.9h5.6v5.6h-5.6zM616.3 969.1h5.6v5.6h-5.6zM946.7 969.1h5.6v5.6h-5.6zM946.7 974.7h5.6v5.6h-5.6zM616.3 980.3h5.6v5.6h-5.6zM946.7 980.3h5.6v5.6h-5.6zM621.9 985.9h5.6v5.6h-5.6zM946.7 991.5h5.6v5.6h-5.6zM627.5 997.1h5.6v5.6h-5.6zM638.7 997.1h5.6v5.6h-5.6zM644.3 997.1h5.6v5.6h-5.6zM649.9 997.1h5.6v5.6h-5.6zM655.5 997.1h5.6v5.6h-5.6zM666.7 997.1h5.6v5.6h-5.6zM672.3 997.1h5.6v5.6h-5.6zM683.5 997.1h5.6v5.6h-5.6zM941.1 997.1h5.6v5.6h-5.6zM633.1 1002.7h5.6v5.6h-5.6zM689.1 1002.7h5.6v5.6h-5.6zM694.7 1002.7h5.6v5.6h-5.6zM941.1 1002.7h5.6v5.6h-5.6zM700.3 1008.3h5.6v5.6h-5.6zM935.5 1025.1h5.6v5.6h-5.6zM935.5 1041.9h5.6v5.6h-5.6zM935.5 1047.5h5.6v5.6h-5.6zM722.7 1053.1h5.6v5.6h-5.6zM929.9 1053.1h5.6v5.6h-5.6zM722.7 1058.7h5.6v5.6h-5.6zM929.9 1058.7h5.6v5.6h-5.6zM929.9 1064.3h5.6v5.6h-5.6zM717.1 1069.9h5.6v5.6h-5.6zM711.5 1075.5h5.6v5.6h-5.6zM929.9 1075.5h5.6v5.6h-5.6zM705.9 1081.1h5.6v5.6h-5.6zM924.3 1081.1h5.6v5.6h-5.6zM700.3 1092.3h5.6v5.6h-5.6zM924.3 1092.3h5.6v5.6h-5.6zM689.1 1097.9h5.6v5.6h-5.6zM924.3 1097.9h5.6v5.6h-5.6zM689.1 1103.5h5.6v5.6h-5.6zM683.5 1114.7h5.6v5.6h-5.6zM689.1 1120.3h5.6v5.6h-5.6zM694.7 1125.9h5.6v5.6h-5.6zM711.5 1125.9h5.6v5.6h-5.6zM717.1 1125.9h5.6v5.6h-5.6zM722.7 1131.5h5.6v5.6h-5.6zM918.7 1131.5h5.6v5.6h-5.6zM728.3 1137.1h5.6v5.6h-5.6zM745.1 1153.9h5.6v5.6h-5.6zM750.7 1159.5h5.6v5.6h-5.6zM913.1 1159.5h5.6v5.6h-5.6zM907.5 1165.1h5.6v5.6h-5.6zM907.5 1170.7h5.6v5.6h-5.6zM907.5 1176.3h5.6v5.6h-5.6zM756.3 1181.9h5.6v5.6h-5.6zM907.5 1181.9h5.6v5.6h-5.6zM750.7 1187.5h5.6v5.6h-5.6zM756.3 1193.1h5.6v5.6h-5.6zM767.5 1193.1h5.6v5.6h-5.6zM901.9 1193.1h5.6v5.6h-5.6zM773.1 1198.7h5.6v5.6h-5.6zM901.9 1204.3h5.6v5.6h-5.6zM795.5 1209.9h5.6v5.6h-5.6zM801.1 1215.5h5.6v5.6h-5.6zM901.9 1215.5h5.6v5.6h-5.6zM806.7 1221.1h5.6v5.6h-5.6zM896.3 1221.1h5.6v5.6h-5.6zM817.9 1232.3h5.6v5.6h-5.6zM823.5 1237.9h5.6v5.6h-5.6zM890.7 1249.1h5.6v5.6h-5.6zM834.7 1254.7h5.6v5.6h-5.6zM890.7 1254.7h5.6v5.6h-5.6zM851.5 1260.3h5.6v5.6h-5.6zM857.1 1260.3h5.6v5.6h-5.6zM862.7 1260.3h5.6v5.6h-5.6zM890.7 1260.3h5.6v5.6h-5.6zM868.3 1265.9h5.6v5.6h-5.6zM873.9 1265.9h5.6v5.6h-5.6zM885.1 1265.9h5.6v5.6h-5.6z"/>
</g>
<line x1="221.7" y1="67" x2="221.7" y2="1341.6" class="g"/>
<line x1="518" y1="67" x2="518" y2="1341.6" class="g"/>
<line x1="813.9" y1="67" x2="813.9" y2="1341.6" class="g"/>
<line x1="81" y1="320" x2="1107.8" y2="320" class="g"/>
<line x1="81" y1="646.7" x2="1107.8" y2="646.7" class="g"/>
<line x1="81" y1="976.5" x2="1107.8" y2="976.5" class="g"/>
<line x1="81" y1="1306.5" x2="1107.8" y2="1306.5" class="g"/>
<rect x="81" y="67" width="1026.8" height="1274.6" class="f"/>
<line x1="221.7" y1="56" x2="221.7" y2="67" class="t"/>
<line x1="221.7" y1="1341.6" x2="221.7" y2="1352.6" class="t"/>
<line x1="518" y1="56" x2="518" y2="67" class="t"/>
<line x1="518" y1="1341.6" x2="518" y2="1352.6" class="t"/>
<line x1="813.9" y1="56" x2="813.9" y2="67" class="t"/>
<line x1="813.9" y1="1341.6" x2="813.9" y2="1352.6" class="t"/>
<line x1="70" y1="320" x2="81" y2="320" class="t"/>
<line x1="1107.8" y1="320" x2="1118.8" y2="320" class="t"/>
<line x1="70" y1="646.7" x2="81" y2="646.7" class="t"/>
<line x1="1107.8" y1="646.7" x2="1118.8" y2="646.7" class="t"/>
<line x1="70" y1="976.5" x2="81" y2="976.5" class="t"/>
<line x1="1107.8" y1="976.5" x2="1118.8" y2="976.5" class="t"/>
<line x1="70" y1="1306.5" x2="81" y2="1306.5" class="t"/>
<line x1="1107.8" y1="1306.5" x2="1118.8" y2="1306.5" class="t"/>
<text x="228" y="49.5" class="tl">736,000</text>
<text x="228" y="1389" class="tl">736,000</text>
<text x="524.5" y="49.5" class="tl">745,000</text>
<text x="524.5" y="1389" class="tl">745,000</text>
<text x="820.5" y="49.5" class="tl">754,000</text>
<text x="820.5" y="1389" class="tl">754,000</text>
<text transform="translate(61 320) rotate(-90)" class="tl">2,620,000</text>
<text transform="translate(61 646.7) rotate(-90)" class="tl">2,610,000</text>
<text transform="translate(61 977.6) rotate(-90)" class="tl">2,600,000</text>
<text transform="translate(61 1305) rotate(-90)" class="tl">2,590,000</text>
<text transform="translate(1156.5 320) rotate(-90)" class="tl">2,620,000</text>
<text transform="translate(1156.5 648) rotate(-90)" class="tl">2,610,000</text>
<text transform="translate(1156.5 977) rotate(-90)" class="tl">2,600,000</text>
<text transform="translate(1156.5 1306) rotate(-90)" class="tl">2,590,000</text>
<g clip-path="url(#clipB)"><g filter="url(#texB)"><rect x="1268" y="88" width="1042" height="1230" fill="#808080"/></g></g>
<line x1="1410" y1="65.6" x2="1410" y2="1346.5" class="g"/>
<line x1="1714" y1="65.6" x2="1714" y2="1346.5" class="g"/>
<line x1="2018.5" y1="65.6" x2="2018.5" y2="1346.5" class="g"/>
<line x1="1266.5" y1="315" x2="2322.5" y2="315" class="g"/>
<line x1="1266.5" y1="645.6" x2="2322.5" y2="645.6" class="g"/>
<line x1="1266.5" y1="976.3" x2="2322.5" y2="976.3" class="g"/>
<line x1="1266.5" y1="1307.1" x2="2322.5" y2="1307.1" class="g"/>
<rect x="1266.5" y="65.6" width="1056.0" height="1280.9" class="f"/>
<line x1="1410" y1="54.599999999999994" x2="1410" y2="65.6" class="t"/>
<line x1="1410" y1="1346.5" x2="1410" y2="1357.5" class="t"/>
<line x1="1714" y1="54.599999999999994" x2="1714" y2="65.6" class="t"/>
<line x1="1714" y1="1346.5" x2="1714" y2="1357.5" class="t"/>
<line x1="2018.5" y1="54.599999999999994" x2="2018.5" y2="65.6" class="t"/>
<line x1="2018.5" y1="1346.5" x2="2018.5" y2="1357.5" class="t"/>
<line x1="1255.5" y1="315" x2="1266.5" y2="315" class="t"/>
<line x1="2322.5" y1="315" x2="2333.5" y2="315" class="t"/>
<line x1="1255.5" y1="645.6" x2="1266.5" y2="645.6" class="t"/>
<line x1="2322.5" y1="645.6" x2="2333.5" y2="645.6" class="t"/>
<line x1="1255.5" y1="976.3" x2="1266.5" y2="976.3" class="t"/>
<line x1="2322.5" y1="976.3" x2="2333.5" y2="976.3" class="t"/>
<line x1="1255.5" y1="1307.1" x2="1266.5" y2="1307.1" class="t"/>
<line x1="2322.5" y1="1307.1" x2="2333.5" y2="1307.1" class="t"/>
<text x="1418.2" y="46" class="tl">736,000</text>
<text x="1418.2" y="1395.3" class="tl">736,000</text>
<text x="1714.4" y="46" class="tl">745,000</text>
<text x="1714.4" y="1395.3" class="tl">745,000</text>
<text x="2011.4" y="46" class="tl">754,000</text>
<text x="2011.4" y="1395.3" class="tl">754,000</text>
<text transform="translate(1247 323.5) rotate(-90)" class="tl">2,620,000</text>
<text transform="translate(1247 649.7) rotate(-90)" class="tl">2,610,000</text>
<text transform="translate(1247 979.5) rotate(-90)" class="tl">2,600,000</text>
<text transform="translate(1247 1308.5) rotate(-90)" class="tl">2,590,000</text>
<text transform="translate(2369.5 323) rotate(-90)" class="tl">2,620,000</text>
<text transform="translate(2369.5 649.7) rotate(-90)" class="tl">2,610,000</text>
<text transform="translate(2369.5 979.8) rotate(-90)" class="tl">2,600,000</text>
<text transform="translate(2369.5 1308.5) rotate(-90)" class="tl">2,590,000</text>
<g clip-path="url(#clipC)"><g filter="url(#texC)"><rect x="81" y="1599" width="1017" height="1175" fill="#808080"/><ellipse cx="459.7" cy="1645.3" rx="40" ry="40" fill="rgb(217,217,217)"/><ellipse cx="495" cy="1758" rx="50" ry="50" fill="rgb(178,178,178)"/><ellipse cx="465.7" cy="2054.7" rx="60" ry="60" fill="rgb(217,217,217)"/><ellipse cx="554.7" cy="2042.8" rx="50" ry="50" fill="rgb(217,217,217)"/><ellipse cx="614" cy="1965.7" rx="50" ry="50" fill="rgb(204,204,204)"/><ellipse cx="732.6" cy="2173.3" rx="60" ry="60" fill="rgb(217,217,217)"/><ellipse cx="851.3" cy="2173.3" rx="60" ry="60" fill="rgb(217,217,217)"/><ellipse cx="898.8" cy="2066.5" rx="40" ry="40" fill="rgb(217,217,217)"/><ellipse cx="940" cy="2114" rx="40" ry="40" fill="rgb(204,204,204)"/><ellipse cx="792" cy="1947.9" rx="40" ry="40" fill="rgb(178,178,178)"/><ellipse cx="821.7" cy="2618.3" rx="50" ry="50" fill="rgb(217,217,217)"/><ellipse cx="881" cy="2559" rx="40" ry="40" fill="rgb(204,204,204)"/><ellipse cx="762.3" cy="2648" rx="40" ry="40" fill="rgb(204,204,204)"/><ellipse cx="851.3" cy="2292" rx="50" ry="50" fill="rgb(178,178,178)"/><ellipse cx="999.7" cy="1995.3" rx="40" ry="40" fill="rgb(178,178,178)"/><ellipse cx="317.3" cy="2054.7" rx="60" ry="60" fill="rgb(51,51,51)"/><ellipse cx="228.3" cy="1965.7" rx="50" ry="50" fill="rgb(64,64,64)"/><ellipse cx="424.1" cy="2232.7" rx="40" ry="30" fill="rgb(26,26,26)"/><ellipse cx="525" cy="2203" rx="40" ry="30" fill="rgb(51,51,51)"/><ellipse cx="970" cy="1847" rx="50" ry="40" fill="rgb(38,38,38)"/><ellipse cx="1059" cy="1864.8" rx="30" ry="40" fill="rgb(51,51,51)"/><ellipse cx="673.3" cy="2351.3" rx="40" ry="40" fill="rgb(64,64,64)"/><ellipse cx="406.3" cy="1651.2" rx="30" ry="30" fill="rgb(51,51,51)"/></g><path fill="#ad2d06" d="M449.0 1632.0h5.0v5h-5.0zM449.0 1637.0h5.0v5h-5.0zM644.0 2052.0h5.0v5h-5.0zM644.0 2057.0h5.0v5h-5.0zM489.0 2152.0h5.0v5h-5.0zM489.0 2157.0h5.0v5h-5.0zM879.0 2047.0h15.0v5h-15.0zM929.0 1907.0h10.0v5h-10.0zM934.0 2117.0h5.0v5h-5.0zM944.0 2137.0h10.0v5h-10.0zM949.0 2152.0h5.0v5h-5.0zM864.0 2607.0h10.0v5h-10.0zM1079.0 1812.0h5.0v5h-5.0zM1079.0 1817.0h5.0v5h-5.0z"/></g>
<line x1="219.3" y1="1577.5" x2="219.3" y2="2800.4" class="g"/>
<line x1="516.8" y1="1577.5" x2="516.8" y2="2800.4" class="g"/>
<line x1="813.4" y1="1577.5" x2="813.4" y2="2800.4" class="g"/>
<line x1="80.2" y1="1816.1" x2="1110" y2="1816.1" class="g"/>
<line x1="80.2" y1="2131.5" x2="1110" y2="2131.5" class="g"/>
<line x1="80.2" y1="2447" x2="1110" y2="2447" class="g"/>
<line x1="80.2" y1="2762.6" x2="1110" y2="2762.6" class="g"/>
<rect x="80.2" y="1577.5" width="1029.8" height="1222.9" class="f"/>
<line x1="219.3" y1="1566.5" x2="219.3" y2="1577.5" class="t"/>
<line x1="219.3" y1="2800.4" x2="219.3" y2="2811.4" class="t"/>
<line x1="516.8" y1="1566.5" x2="516.8" y2="1577.5" class="t"/>
<line x1="516.8" y1="2800.4" x2="516.8" y2="2811.4" class="t"/>
<line x1="813.4" y1="1566.5" x2="813.4" y2="1577.5" class="t"/>
<line x1="813.4" y1="2800.4" x2="813.4" y2="2811.4" class="t"/>
<line x1="69.2" y1="1816.1" x2="80.2" y2="1816.1" class="t"/>
<line x1="1110" y1="1816.1" x2="1121" y2="1816.1" class="t"/>
<line x1="69.2" y1="2131.5" x2="80.2" y2="2131.5" class="t"/>
<line x1="1110" y1="2131.5" x2="1121" y2="2131.5" class="t"/>
<line x1="69.2" y1="2447" x2="80.2" y2="2447" class="t"/>
<line x1="1110" y1="2447" x2="1121" y2="2447" class="t"/>
<line x1="69.2" y1="2762.6" x2="80.2" y2="2762.6" class="t"/>
<line x1="1110" y1="2762.6" x2="1121" y2="2762.6" class="t"/>
<text x="225.3" y="1560.4" class="tl">736,000</text>
<text x="225.3" y="2848.3" class="tl">736,000</text>
<text x="522" y="1560.4" class="tl">745,000</text>
<text x="522" y="2848.3" class="tl">745,000</text>
<text x="818.5" y="1560.4" class="tl">754,000</text>
<text x="818.5" y="2848.3" class="tl">754,000</text>
<text transform="translate(61 1799.5) rotate(-90)" class="tl">2,620,000</text>
<text transform="translate(61 2126.7) rotate(-90)" class="tl">2,610,000</text>
<text transform="translate(61 2455.8) rotate(-90)" class="tl">2,600,000</text>
<text transform="translate(61 2784.7) rotate(-90)" class="tl">2,590,000</text>
<text transform="translate(1156.5 1786.4) rotate(-90)" class="tl">2,620,000</text>
<text transform="translate(1156.5 2112) rotate(-90)" class="tl">2,610,000</text>
<text transform="translate(1156.5 2443.8) rotate(-90)" class="tl">2,600,000</text>
<text transform="translate(1156.5 2772.5) rotate(-90)" class="tl">2,590,000</text>
<g clip-path="url(#clipD)"><g filter="url(#texD)"><rect x="1268" y="1603" width="1042" height="1171" fill="#808080"/><ellipse cx="2000" cy="2150" rx="320" ry="420" fill="rgb(136,136,136)"/><ellipse cx="1480" cy="2000" rx="220" ry="250" fill="rgb(120,120,120)"/><ellipse cx="1656" cy="1650" rx="50" ry="40" fill="rgb(204,204,204)"/><ellipse cx="1571" cy="1729" rx="40" ry="40" fill="rgb(191,191,191)"/><ellipse cx="1814.5" cy="1978" rx="40" ry="40" fill="rgb(204,204,204)"/><ellipse cx="1826.6" cy="2057.5" rx="30" ry="30" fill="rgb(191,191,191)"/><ellipse cx="2100.3" cy="2057.5" rx="40" ry="40" fill="rgb(191,191,191)"/><ellipse cx="2149" cy="2142.6" rx="40" ry="55" fill="rgb(191,191,191)"/><ellipse cx="2088" cy="2203.4" rx="40" ry="30" fill="rgb(204,204,204)"/><ellipse cx="1984.8" cy="2167" rx="45" ry="20" fill="rgb(204,204,204)"/><ellipse cx="2027" cy="2635.3" rx="50" ry="35" fill="rgb(204,204,204)"/><ellipse cx="2088" cy="2672" rx="30" ry="25" fill="rgb(191,191,191)"/><ellipse cx="1662.4" cy="2088" rx="25" ry="20" fill="rgb(204,204,204)"/><ellipse cx="1693" cy="2161" rx="25" ry="25" fill="rgb(204,204,204)"/><ellipse cx="1601.5" cy="2240" rx="40" ry="30" fill="rgb(51,51,51)"/><ellipse cx="1540.7" cy="1765.5" rx="40" ry="40" fill="rgb(64,64,64)"/></g><path fill="#ad2d06" d="M2091.0 2026.0h5.0v5h-5.0zM2091.0 2031.0h15.0v5h-15.0zM2086.0 2036.0h30.0v5h-30.0zM2081.0 2041.0h35.0v5h-35.0zM2081.0 2046.0h40.0v5h-40.0zM2081.0 2051.0h40.0v5h-40.0zM2086.0 2056.0h30.0v5h-30.0zM2086.0 2061.0h30.0v5h-30.0zM2081.0 2066.0h35.0v5h-35.0zM2086.0 2071.0h20.0v5h-20.0zM2096.0 2076.0h5.0v5h-5.0zM2146.0 2106.0h10.0v5h-10.0zM2141.0 2111.0h15.0v5h-15.0zM2161.0 2111.0h5.0v5h-5.0zM2141.0 2116.0h25.0v5h-25.0zM2141.0 2121.0h25.0v5h-25.0zM2131.0 2126.0h35.0v5h-35.0zM2131.0 2131.0h40.0v5h-40.0zM2136.0 2136.0h35.0v5h-35.0zM2136.0 2141.0h35.0v5h-35.0zM2136.0 2146.0h35.0v5h-35.0zM2136.0 2151.0h35.0v5h-35.0zM2136.0 2156.0h35.0v5h-35.0zM2136.0 2161.0h35.0v5h-35.0zM2141.0 2166.0h30.0v5h-30.0zM2136.0 2171.0h15.0v5h-15.0zM2156.0 2171.0h5.0v5h-5.0zM2086.0 2191.0h10.0v5h-10.0zM2071.0 2196.0h35.0v5h-35.0zM2061.0 2201.0h45.0v5h-45.0zM2061.0 2206.0h50.0v5h-50.0zM2066.0 2211.0h45.0v5h-45.0zM2066.0 2216.0h45.0v5h-45.0zM2071.0 2221.0h30.0v5h-30.0zM2081.0 2226.0h5.0v5h-5.0zM1971.0 2161.0h40.0v5h-40.0zM1961.0 2166.0h60.0v5h-60.0zM1966.0 2171.0h45.0v5h-45.0zM2021.0 2616.0h5.0v5h-5.0zM2031.0 2616.0h10.0v5h-10.0zM2001.0 2621.0h55.0v5h-55.0zM2001.0 2626.0h50.0v5h-50.0zM1996.0 2631.0h65.0v5h-65.0zM1996.0 2636.0h60.0v5h-60.0zM2001.0 2641.0h50.0v5h-50.0zM2001.0 2646.0h45.0v5h-45.0zM2011.0 2651.0h5.0v5h-5.0zM2021.0 2651.0h10.0v5h-10.0zM2036.0 2651.0h5.0v5h-5.0zM2066.0 2646.0h10.0v5h-10.0zM2056.0 2651.0h25.0v5h-25.0zM2056.0 2656.0h25.0v5h-25.0zM2056.0 2661.0h25.0v5h-25.0zM2061.0 2666.0h20.0v5h-20.0zM1666.0 2076.0h5.0v5h-5.0zM1646.0 2081.0h25.0v5h-25.0zM1646.0 2086.0h30.0v5h-30.0zM1651.0 2091.0h20.0v5h-20.0zM1656.0 2096.0h5.0v5h-5.0zM1801.0 1966.0h25.0v5h-25.0zM1801.0 1971.0h30.0v5h-30.0zM1801.0 1976.0h30.0v5h-30.0zM1796.0 1981.0h35.0v5h-35.0zM1806.0 1986.0h25.0v5h-25.0zM1806.0 1991.0h20.0v5h-20.0zM1646.0 1636.0h5.0v5h-5.0zM1656.0 1636.0h5.0v5h-5.0zM1636.0 1641.0h35.0v5h-35.0zM1631.0 1646.0h45.0v5h-45.0zM1641.0 1651.0h35.0v5h-35.0zM1641.0 1656.0h30.0v5h-30.0zM1701.0 2146.0h5.0v5h-5.0zM1686.0 2151.0h25.0v5h-25.0zM1686.0 2156.0h25.0v5h-25.0zM1686.0 2161.0h25.0v5h-25.0zM1691.0 2166.0h20.0v5h-20.0zM1381.0 1906.0h15.0v5h-15.0zM1381.0 1911.0h20.0v5h-20.0zM1381.0 1916.0h20.0v5h-20.0zM1386.0 1921.0h10.0v5h-10.0zM2241.0 1801.0h5.0v5h-5.0zM2236.0 1806.0h15.0v5h-15.0zM2236.0 1811.0h15.0v5h-15.0zM2236.0 1816.0h20.0v5h-20.0zM2236.0 1821.0h15.0v5h-15.0zM2236.0 1826.0h15.0v5h-15.0zM2241.0 1831.0h5.0v5h-5.0z"/></g>
<line x1="1409.7" y1="1583.2" x2="1409.7" y2="2800.4" class="g"/>
<line x1="1714.5" y1="1583.2" x2="1714.5" y2="2800.4" class="g"/>
<line x1="2018.5" y1="1583.2" x2="2018.5" y2="2800.4" class="g"/>
<line x1="1267" y1="1819.8" x2="2322.8" y2="1819.8" class="g"/>
<line x1="1267" y1="2134.2" x2="2322.8" y2="2134.2" class="g"/>
<line x1="1267" y1="2448.5" x2="2322.8" y2="2448.5" class="g"/>
<line x1="1267" y1="2762.6" x2="2322.8" y2="2762.6" class="g"/>
<rect x="1267" y="1583.2" width="1055.8" height="1217.2" class="f"/>
<line x1="1409.7" y1="1572.2" x2="1409.7" y2="1583.2" class="t"/>
<line x1="1409.7" y1="2800.4" x2="1409.7" y2="2811.4" class="t"/>
<line x1="1714.5" y1="1572.2" x2="1714.5" y2="1583.2" class="t"/>
<line x1="1714.5" y1="2800.4" x2="1714.5" y2="2811.4" class="t"/>
<line x1="2018.5" y1="1572.2" x2="2018.5" y2="1583.2" class="t"/>
<line x1="2018.5" y1="2800.4" x2="2018.5" y2="2811.4" class="t"/>
<line x1="1256" y1="1819.8" x2="1267" y2="1819.8" class="t"/>
<line x1="2322.8" y1="1819.8" x2="2333.8" y2="1819.8" class="t"/>
<line x1="1256" y1="2134.2" x2="1267" y2="2134.2" class="t"/>
<line x1="2322.8" y1="2134.2" x2="2333.8" y2="2134.2" class="t"/>
<line x1="1256" y1="2448.5" x2="1267" y2="2448.5" class="t"/>
<line x1="2322.8" y1="2448.5" x2="2333.8" y2="2448.5" class="t"/>
<line x1="1256" y1="2762.6" x2="1267" y2="2762.6" class="t"/>
<line x1="2322.8" y1="2762.6" x2="2333.8" y2="2762.6" class="t"/>
<text x="1418.3" y="1560.4" class="tl">736,000</text>
<text x="1418.3" y="2848.3" class="tl">736,000</text>
<text x="1714.5" y="1560.4" class="tl">745,000</text>
<text x="1714.5" y="2848.3" class="tl">745,000</text>
<text x="2011" y="1560.4" class="tl">754,000</text>
<text x="2011" y="2848.3" class="tl">754,000</text>
<text transform="translate(1246.5 1804.6) rotate(-90)" class="tl">2,620,000</text>
<text transform="translate(1246.5 2125) rotate(-90)" class="tl">2,610,000</text>
<text transform="translate(1246.5 2461.1) rotate(-90)" class="tl">2,600,000</text>
<text transform="translate(1246.5 2789.9) rotate(-90)" class="tl">2,590,000</text>
<text transform="translate(2375 1810.9) rotate(-90)" class="tl">2,620,000</text>
<text transform="translate(2375 2138.8) rotate(-90)" class="tl">2,610,000</text>
<text transform="translate(2375 2469.3) rotate(-90)" class="tl">2,600,000</text>
<text transform="translate(2375 2797.3) rotate(-90)" class="tl">2,590,000</text>
<path d="M1152.1 64.8 L1121.8 164.2 L1152.1 127.9 Z" fill="#000" stroke="#000" stroke-width="1.5" stroke-linejoin="round"/>
<path d="M1152.1 64.8 L1181.4 164.2 L1152.1 127.9 Z" fill="#fff" stroke="#000" stroke-width="3.2" stroke-linejoin="round"/>
<path d="M1152.1 64.8 L1121.8 164.2 L1152.1 127.9 Z" fill="#000"/>
<path d="M2367.2 62.7 L2336.1 153.1 L2367.2 125.3 Z" fill="#000" stroke="#000" stroke-width="1.5" stroke-linejoin="round"/>
<path d="M2367.2 62.7 L2397.8 153.1 L2367.2 125.3 Z" fill="#fff" stroke="#000" stroke-width="3.2" stroke-linejoin="round"/>
<path d="M2367.2 62.7 L2336.1 153.1 L2367.2 125.3 Z" fill="#000"/>
<path d="M1153.8 1575.9 L1124.4 1670.0 L1153.8 1633.8 Z" fill="#000" stroke="#000" stroke-width="1.5" stroke-linejoin="round"/>
<path d="M1153.8 1575.9 L1184.0 1670.0 L1153.8 1633.8 Z" fill="#fff" stroke="#000" stroke-width="3.2" stroke-linejoin="round"/>
<path d="M1153.8 1575.9 L1124.4 1670.0 L1153.8 1633.8 Z" fill="#000"/>
<path d="M2368.1 1579.6 L2338.0 1666.3 L2368.1 1639.5 Z" fill="#000" stroke="#000" stroke-width="1.5" stroke-linejoin="round"/>
<path d="M2368.1 1579.6 L2399.7 1666.3 L2368.1 1639.5 Z" fill="#fff" stroke="#000" stroke-width="3.2" stroke-linejoin="round"/>
<path d="M2368.1 1579.6 L2338.0 1666.3 L2368.1 1639.5 Z" fill="#000"/>
<text x="1152.9" y="55.3" class="n">N</text>
<text x="2367.6" y="52.3" class="n">N</text>
<text x="1154.8" y="1564.7" class="n">N</text>
<text x="2369.2" y="1570.2" class="n">N</text>
<text x="153" y="198" class="pl">a</text>
<text x="1343" y="193.8" class="pl">b</text>
<text x="155.3" y="1698.6" class="pl">c</text>
<text x="1345" y="1704" class="pl">d</text>
<rect x="454.1" y="1454.2" width="265.0" height="15.7" fill="#fff" stroke="#222" stroke-width="2.5"/>
<rect x="454.1" y="1454.2" width="44.2" height="15.7" fill="#000"/>
<rect x="542.1" y="1454.2" width="45.6" height="15.7" fill="#000"/>
<text x="454.5" y="1435.8" class="sl">0</text>
<text x="520.2" y="1435.8" class="sl">2</text>
<text x="585.5" y="1435.8" class="sl">4</text>
<text x="719.1" y="1435.8" class="sl">8</text>
<text x="731" y="1468.7" class="km">Km</text>
<rect x="1650.6" y="1459.7" width="271.7" height="14.8" fill="#fff" stroke="#222" stroke-width="2.5"/>
<rect x="1650.6" y="1459.7" width="45.4" height="14.8" fill="#000"/>
<rect x="1741" y="1459.7" width="46.0" height="14.8" fill="#000"/>
<text x="1651.1" y="1441" class="sl">0</text>
<text x="1717.5" y="1441" class="sl">2</text>
<text x="1785.3" y="1441" class="sl">4</text>
<text x="1921.5" y="1441" class="sl">8</text>
<text x="1934.5" y="1475" class="km">Km</text>
<rect x="454.1" y="2908.2" width="265.4" height="15.0" fill="#fff" stroke="#222" stroke-width="2.5"/>
<rect x="454.1" y="2908.2" width="45.4" height="15.0" fill="#000"/>
<rect x="542.1" y="2908.2" width="45.6" height="15.0" fill="#000"/>
<text x="454.5" y="2891" class="sl">0</text>
<text x="520.2" y="2891" class="sl">2</text>
<text x="585.5" y="2891" class="sl">4</text>
<text x="719.1" y="2891" class="sl">8</text>
<text x="731" y="2927.8" class="km">Km</text>
<rect x="1651.1" y="2907.7" width="271.2" height="14.8" fill="#fff" stroke="#222" stroke-width="2.5"/>
<rect x="1651.1" y="2907.7" width="45.6" height="14.8" fill="#000"/>
<rect x="1741.4" y="2907.7" width="46.1" height="14.8" fill="#000"/>
<text x="1651.1" y="2890.2" class="sl">0</text>
<text x="1718.2" y="2890.2" class="sl">2</text>
<text x="1785.9" y="2890.2" class="sl">4</text>
<text x="1922.2" y="2890.2" class="sl">8</text>
<text x="1934.5" y="2925.5" class="km">Km</text>
<text x="116" y="968.4" class="lt" font-size="36" textLength="241" lengthAdjust="spacingAndGlyphs">Soil moisture</text>
<text x="366" y="968.4" class="ll" font-size="38">(m<tspan font-size="24" dy="-15">3</tspan><tspan dy="15">·m</tspan><tspan font-size="24" dy="-15">-3</tspan><tspan dy="15">)</tspan></text>
<rect x="127" y="1006" width="51.3" height="101.2" fill="url(#lgA)" stroke="#555" stroke-width="1"/>
<text x="193" y="1019.2" class="ll" font-size="40">0. 26</text>
<text x="193" y="1070.5" class="ll" font-size="40">0. 20</text>
<text x="193" y="1120.8" class="ll" font-size="40">0</text>
<text x="1319" y="964.8" class="lt" font-size="36" textLength="321" lengthAdjust="spacingAndGlyphs">As content(mg/kg)</text>
<rect x="1320.4" y="993.1" width="57.2" height="27.5" fill="#0d66ee" stroke="#555" stroke-width="2"/>
<rect x="1320.4" y="1044.9" width="57.2" height="27.5" fill="#c0d2f3" stroke="#555" stroke-width="2"/>
<rect x="1320.4" y="1095.7" width="57.2" height="27.5" fill="#fffbc2" stroke="#555" stroke-width="2"/>
<rect x="1320.4" y="1147.2" width="57.2" height="27.5" fill="#ad2d06" stroke="#555" stroke-width="2"/>
<text x="1389" y="1020.1" class="ll" font-size="40" textLength="83" lengthAdjust="spacingAndGlyphs">0-10</text>
<text x="1389" y="1071.9" class="ll" font-size="40" textLength="104" lengthAdjust="spacingAndGlyphs">10-20</text>
<text x="1389" y="1122.7" class="ll" font-size="40" textLength="104" lengthAdjust="spacingAndGlyphs">20-30</text>
<text x="1389" y="1174.2" class="ll" font-size="40" textLength="61" lengthAdjust="spacingAndGlyphs">&gt;30</text>
<text x="130" y="2494.4" class="lt" font-size="36" textLength="314" lengthAdjust="spacingAndGlyphs">Cd content(mg/kg)</text>
<rect x="132" y="2522" width="56" height="26" fill="#0d66ee" stroke="#555" stroke-width="2"/>
<rect x="132" y="2571.7" width="56" height="26" fill="#c0d2f3" stroke="#555" stroke-width="2"/>
<rect x="132" y="2620" width="56" height="26" fill="#fffbc2" stroke="#555" stroke-width="2"/>
<rect x="132" y="2669.6" width="56" height="26" fill="#ad2d06" stroke="#555" stroke-width="2"/>
<text x="199" y="2547.5" class="ll" font-size="40" textLength="99" lengthAdjust="spacingAndGlyphs">0-0. 1</text>
<text x="199" y="2597.2" class="ll" font-size="40" textLength="143" lengthAdjust="spacingAndGlyphs">0. 1-0. 2</text>
<text x="199" y="2645.5" class="ll" font-size="40" textLength="143" lengthAdjust="spacingAndGlyphs">0. 2-0. 3</text>
<text x="199" y="2695.1" class="ll" font-size="40" textLength="81" lengthAdjust="spacingAndGlyphs">&gt;0. 3</text>
<text x="1325" y="2452.6" class="lt" font-size="36" textLength="321" lengthAdjust="spacingAndGlyphs">Hg content(mg/kg)</text>
<rect x="1327.1" y="2479.7" width="51.7" height="23.5" fill="#0d66ee" stroke="#555" stroke-width="2"/>
<rect x="1327.1" y="2528.6" width="51.7" height="23.5" fill="#c4e8f8" stroke="#555" stroke-width="2"/>
<rect x="1327.1" y="2577.7" width="51.7" height="23.5" fill="#fffbc2" stroke="#555" stroke-width="2"/>
<rect x="1327.1" y="2626.1" width="51.7" height="23.5" fill="#ad2d06" stroke="#555" stroke-width="2"/>
<text x="1389" y="2502.7" class="ls" font-size="35" textLength="85" lengthAdjust="spacingAndGlyphs">0-0.1</text>
<text x="1389" y="2551.6" class="ls" font-size="35" textLength="120" lengthAdjust="spacingAndGlyphs">0.1-0.2</text>
<text x="1389" y="2600.7" class="ls" font-size="35" textLength="120" lengthAdjust="spacingAndGlyphs">0.2-0.3</text>
<text x="1389" y="2649.1" class="ls" font-size="35" textLength="70" lengthAdjust="spacingAndGlyphs">&gt;0.3</text>
</svg>
</body></html>
